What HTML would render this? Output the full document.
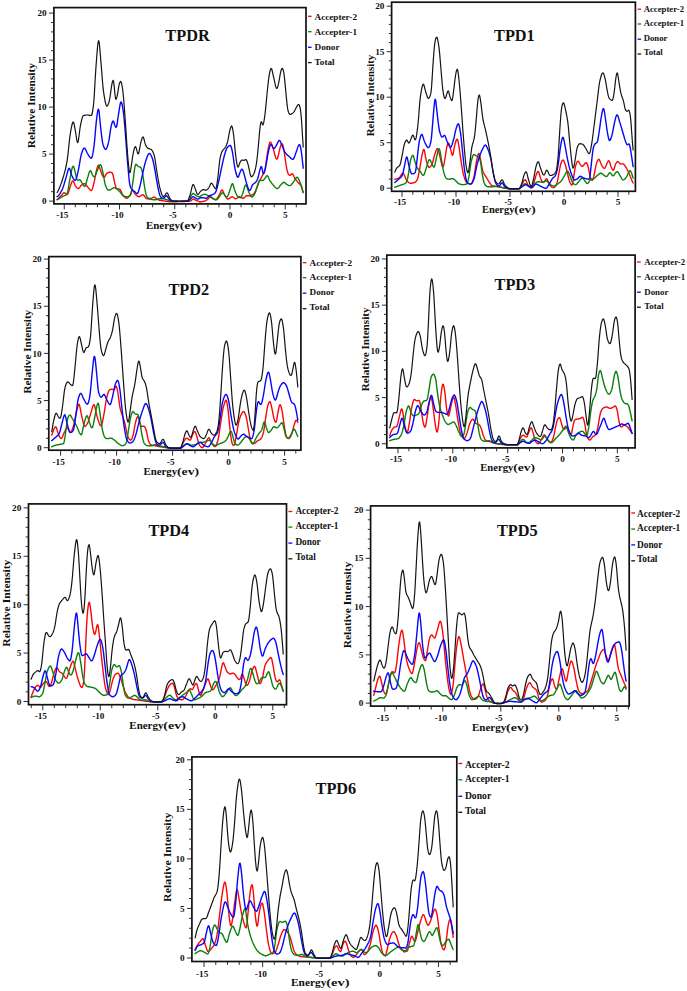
<!DOCTYPE html>
<html><head><meta charset="utf-8"><title>DOS plots</title>
<style>
html,body{margin:0;padding:0;background:#fff;overflow:hidden}
svg{display:block}
text{font-family:"Liberation Serif","DejaVu Serif",serif;font-weight:bold;fill:#111}
.t{}
.a{font-size:10.4px}
.h{font-size:15.5px}
.l{}
</style></head><body>
<svg width="687" height="991" viewBox="0 0 687 991">
<rect width="687" height="991" fill="#fff"/>
<g id="p1"><path d="M57.1 199.6 L57.6 199.3 L58.1 198.8 L58.6 198.3 L59.1 197.8 L59.6 197.3 L60.1 196.8 L60.6 196.3 L61.1 195.7 L61.6 195.2 L62.1 194.5 L62.6 193.9 L63.1 193.3 L63.6 192.9 L64.1 192.8 L64.6 192.9 L65.1 193.2 L65.6 193.6 L66.1 194.1 L66.6 194.5 L67.1 194.6 L67.6 194.2 L68.1 193.3 L68.6 191.9 L69.1 190.2 L69.6 188.5 L70.1 187.0 L70.6 185.6 L71.1 184.1 L71.6 182.7 L72.1 181.5 L72.6 180.9 L73.1 180.9 L73.6 181.6 L74.1 182.8 L74.6 184.2 L75.1 185.3 L75.6 186.1 L76.1 186.8 L76.6 187.4 L77.1 188.0 L77.6 188.4 L78.1 188.6 L78.6 188.5 L79.1 188.1 L79.6 187.5 L80.1 186.8 L80.6 186.0 L81.1 185.5 L81.6 185.0 L82.1 184.6 L82.6 184.3 L83.1 184.0 L83.6 183.8 L84.1 183.7 L84.6 183.7 L85.1 184.0 L85.6 184.5 L86.1 185.1 L86.6 185.7 L87.1 186.3 L87.6 186.9 L88.1 187.5 L88.6 188.1 L89.1 188.8 L89.6 189.4 L90.1 189.9 L90.6 190.3 L91.1 190.6 L91.6 190.4 L92.1 189.6 L92.6 188.2 L93.1 186.4 L93.6 184.4 L94.1 182.3 L94.6 179.9 L95.1 177.3 L95.6 174.5 L96.1 172.1 L96.6 170.0 L97.1 168.1 L97.6 166.5 L98.1 165.4 L98.6 165.2 L99.1 166.0 L99.6 167.5 L100.1 169.2 L100.6 170.7 L101.1 172.0 L101.6 173.3 L102.1 174.6 L102.6 175.7 L103.1 176.6 L103.6 177.2 L104.1 177.4 L104.6 177.0 L105.1 176.2 L105.6 175.1 L106.1 174.2 L106.6 173.6 L107.1 173.2 L107.6 172.9 L108.1 172.7 L108.6 172.5 L109.1 172.3 L109.6 172.2 L110.1 172.1 L110.6 172.1 L111.1 172.3 L111.6 172.5 L112.1 173.0 L112.6 173.7 L113.1 175.2 L113.6 177.5 L114.1 180.1 L114.6 182.4 L115.1 184.5 L115.6 186.3 L116.1 187.7 L116.6 188.5 L117.1 188.7 L117.6 188.8 L118.1 188.9 L118.6 188.9 L119.1 189.0 L119.6 189.1 L120.1 189.5 L120.6 190.3 L121.1 191.4 L121.6 192.5 L122.1 193.6 L122.6 194.5 L123.1 195.2 L123.6 195.8 L124.1 196.5 L124.6 197.0 L125.1 197.5 L125.6 197.9 L126.1 198.2 L126.6 198.3 L127.1 198.2 L127.6 198.0 L128.1 197.6 L128.6 197.1 L129.1 196.5 L129.6 195.9 L130.1 195.0 L130.6 193.9 L131.1 192.5 L131.6 191.3 L132.1 190.6 L132.6 190.5 L133.1 190.9 L133.6 191.7 L134.1 192.6 L134.6 193.4 L135.1 194.0 L135.6 194.5 L136.1 195.0 L136.6 195.5 L137.1 195.9 L137.6 196.3 L138.1 196.5 L138.6 196.7 L139.1 196.7 L139.6 196.5 L140.1 196.2 L140.6 195.9 L141.1 195.5 L141.6 195.2 L142.1 194.9 L142.6 194.8 L143.1 194.8 L143.6 195.1 L144.1 195.6 L144.6 196.3 L145.1 197.0 L145.6 197.7 L146.1 198.3 L146.6 198.6 L147.1 198.7 L147.6 198.7 L148.1 198.7 L148.6 198.7 L149.1 198.6 L149.6 198.5 L150.1 198.5 L150.6 198.4 L151.1 198.3 L151.6 198.1 L152.1 197.9 L152.6 197.6 L153.1 197.4 L153.6 197.2 L154.1 197.2 L154.6 197.3 L155.1 197.6 L155.6 198.0 L156.1 198.4 L156.6 198.8 L157.1 199.2 L157.6 199.5 L158.1 199.8 L158.6 199.9 L159.1 200.1 L159.6 200.2 L160.1 200.3 L160.6 200.4 L161.1 200.5 L161.6 200.5 L162.1 200.6 L162.6 200.7 L163.1 200.8 L163.6 200.9 L164.1 200.9 L164.6 201.0 L165.1 201.1 L165.6 201.2 L166.1 201.3 L166.6 201.3 L167.1 201.4 L167.6 201.5 L168.1 201.6 L168.6 201.6 L169.1 201.7 L169.6 201.7 L170.1 201.7 L170.6 201.8 L171.1 201.8 L171.6 201.8 L172.1 201.8 L172.6 201.8 L173.1 201.8 L173.6 201.7 L174.1 201.7 L174.6 201.7 L175.1 201.7 L175.6 201.7 L176.1 201.7 L176.6 201.7 L177.1 201.7 L177.6 201.6 L178.1 201.6 L178.6 201.6 L179.1 201.6 L179.6 201.6 L180.1 201.6 L180.6 201.6 L181.1 201.5 L181.6 201.5 L182.1 201.5 L182.6 201.5 L183.1 201.5 L183.6 201.5 L184.1 201.5 L184.6 201.5 L185.1 201.4 L185.6 201.4 L186.1 201.4 L186.6 201.4 L187.1 201.4 L187.6 201.3 L188.1 201.3 L188.6 201.3 L189.1 201.2 L189.6 201.2 L190.1 201.1 L190.6 201.0 L191.1 200.6 L191.6 200.2 L192.1 199.7 L192.6 199.4 L193.1 199.2 L193.6 199.2 L194.1 199.4 L194.6 199.6 L195.1 199.8 L195.6 200.1 L196.1 200.3 L196.6 200.5 L197.1 200.8 L197.6 201.0 L198.1 201.2 L198.6 201.4 L199.1 201.6 L199.6 201.7 L200.1 201.8 L200.6 201.8 L201.1 201.7 L201.6 201.7 L202.1 201.6 L202.6 201.5 L203.1 201.4 L203.6 201.3 L204.1 201.2 L204.6 201.1 L205.1 200.9 L205.6 200.7 L206.1 200.4 L206.6 200.2 L207.1 199.8 L207.6 199.4 L208.1 198.9 L208.6 198.3 L209.1 197.6 L209.6 197.1 L210.1 196.8 L210.6 196.8 L211.1 197.0 L211.6 197.2 L212.1 197.6 L212.6 198.0 L213.1 198.5 L213.6 198.9 L214.1 199.3 L214.6 199.5 L215.1 199.7 L215.6 199.7 L216.1 199.4 L216.6 199.0 L217.1 198.4 L217.6 197.6 L218.1 196.8 L218.6 196.0 L219.1 195.2 L219.6 194.3 L220.1 193.2 L220.6 192.0 L221.1 190.8 L221.6 190.1 L222.1 189.9 L222.6 190.4 L223.1 191.4 L223.6 192.7 L224.1 194.0 L224.6 194.9 L225.1 195.8 L225.6 196.6 L226.1 197.4 L226.6 198.1 L227.1 198.6 L227.6 199.0 L228.1 199.1 L228.6 199.0 L229.1 198.7 L229.6 198.4 L230.1 197.9 L230.6 197.5 L231.1 197.1 L231.6 196.9 L232.1 196.8 L232.6 196.9 L233.1 197.2 L233.6 197.5 L234.1 198.0 L234.6 198.3 L235.1 198.6 L235.6 198.7 L236.1 198.6 L236.6 198.4 L237.1 198.1 L237.6 197.7 L238.1 197.3 L238.6 197.0 L239.1 196.8 L239.6 196.8 L240.1 196.9 L240.6 197.1 L241.1 197.4 L241.6 197.7 L242.1 198.0 L242.6 198.2 L243.1 198.3 L243.6 198.1 L244.1 197.7 L244.6 197.3 L245.1 196.7 L245.6 196.3 L246.1 195.9 L246.6 195.8 L247.1 195.7 L247.6 195.7 L248.1 195.7 L248.6 195.7 L249.1 195.7 L249.6 195.7 L250.1 195.7 L250.6 195.6 L251.1 195.4 L251.6 195.2 L252.1 195.0 L252.6 194.7 L253.1 194.4 L253.6 193.9 L254.1 193.3 L254.6 192.5 L255.1 191.7 L255.6 190.9 L256.1 189.8 L256.6 188.6 L257.1 187.2 L257.6 185.7 L258.1 184.3 L258.6 183.0 L259.1 181.8 L259.6 180.8 L260.1 179.8 L260.6 178.8 L261.1 177.9 L261.6 176.9 L262.1 176.0 L262.6 175.1 L263.1 174.2 L263.6 173.3 L264.1 172.3 L264.6 170.9 L265.1 168.9 L265.6 166.0 L266.1 162.3 L266.6 158.5 L267.1 155.2 L267.6 152.3 L268.1 149.5 L268.6 146.9 L269.1 144.6 L269.6 143.0 L270.1 142.1 L270.6 142.2 L271.1 142.9 L271.6 144.0 L272.1 145.3 L272.6 146.7 L273.1 148.2 L273.6 149.9 L274.1 151.8 L274.6 153.8 L275.1 155.6 L275.6 157.2 L276.1 158.4 L276.6 159.1 L277.1 159.0 L277.6 158.1 L278.1 156.3 L278.6 154.1 L279.1 151.7 L279.6 149.6 L280.1 147.8 L280.6 146.2 L281.1 144.7 L281.6 143.7 L282.1 143.6 L282.6 144.5 L283.1 146.3 L283.6 148.5 L284.1 151.2 L284.6 154.4 L285.1 158.1 L285.6 161.8 L286.1 165.0 L286.6 167.8 L287.1 170.3 L287.6 172.3 L288.1 173.6 L288.6 174.4 L289.1 175.0 L289.6 175.3 L290.1 175.4 L290.6 175.1 L291.1 174.4 L291.6 173.9 L292.1 173.7 L292.6 173.9 L293.1 174.6 L293.6 175.6 L294.1 176.7 L294.6 177.7 L295.1 178.6 L295.6 179.3 L296.1 180.0 L296.6 180.7 L297.1 181.4 L297.6 182.0 L298.1 182.6 L298.6 183.1 L299.1 183.5 L299.6 183.9 L300.1 184.4 L300.6 184.9 L301.1 185.7 L301.6 186.8 L302.1 188.4 L302.6 190.3 L303.1 192.0 L303.1 192.6" fill="none" stroke="#fa0606" stroke-width="1.40" stroke-linejoin="round" stroke-linecap="round"/>
<path d="M57.1 199.7 L57.6 199.5 L58.1 199.2 L58.6 198.9 L59.1 198.6 L59.6 198.3 L60.1 198.0 L60.6 197.7 L61.1 197.4 L61.6 197.1 L62.1 196.8 L62.6 196.5 L63.1 196.2 L63.6 196.0 L64.1 195.8 L64.6 195.6 L65.1 195.4 L65.6 195.1 L66.1 194.7 L66.6 194.3 L67.1 193.6 L67.6 192.3 L68.1 189.9 L68.6 186.8 L69.1 183.6 L69.6 180.7 L70.1 178.1 L70.6 175.5 L71.1 172.8 L71.6 170.4 L72.1 168.3 L72.6 166.8 L73.1 166.2 L73.6 166.5 L74.1 167.8 L74.6 169.8 L75.1 171.9 L75.6 174.0 L76.1 176.3 L76.6 178.4 L77.1 179.7 L77.6 180.1 L78.1 180.1 L78.6 180.0 L79.1 179.9 L79.6 179.8 L80.1 179.9 L80.6 180.4 L81.1 181.3 L81.6 182.3 L82.1 183.2 L82.6 184.0 L83.1 184.8 L83.6 185.6 L84.1 186.2 L84.6 186.5 L85.1 186.1 L85.6 185.0 L86.1 183.3 L86.6 181.4 L87.1 179.5 L87.6 177.8 L88.1 176.2 L88.6 174.4 L89.1 172.8 L89.6 171.6 L90.1 170.8 L90.6 170.8 L91.1 171.5 L91.6 172.7 L92.1 174.0 L92.6 175.1 L93.1 175.9 L93.6 176.4 L94.1 176.8 L94.6 176.7 L95.1 176.1 L95.6 174.9 L96.1 173.5 L96.6 172.2 L97.1 170.9 L97.6 169.7 L98.1 168.5 L98.6 167.2 L99.1 166.1 L99.6 165.2 L100.1 164.7 L100.6 164.7 L101.1 165.5 L101.6 167.0 L102.1 169.0 L102.6 171.2 L103.1 173.4 L103.6 176.0 L104.1 178.8 L104.6 181.6 L105.1 184.0 L105.6 185.7 L106.1 186.9 L106.6 188.0 L107.1 188.9 L107.6 189.6 L108.1 190.0 L108.6 190.2 L109.1 190.2 L109.6 190.0 L110.1 189.8 L110.6 189.6 L111.1 189.3 L111.6 189.0 L112.1 188.7 L112.6 188.4 L113.1 188.1 L113.6 187.8 L114.1 187.7 L114.6 187.7 L115.1 187.9 L115.6 188.1 L116.1 188.5 L116.6 188.8 L117.1 189.2 L117.6 189.6 L118.1 190.0 L118.6 190.5 L119.1 191.0 L119.6 191.5 L120.1 192.1 L120.6 192.6 L121.1 193.3 L121.6 194.0 L122.1 194.7 L122.6 195.4 L123.1 195.9 L123.6 196.2 L124.1 196.4 L124.6 196.5 L125.1 196.5 L125.6 196.6 L126.1 196.7 L126.6 196.7 L127.1 196.7 L127.6 196.7 L128.1 196.7 L128.6 196.5 L129.1 196.3 L129.6 195.9 L130.1 195.4 L130.6 194.8 L131.1 193.4 L131.6 190.8 L132.1 187.4 L132.6 183.9 L133.1 180.3 L133.6 176.6 L134.1 172.6 L134.6 169.0 L135.1 166.2 L135.6 164.6 L136.1 164.2 L136.6 164.6 L137.1 165.2 L137.6 165.8 L138.1 166.3 L138.6 166.6 L139.1 166.8 L139.6 166.9 L140.1 167.1 L140.6 167.4 L141.1 168.0 L141.6 169.2 L142.1 171.0 L142.6 173.4 L143.1 176.5 L143.6 180.3 L144.1 184.0 L144.6 187.1 L145.1 189.9 L145.6 192.3 L146.1 194.4 L146.6 196.0 L147.1 196.9 L147.6 197.6 L148.1 198.1 L148.6 198.5 L149.1 198.8 L149.6 199.0 L150.1 199.2 L150.6 199.3 L151.1 199.4 L151.6 199.5 L152.1 199.5 L152.6 199.6 L153.1 199.7 L153.6 199.7 L154.1 199.7 L154.6 199.7 L155.1 199.7 L155.6 199.7 L156.1 199.6 L156.6 199.4 L157.1 199.2 L157.6 199.0 L158.1 198.9 L158.6 198.8 L159.1 198.8 L159.6 198.7 L160.1 198.7 L160.6 198.7 L161.1 198.7 L161.6 198.7 L162.1 198.7 L162.6 198.7 L163.1 198.8 L163.6 198.8 L164.1 198.9 L164.6 199.0 L165.1 199.1 L165.6 199.3 L166.1 199.4 L166.6 199.6 L167.1 199.8 L167.6 199.9 L168.1 200.1 L168.6 200.4 L169.1 200.6 L169.6 200.8 L170.1 201.0 L170.6 201.1 L171.1 201.2 L171.6 201.2 L172.1 201.2 L172.6 201.2 L173.1 201.2 L173.6 201.3 L174.1 201.3 L174.6 201.3 L175.1 201.3 L175.6 201.3 L176.1 201.3 L176.6 201.3 L177.1 201.3 L177.6 201.4 L178.1 201.4 L178.6 201.4 L179.1 201.4 L179.6 201.4 L180.1 201.4 L180.6 201.4 L181.1 201.4 L181.6 201.4 L182.1 201.4 L182.6 201.4 L183.1 201.3 L183.6 201.3 L184.1 201.3 L184.6 201.3 L185.1 201.3 L185.6 201.3 L186.1 201.3 L186.6 201.2 L187.1 201.2 L187.6 201.2 L188.1 201.1 L188.6 200.7 L189.1 200.0 L189.6 199.0 L190.1 197.8 L190.6 196.7 L191.1 195.8 L191.6 195.0 L192.1 194.3 L192.6 193.7 L193.1 193.4 L193.6 193.5 L194.1 193.8 L194.6 194.3 L195.1 194.8 L195.6 195.3 L196.1 195.6 L196.6 195.9 L197.1 196.1 L197.6 196.4 L198.1 196.5 L198.6 196.6 L199.1 196.7 L199.6 196.6 L200.1 196.4 L200.6 196.1 L201.1 195.8 L201.6 195.5 L202.1 195.2 L202.6 195.0 L203.1 194.7 L203.6 194.5 L204.1 194.4 L204.6 194.3 L205.1 194.4 L205.6 194.5 L206.1 194.6 L206.6 194.9 L207.1 195.1 L207.6 195.4 L208.1 195.6 L208.6 195.9 L209.1 196.2 L209.6 196.5 L210.1 196.9 L210.6 197.3 L211.1 197.6 L211.6 197.9 L212.1 198.2 L212.6 198.5 L213.1 198.7 L213.6 198.9 L214.1 199.2 L214.6 199.4 L215.1 199.5 L215.6 199.7 L216.1 199.7 L216.6 199.7 L217.1 199.4 L217.6 199.0 L218.1 198.4 L218.6 197.7 L219.1 197.1 L219.6 196.4 L220.1 195.7 L220.6 194.8 L221.1 194.0 L221.6 193.3 L222.1 192.9 L222.6 192.8 L223.1 193.0 L223.6 193.5 L224.1 194.1 L224.6 194.9 L225.1 195.6 L225.6 196.2 L226.1 196.7 L226.6 197.0 L227.1 196.9 L227.6 196.3 L228.1 195.3 L228.6 194.0 L229.1 192.5 L229.6 191.0 L230.1 189.6 L230.6 188.1 L231.1 186.5 L231.6 185.0 L232.1 183.9 L232.6 183.7 L233.1 184.6 L233.6 186.3 L234.1 188.2 L234.6 189.8 L235.1 191.1 L235.6 192.4 L236.1 193.6 L236.6 194.7 L237.1 195.7 L237.6 196.3 L238.1 196.8 L238.6 197.1 L239.1 197.3 L239.6 197.5 L240.1 197.7 L240.6 197.6 L241.1 197.2 L241.6 196.3 L242.1 195.1 L242.6 193.8 L243.1 192.3 L243.6 190.7 L244.1 188.7 L244.6 186.9 L245.1 185.5 L245.6 184.9 L246.1 185.1 L246.6 186.0 L247.1 187.3 L247.6 188.8 L248.1 190.2 L248.6 191.5 L249.1 192.7 L249.6 193.8 L250.1 195.0 L250.6 196.0 L251.1 196.7 L251.6 197.0 L252.1 197.0 L252.6 196.7 L253.1 196.2 L253.6 195.6 L254.1 195.0 L254.6 194.1 L255.1 192.9 L255.6 191.5 L256.1 189.8 L256.6 188.2 L257.1 186.7 L257.6 185.2 L258.1 183.6 L258.6 182.2 L259.1 181.0 L259.6 180.4 L260.1 180.2 L260.6 180.3 L261.1 180.3 L261.6 180.4 L262.1 180.5 L262.6 180.5 L263.1 180.4 L263.6 180.0 L264.1 179.4 L264.6 178.8 L265.1 178.1 L265.6 177.4 L266.1 176.6 L266.6 176.0 L267.1 175.7 L267.6 175.9 L268.1 176.6 L268.6 177.7 L269.1 179.0 L269.6 180.1 L270.1 181.0 L270.6 181.7 L271.1 182.4 L271.6 183.1 L272.1 183.7 L272.6 184.3 L273.1 184.9 L273.6 185.5 L274.1 186.1 L274.6 186.7 L275.1 187.2 L275.6 187.7 L276.1 188.1 L276.6 188.4 L277.1 188.6 L277.6 188.5 L278.1 188.2 L278.6 187.7 L279.1 187.1 L279.6 186.4 L280.1 185.7 L280.6 185.0 L281.1 184.5 L281.6 183.9 L282.1 183.4 L282.6 182.9 L283.1 182.6 L283.6 182.3 L284.1 182.3 L284.6 182.5 L285.1 182.9 L285.6 183.4 L286.1 183.9 L286.6 184.3 L287.1 184.6 L287.6 184.9 L288.1 185.1 L288.6 185.3 L289.1 185.5 L289.6 185.6 L290.1 185.6 L290.6 185.4 L291.1 185.0 L291.6 184.4 L292.1 183.8 L292.6 183.2 L293.1 182.5 L293.6 181.8 L294.1 181.0 L294.6 180.1 L295.1 179.3 L295.6 178.5 L296.1 177.8 L296.6 177.4 L297.1 177.3 L297.6 177.5 L298.1 178.1 L298.6 179.0 L299.1 180.1 L299.6 181.3 L300.1 182.6 L300.6 183.9 L301.1 185.3 L301.6 186.9 L302.1 188.7 L302.6 190.5 L303.1 192.1 L303.1 192.6" fill="none" stroke="#0a800a" stroke-width="1.40" stroke-linejoin="round" stroke-linecap="round"/>
<path d="M57.1 196.7 L57.6 196.4 L58.1 196.0 L58.6 195.5 L59.1 194.9 L59.6 194.2 L60.1 193.4 L60.6 192.5 L61.1 191.6 L61.6 190.7 L62.1 189.7 L62.6 188.6 L63.1 187.3 L63.6 185.8 L64.1 184.1 L64.6 182.4 L65.1 180.8 L65.6 179.1 L66.1 177.4 L66.6 175.6 L67.1 173.6 L67.6 171.7 L68.1 170.0 L68.6 168.8 L69.1 168.3 L69.6 168.6 L70.1 169.8 L70.6 171.5 L71.1 173.3 L71.6 174.9 L72.1 176.1 L72.6 177.1 L73.1 178.1 L73.6 179.0 L74.1 179.7 L74.6 180.2 L75.1 180.4 L75.6 180.2 L76.1 179.2 L76.6 177.7 L77.1 175.7 L77.6 173.5 L78.1 171.3 L78.6 169.0 L79.1 166.3 L79.6 163.3 L80.1 160.3 L80.6 157.5 L81.1 155.3 L81.6 153.5 L82.1 152.0 L82.6 150.6 L83.1 149.4 L83.6 148.5 L84.1 148.1 L84.6 148.1 L85.1 148.6 L85.6 149.5 L86.1 150.6 L86.6 151.8 L87.1 152.8 L87.6 153.7 L88.1 154.5 L88.6 155.3 L89.1 156.1 L89.6 156.9 L90.1 157.5 L90.6 158.0 L91.1 158.2 L91.6 158.0 L92.1 156.9 L92.6 154.9 L93.1 152.2 L93.6 149.1 L94.1 145.5 L94.6 140.9 L95.1 135.2 L95.6 129.1 L96.1 123.6 L96.6 119.0 L97.1 115.1 L97.6 111.7 L98.1 109.4 L98.6 109.3 L99.1 111.9 L99.6 116.7 L100.1 122.0 L100.6 126.9 L101.1 131.4 L101.6 135.7 L102.1 139.6 L102.6 142.7 L103.1 144.7 L103.6 146.2 L104.1 147.4 L104.6 148.4 L105.1 149.1 L105.6 149.4 L106.1 149.2 L106.6 148.4 L107.1 147.2 L107.6 145.7 L108.1 143.9 L108.6 141.9 L109.1 139.4 L109.6 136.1 L110.1 132.6 L110.6 129.3 L111.1 126.6 L111.6 124.6 L112.1 122.8 L112.6 121.5 L113.1 121.0 L113.6 121.5 L114.1 123.0 L114.6 124.7 L115.1 126.1 L115.6 127.0 L116.1 127.4 L116.6 126.5 L117.1 124.0 L117.6 120.5 L118.1 117.0 L118.6 113.8 L119.1 110.6 L119.6 107.3 L120.1 104.5 L120.6 102.5 L121.1 101.9 L121.6 102.6 L122.1 104.5 L122.6 107.1 L123.1 110.2 L123.6 114.0 L124.1 118.8 L124.6 124.3 L125.1 130.1 L125.6 136.3 L126.1 142.9 L126.6 149.9 L127.1 156.6 L127.6 162.8 L128.1 168.5 L128.6 174.1 L129.1 179.3 L129.6 183.5 L130.1 186.1 L130.6 187.5 L131.1 188.4 L131.6 189.0 L132.1 189.6 L132.6 190.0 L133.1 190.5 L133.6 190.8 L134.1 191.2 L134.6 191.5 L135.1 192.0 L135.6 192.5 L136.1 193.0 L136.6 193.4 L137.1 193.6 L137.6 193.3 L138.1 192.4 L138.6 191.0 L139.1 189.3 L139.6 187.5 L140.1 185.6 L140.6 183.5 L141.1 181.2 L141.6 178.7 L142.1 176.2 L142.6 173.8 L143.1 171.5 L143.6 169.3 L144.1 167.1 L144.6 165.0 L145.1 163.1 L145.6 161.4 L146.1 159.8 L146.6 158.4 L147.1 157.0 L147.6 155.8 L148.1 154.7 L148.6 153.9 L149.1 153.5 L149.6 153.5 L150.1 153.9 L150.6 154.5 L151.1 155.5 L151.6 156.6 L152.1 157.8 L152.6 159.2 L153.1 161.0 L153.6 163.3 L154.1 165.8 L154.6 168.5 L155.1 171.2 L155.6 174.0 L156.1 177.0 L156.6 180.1 L157.1 182.9 L157.6 185.6 L158.1 188.0 L158.6 190.5 L159.1 192.7 L159.6 194.6 L160.1 196.0 L160.6 196.8 L161.1 197.4 L161.6 197.8 L162.1 198.1 L162.6 198.2 L163.1 198.3 L163.6 198.1 L164.1 197.7 L164.6 197.2 L165.1 196.7 L165.6 196.2 L166.1 195.9 L166.6 195.8 L167.1 196.2 L167.6 196.8 L168.1 197.7 L168.6 198.5 L169.1 199.1 L169.6 199.6 L170.1 200.0 L170.6 200.4 L171.1 200.8 L171.6 201.0 L172.1 201.1 L172.6 201.2 L173.1 201.2 L173.6 201.2 L174.1 201.3 L174.6 201.3 L175.1 201.3 L175.6 201.3 L176.1 201.3 L176.6 201.3 L177.1 201.3 L177.6 201.4 L178.1 201.4 L178.6 201.4 L179.1 201.4 L179.6 201.4 L180.1 201.4 L180.6 201.4 L181.1 201.4 L181.6 201.4 L182.1 201.4 L182.6 201.3 L183.1 201.3 L183.6 201.3 L184.1 201.3 L184.6 201.3 L185.1 201.3 L185.6 201.2 L186.1 201.2 L186.6 201.2 L187.1 201.1 L187.6 201.0 L188.1 200.8 L188.6 200.4 L189.1 200.0 L189.6 199.6 L190.1 199.2 L190.6 198.7 L191.1 198.2 L191.6 197.7 L192.1 197.3 L192.6 196.9 L193.1 196.8 L193.6 196.9 L194.1 197.1 L194.6 197.5 L195.1 197.9 L195.6 198.2 L196.1 198.5 L196.6 198.7 L197.1 198.9 L197.6 199.1 L198.1 199.1 L198.6 198.9 L199.1 198.5 L199.6 198.1 L200.1 197.8 L200.6 197.7 L201.1 197.7 L201.6 197.7 L202.1 197.7 L202.6 197.7 L203.1 197.7 L203.6 197.8 L204.1 197.9 L204.6 198.0 L205.1 198.1 L205.6 198.2 L206.1 198.3 L206.6 198.2 L207.1 197.9 L207.6 197.4 L208.1 196.8 L208.6 196.3 L209.1 195.9 L209.6 195.6 L210.1 195.4 L210.6 195.3 L211.1 195.1 L211.6 195.0 L212.1 194.8 L212.6 194.6 L213.1 194.3 L213.6 194.1 L214.1 193.8 L214.6 193.4 L215.1 192.9 L215.6 192.2 L216.1 191.1 L216.6 189.6 L217.1 187.8 L217.6 185.8 L218.1 183.7 L218.6 181.7 L219.1 179.5 L219.6 177.2 L220.1 174.8 L220.6 172.3 L221.1 169.9 L221.6 167.6 L222.1 165.3 L222.6 163.0 L223.1 160.7 L223.6 158.5 L224.1 156.6 L224.6 154.8 L225.1 153.1 L225.6 151.5 L226.1 150.1 L226.6 148.8 L227.1 147.8 L227.6 147.2 L228.1 146.7 L228.6 146.3 L229.1 145.9 L229.6 145.7 L230.1 145.5 L230.6 145.7 L231.1 146.6 L231.6 148.3 L232.1 150.5 L232.6 152.9 L233.1 156.0 L233.6 159.6 L234.1 163.3 L234.6 166.5 L235.1 169.1 L235.6 171.3 L236.1 173.3 L236.6 175.0 L237.1 176.4 L237.6 177.2 L238.1 177.2 L238.6 176.5 L239.1 175.1 L239.6 173.6 L240.1 172.3 L240.6 171.1 L241.1 170.0 L241.6 169.3 L242.1 169.1 L242.6 169.7 L243.1 170.9 L243.6 172.5 L244.1 174.2 L244.6 175.9 L245.1 177.8 L245.6 179.8 L246.1 181.7 L246.6 183.5 L247.1 185.0 L247.6 186.6 L248.1 188.0 L248.6 189.3 L249.1 190.1 L249.6 190.5 L250.1 190.2 L250.6 189.4 L251.1 188.3 L251.6 186.9 L252.1 185.7 L252.6 184.8 L253.1 184.2 L253.6 183.8 L254.1 183.5 L254.6 183.1 L255.1 182.8 L255.6 182.3 L256.1 181.7 L256.6 180.9 L257.1 180.0 L257.6 178.8 L258.1 177.3 L258.6 175.3 L259.1 173.1 L259.6 171.1 L260.1 169.3 L260.6 167.6 L261.1 166.6 L261.6 166.9 L262.1 168.7 L262.6 171.2 L263.1 173.2 L263.6 173.7 L264.1 172.9 L264.6 171.4 L265.1 169.5 L265.6 167.3 L266.1 164.9 L266.6 162.1 L267.1 158.8 L267.6 155.7 L268.1 153.0 L268.6 150.8 L269.1 148.7 L269.6 146.9 L270.1 145.4 L270.6 144.6 L271.1 144.5 L271.6 145.0 L272.1 145.9 L272.6 147.0 L273.1 147.9 L273.6 148.4 L274.1 148.5 L274.6 148.2 L275.1 147.5 L275.6 146.7 L276.1 145.7 L276.6 144.8 L277.1 143.9 L277.6 142.9 L278.1 141.8 L278.6 141.0 L279.1 140.4 L279.6 140.5 L280.1 141.0 L280.6 142.0 L281.1 143.2 L281.6 144.4 L282.1 145.6 L282.6 146.8 L283.1 148.1 L283.6 149.4 L284.1 150.6 L284.6 151.6 L285.1 152.5 L285.6 153.1 L286.1 153.7 L286.6 154.2 L287.1 154.7 L287.6 155.2 L288.1 155.6 L288.6 156.0 L289.1 156.4 L289.6 156.9 L290.1 157.4 L290.6 157.9 L291.1 158.4 L291.6 158.8 L292.1 159.1 L292.6 159.3 L293.1 159.3 L293.6 158.8 L294.1 157.9 L294.6 156.6 L295.1 155.1 L295.6 153.7 L296.1 152.3 L296.6 150.9 L297.1 149.4 L297.6 147.9 L298.1 146.5 L298.6 145.3 L299.1 144.6 L299.6 144.6 L300.1 145.6 L300.6 147.7 L301.1 150.3 L301.6 153.5 L302.1 157.6 L302.6 162.5 L303.1 166.7 L303.1 168.3" fill="none" stroke="#0606fa" stroke-width="1.40" stroke-linejoin="round" stroke-linecap="round"/>
<path d="M57.1 192.5 L57.6 191.8 L58.1 190.9 L58.6 189.8 L59.1 188.7 L59.6 187.6 L60.1 186.3 L60.6 185.0 L61.1 183.6 L61.6 182.2 L62.1 180.7 L62.6 179.2 L63.1 177.6 L63.6 176.0 L64.1 174.2 L64.6 172.4 L65.1 170.4 L65.6 168.3 L66.1 166.0 L66.6 163.5 L67.1 160.8 L67.6 157.4 L68.1 153.1 L68.6 148.3 L69.1 143.4 L69.6 138.8 L70.1 135.1 L70.6 132.0 L71.1 129.2 L71.6 126.5 L72.1 124.3 L72.6 122.7 L73.1 122.0 L73.6 122.5 L74.1 124.1 L74.6 126.6 L75.1 129.3 L75.6 132.2 L76.1 135.5 L76.6 138.8 L77.1 141.5 L77.6 142.6 L78.1 141.8 L78.6 139.1 L79.1 135.2 L79.6 131.1 L80.1 127.5 L80.6 124.8 L81.1 122.4 L81.6 120.2 L82.1 118.3 L82.6 116.8 L83.1 115.9 L83.6 115.5 L84.1 115.4 L84.6 115.3 L85.1 115.2 L85.6 115.1 L86.1 115.1 L86.6 115.0 L87.1 115.0 L87.6 115.0 L88.1 115.1 L88.6 115.1 L89.1 115.2 L89.6 115.3 L90.1 115.4 L90.6 115.5 L91.1 115.5 L91.6 115.2 L92.1 113.8 L92.6 111.3 L93.1 108.1 L93.6 103.8 L94.1 97.7 L94.6 89.6 L95.1 80.8 L95.6 72.4 L96.1 65.1 L96.6 58.5 L97.1 52.1 L97.6 46.4 L98.1 42.3 L98.6 40.6 L99.1 41.9 L99.6 46.0 L100.1 51.7 L100.6 57.9 L101.1 63.9 L101.6 70.1 L102.1 76.6 L102.6 82.8 L103.1 88.1 L103.6 92.1 L104.1 95.4 L104.6 98.3 L105.1 101.0 L105.6 103.2 L106.1 104.9 L106.6 105.9 L107.1 106.1 L107.6 105.6 L108.1 104.6 L108.6 103.2 L109.1 101.6 L109.6 99.5 L110.1 96.6 L110.6 92.9 L111.1 89.1 L111.6 85.8 L112.1 83.2 L112.6 81.2 L113.1 80.3 L113.6 81.7 L114.1 85.5 L114.6 90.7 L115.1 95.6 L115.6 98.6 L116.1 99.3 L116.6 98.1 L117.1 96.2 L117.6 93.8 L118.1 90.8 L118.6 87.4 L119.1 84.7 L119.6 83.0 L120.1 82.1 L120.6 81.5 L121.1 81.9 L121.6 83.4 L122.1 86.0 L122.6 89.3 L123.1 93.4 L123.6 98.5 L124.1 104.6 L124.6 111.2 L125.1 118.0 L125.6 125.1 L126.1 132.8 L126.6 140.6 L127.1 148.1 L127.6 154.6 L128.1 160.5 L128.6 165.9 L129.1 170.3 L129.6 172.6 L130.1 172.4 L130.6 170.2 L131.1 167.0 L131.6 163.6 L132.1 160.3 L132.6 157.0 L133.1 153.9 L133.6 151.3 L134.1 149.3 L134.6 147.7 L135.1 146.7 L135.6 146.7 L136.1 147.7 L136.6 149.4 L137.1 151.4 L137.6 153.1 L138.1 153.9 L138.6 153.5 L139.1 151.6 L139.6 148.9 L140.1 146.0 L140.6 143.4 L141.1 141.4 L141.6 139.7 L142.1 138.2 L142.6 137.2 L143.1 136.9 L143.6 137.7 L144.1 139.5 L144.6 141.7 L145.1 143.5 L145.6 144.9 L146.1 145.9 L146.6 146.7 L147.1 147.5 L147.6 148.0 L148.1 148.4 L148.6 148.6 L149.1 148.7 L149.6 148.8 L150.1 149.0 L150.6 149.2 L151.1 149.4 L151.6 149.9 L152.1 150.5 L152.6 151.3 L153.1 152.3 L153.6 153.5 L154.1 154.9 L154.6 157.0 L155.1 159.8 L155.6 163.1 L156.1 166.6 L156.6 170.0 L157.1 173.1 L157.6 176.0 L158.1 179.0 L158.6 181.9 L159.1 184.6 L159.6 186.9 L160.1 188.8 L160.6 190.6 L161.1 192.2 L161.6 193.7 L162.1 194.9 L162.6 195.9 L163.1 196.5 L163.6 196.6 L164.1 196.3 L164.6 195.7 L165.1 195.0 L165.6 194.2 L166.1 193.5 L166.6 193.0 L167.1 192.9 L167.6 193.3 L168.1 194.3 L168.6 195.6 L169.1 196.9 L169.6 197.8 L170.1 198.5 L170.6 199.2 L171.1 199.8 L171.6 200.3 L172.1 200.7 L172.6 201.0 L173.1 201.1 L173.6 201.2 L174.1 201.2 L174.6 201.2 L175.1 201.2 L175.6 201.2 L176.1 201.2 L176.6 201.2 L177.1 201.2 L177.6 201.2 L178.1 201.2 L178.6 201.2 L179.1 201.2 L179.6 201.2 L180.1 201.2 L180.6 201.2 L181.1 201.2 L181.6 201.2 L182.1 201.2 L182.6 201.2 L183.1 201.2 L183.6 201.2 L184.1 201.2 L184.6 201.2 L185.1 201.2 L185.6 201.2 L186.1 201.2 L186.6 201.2 L187.1 201.1 L187.6 200.8 L188.1 200.0 L188.6 198.9 L189.1 197.6 L189.6 196.2 L190.1 194.7 L190.6 193.0 L191.1 190.9 L191.6 188.7 L192.1 186.6 L192.6 185.1 L193.1 184.5 L193.6 184.8 L194.1 185.8 L194.6 187.1 L195.1 188.5 L195.6 189.8 L196.1 191.3 L196.6 192.7 L197.1 193.8 L197.6 194.5 L198.1 194.5 L198.6 194.0 L199.1 193.3 L199.6 192.5 L200.1 191.8 L200.6 191.3 L201.1 190.9 L201.6 190.5 L202.1 190.1 L202.6 189.8 L203.1 189.7 L203.6 189.7 L204.1 189.8 L204.6 189.9 L205.1 190.1 L205.6 190.2 L206.1 190.2 L206.6 190.1 L207.1 189.8 L207.6 189.3 L208.1 188.7 L208.6 188.0 L209.1 187.2 L209.6 186.2 L210.1 185.0 L210.6 183.9 L211.1 183.3 L211.6 183.2 L212.1 183.7 L212.6 184.4 L213.1 185.3 L213.6 186.1 L214.1 186.9 L214.6 187.8 L215.1 188.5 L215.6 188.8 L216.1 188.1 L216.6 186.1 L217.1 183.0 L217.6 179.3 L218.1 175.4 L218.6 170.8 L219.1 165.9 L219.6 161.4 L220.1 158.1 L220.6 155.8 L221.1 154.0 L221.6 152.6 L222.1 151.4 L222.6 150.5 L223.1 149.8 L223.6 149.3 L224.1 148.8 L224.6 148.3 L225.1 147.7 L225.6 147.0 L226.1 146.0 L226.6 144.8 L227.1 143.3 L227.6 141.6 L228.1 139.3 L228.6 136.6 L229.1 133.8 L229.6 131.4 L230.1 129.4 L230.6 127.8 L231.1 126.6 L231.6 126.0 L232.1 126.7 L232.6 128.7 L233.1 131.5 L233.6 135.0 L234.1 139.5 L234.6 144.9 L235.1 150.2 L235.6 154.6 L236.1 158.5 L236.6 161.9 L237.1 164.8 L237.6 166.6 L238.1 167.1 L238.6 166.3 L239.1 164.9 L239.6 163.4 L240.1 162.3 L240.6 161.4 L241.1 160.7 L241.6 160.2 L242.1 160.0 L242.6 160.1 L243.1 160.2 L243.6 160.3 L244.1 160.3 L244.6 160.2 L245.1 159.9 L245.6 159.6 L246.1 159.6 L246.6 160.2 L247.1 161.4 L247.6 163.0 L248.1 164.7 L248.6 166.7 L249.1 169.0 L249.6 171.5 L250.1 173.9 L250.6 175.6 L251.1 176.6 L251.6 176.8 L252.1 176.5 L252.6 175.9 L253.1 175.1 L253.6 174.3 L254.1 173.2 L254.6 171.8 L255.1 170.0 L255.6 167.9 L256.1 165.5 L256.6 162.4 L257.1 158.5 L257.6 153.8 L258.1 148.7 L258.6 143.2 L259.1 137.2 L259.6 131.4 L260.1 126.9 L260.6 123.7 L261.1 121.9 L261.6 121.9 L262.1 123.5 L262.6 124.9 L263.1 124.9 L263.6 123.2 L264.1 120.5 L264.6 117.2 L265.1 113.5 L265.6 108.9 L266.1 103.6 L266.6 98.2 L267.1 93.0 L267.6 88.2 L268.1 83.6 L268.6 79.3 L269.1 75.7 L269.6 73.0 L270.1 70.8 L270.6 69.2 L271.1 68.4 L271.6 68.7 L272.1 70.3 L272.6 72.5 L273.1 74.8 L273.6 77.0 L274.1 79.2 L274.6 81.6 L275.1 83.9 L275.6 85.9 L276.1 87.4 L276.6 88.4 L277.1 88.3 L277.6 87.3 L278.1 85.4 L278.6 83.2 L279.1 80.7 L279.6 77.9 L280.1 74.8 L280.6 72.2 L281.1 70.3 L281.6 69.0 L282.1 68.3 L282.6 68.5 L283.1 69.7 L283.6 71.8 L284.1 74.7 L284.6 78.9 L285.1 84.1 L285.6 89.6 L286.1 94.8 L286.6 99.9 L287.1 104.7 L287.6 108.5 L288.1 111.0 L288.6 112.4 L289.1 113.4 L289.6 114.1 L290.1 114.3 L290.6 114.3 L291.1 114.1 L291.6 113.9 L292.1 113.6 L292.6 113.3 L293.1 112.9 L293.6 112.3 L294.1 111.6 L294.6 110.7 L295.1 109.7 L295.6 108.8 L296.1 107.9 L296.6 107.0 L297.1 106.1 L297.6 105.3 L298.1 104.7 L298.6 104.5 L299.1 104.8 L299.6 106.0 L300.1 107.9 L300.6 110.7 L301.1 115.1 L301.6 121.7 L302.1 129.6 L302.6 137.8 L303.1 144.5 L303.1 147.1" fill="none" stroke="#141414" stroke-width="1.20" stroke-linejoin="round" stroke-linecap="round"/>
<rect x="53.90" y="7.60" width="252.10" height="196.30" fill="none" stroke="#111" stroke-width="1.7"/>
<path d="M49.00 201.10h4.90M51.10 191.70h2.80M51.10 182.30h2.80M51.10 172.90h2.80M51.10 163.50h2.80M49.00 154.10h4.90M51.10 144.70h2.80M51.10 135.30h2.80M51.10 125.90h2.80M51.10 116.50h2.80M49.00 107.10h4.90M51.10 97.70h2.80M51.10 88.30h2.80M51.10 78.90h2.80M51.10 69.50h2.80M49.00 60.10h4.90M51.10 50.70h2.80M51.10 41.30h2.80M51.10 31.90h2.80M51.10 22.50h2.80M49.00 13.10h4.90M64.25 203.90v5.50M75.30 203.90v3.40M86.35 203.90v3.40M97.40 203.90v3.40M108.45 203.90v3.40M119.50 203.90v5.50M130.55 203.90v3.40M141.60 203.90v3.40M152.65 203.90v3.40M163.70 203.90v3.40M174.75 203.90v5.50M185.80 203.90v3.40M196.85 203.90v3.40M207.90 203.90v3.40M218.95 203.90v3.40M230.00 203.90v5.50M241.05 203.90v3.40M252.10 203.90v3.40M263.15 203.90v3.40M274.20 203.90v3.40M285.25 203.90v5.50M296.30 203.90v3.40" stroke="#222" stroke-width="0.95" fill="none"/>
<text x="46.70" y="204.20" text-anchor="end" class="t" font-size="9.20">0</text>
<text x="46.70" y="157.20" text-anchor="end" class="t" font-size="9.20">5</text>
<text x="46.70" y="110.20" text-anchor="end" class="t" font-size="9.20">10</text>
<text x="46.70" y="63.20" text-anchor="end" class="t" font-size="9.20">15</text>
<text x="46.70" y="16.20" text-anchor="end" class="t" font-size="9.20">20</text>
<text x="62.35" y="218.30" text-anchor="middle" class="t" font-size="9.20">-15</text>
<text x="117.60" y="218.30" text-anchor="middle" class="t" font-size="9.20">-10</text>
<text x="172.85" y="218.30" text-anchor="middle" class="t" font-size="9.20">-5</text>
<text x="230.00" y="218.30" text-anchor="middle" class="t" font-size="9.20">0</text>
<text x="285.25" y="218.30" text-anchor="middle" class="t" font-size="9.20">5</text>
<text x="146.00" y="228.50" class="a"><tspan textLength="33.84" lengthAdjust="spacingAndGlyphs">Energy</tspan><tspan dx="-0.11" textLength="22.28" lengthAdjust="spacingAndGlyphs">(ev)</tspan></text>
<text transform="translate(35.20 105.70) rotate(-90)" text-anchor="middle" class="a" textLength="85.2" lengthAdjust="spacingAndGlyphs">Relative Intensity</text>
<text transform="translate(187.50 41.20) scale(1.05 1.10)" text-anchor="middle" class="h">TPDR</text>
<path d="M308.00 16.30H311.60" stroke="#fa0606" stroke-width="1.3"/>
<text x="314.50" y="19.90" class="l" font-size="9.20">Accepter-2</text>
<path d="M308.00 31.70H311.60" stroke="#0a800a" stroke-width="1.3"/>
<text x="314.50" y="34.50" class="l" font-size="9.20">Accepter-1</text>
<path d="M308.00 47.30H311.60" stroke="#0606fa" stroke-width="1.3"/>
<text x="314.50" y="50.20" class="l" font-size="9.20">Donor</text>
<path d="M308.00 62.60H311.60" stroke="#141414" stroke-width="1.3"/>
<text x="314.50" y="64.50" class="l" font-size="9.20">Total</text></g>
<g id="p2"><path d="M394.7 179.2 L395.2 179.2 L395.7 179.1 L396.2 179.1 L396.7 179.0 L397.2 178.9 L397.7 178.7 L398.2 178.5 L398.7 178.2 L399.2 177.7 L399.7 177.1 L400.2 176.4 L400.7 175.6 L401.2 174.9 L401.7 174.2 L402.2 173.7 L402.7 173.3 L403.2 173.3 L403.7 173.7 L404.2 174.7 L404.7 176.0 L405.2 177.3 L405.7 178.6 L406.2 179.5 L406.7 180.3 L407.2 180.9 L407.7 181.5 L408.2 182.0 L408.7 182.5 L409.2 182.9 L409.7 183.1 L410.2 183.2 L410.7 183.2 L411.2 183.2 L411.7 183.2 L412.2 183.1 L412.7 183.0 L413.2 182.9 L413.7 182.8 L414.2 182.7 L414.7 182.5 L415.2 182.1 L415.7 181.7 L416.2 181.2 L416.7 180.5 L417.2 179.7 L417.7 178.5 L418.2 176.6 L418.7 174.2 L419.2 171.5 L419.7 168.7 L420.2 165.9 L420.7 162.7 L421.2 159.6 L421.7 156.7 L422.2 154.3 L422.7 152.2 L423.2 150.4 L423.7 149.4 L424.2 149.8 L424.7 151.8 L425.2 154.8 L425.7 157.8 L426.2 160.2 L426.7 162.1 L427.2 163.8 L427.7 165.4 L428.2 166.5 L428.7 167.2 L429.2 167.4 L429.7 167.3 L430.2 166.9 L430.7 166.4 L431.2 165.7 L431.7 165.0 L432.2 164.0 L432.7 162.5 L433.2 160.5 L433.7 158.3 L434.2 156.4 L434.7 154.7 L435.2 153.1 L435.7 151.6 L436.2 150.2 L436.7 149.2 L437.2 148.6 L437.7 148.7 L438.2 149.7 L438.7 151.4 L439.2 153.5 L439.7 155.7 L440.2 157.8 L440.7 159.9 L441.2 162.2 L441.7 164.4 L442.2 166.1 L442.7 167.1 L443.2 166.9 L443.7 165.4 L444.2 162.9 L444.7 160.0 L445.2 157.1 L445.7 153.9 L446.2 150.5 L446.7 147.6 L447.2 145.4 L447.7 144.1 L448.2 143.3 L448.7 143.2 L449.2 144.1 L449.7 145.8 L450.2 147.8 L450.7 149.7 L451.2 151.7 L451.7 153.6 L452.2 155.0 L452.7 155.2 L453.2 153.7 L453.7 150.9 L454.2 147.8 L454.7 145.3 L455.2 143.4 L455.7 141.8 L456.2 140.4 L456.7 139.4 L457.2 139.2 L457.7 140.0 L458.2 142.2 L458.7 145.0 L459.2 148.1 L459.7 151.5 L460.2 155.1 L460.7 158.7 L461.2 162.0 L461.7 165.2 L462.2 168.2 L462.7 171.0 L463.2 173.4 L463.7 175.4 L464.2 177.1 L464.7 178.6 L465.2 180.0 L465.7 181.1 L466.2 182.0 L466.7 182.6 L467.2 182.9 L467.7 183.2 L468.2 183.4 L468.7 183.6 L469.2 183.8 L469.7 183.9 L470.2 184.0 L470.7 184.0 L471.2 183.8 L471.7 183.2 L472.2 182.2 L472.7 181.0 L473.2 179.5 L473.7 177.9 L474.2 175.7 L474.7 172.8 L475.2 169.4 L475.7 165.9 L476.2 162.8 L476.7 160.2 L477.2 157.9 L477.7 155.8 L478.2 154.1 L478.7 153.4 L479.2 153.8 L479.7 155.4 L480.2 157.9 L480.7 160.5 L481.2 163.2 L481.7 165.9 L482.2 168.6 L482.7 170.7 L483.2 172.2 L483.7 173.2 L484.2 174.1 L484.7 174.8 L485.2 175.5 L485.7 176.3 L486.2 177.1 L486.7 177.9 L487.2 178.8 L487.7 179.6 L488.2 180.5 L488.7 181.3 L489.2 182.0 L489.7 182.8 L490.2 183.6 L490.7 184.4 L491.2 185.0 L491.7 185.5 L492.2 185.7 L492.7 185.9 L493.2 186.0 L493.7 186.1 L494.2 186.2 L494.7 186.3 L495.2 186.4 L495.7 186.5 L496.2 186.5 L496.7 186.6 L497.2 186.7 L497.7 186.8 L498.2 186.9 L498.7 187.0 L499.2 187.1 L499.7 187.1 L500.2 187.2 L500.7 187.3 L501.2 187.4 L501.7 187.5 L502.2 187.5 L502.7 187.6 L503.2 187.7 L503.7 187.8 L504.2 187.9 L504.7 188.0 L505.2 188.1 L505.7 188.2 L506.2 188.3 L506.7 188.3 L507.2 188.4 L507.7 188.5 L508.2 188.6 L508.7 188.7 L509.2 188.8 L509.7 188.9 L510.2 188.9 L510.7 188.9 L511.2 188.9 L511.7 188.9 L512.2 188.9 L512.7 188.9 L513.2 188.9 L513.7 188.9 L514.2 188.9 L514.7 188.9 L515.2 188.8 L515.7 188.8 L516.2 188.8 L516.7 188.8 L517.2 188.8 L517.7 188.8 L518.2 188.7 L518.7 188.7 L519.2 188.6 L519.7 188.2 L520.2 187.5 L520.7 186.6 L521.2 185.5 L521.7 184.5 L522.2 183.6 L522.7 182.7 L523.2 181.9 L523.7 181.0 L524.2 180.3 L524.7 179.9 L525.2 179.8 L525.7 180.2 L526.2 181.1 L526.7 182.3 L527.2 183.4 L527.7 184.4 L528.2 185.2 L528.7 185.9 L529.2 186.5 L529.7 187.1 L530.2 187.6 L530.7 187.9 L531.2 188.0 L531.7 187.7 L532.2 187.0 L532.7 185.9 L533.2 184.6 L533.7 183.2 L534.2 181.8 L534.7 180.1 L535.2 178.3 L535.7 176.4 L536.2 174.9 L536.7 173.6 L537.2 172.5 L537.7 171.7 L538.2 171.4 L538.7 172.0 L539.2 173.5 L539.7 175.4 L540.2 177.2 L540.7 178.5 L541.2 179.6 L541.7 180.7 L542.2 181.6 L542.7 182.2 L543.2 182.5 L543.7 182.4 L544.2 181.9 L544.7 181.2 L545.2 180.4 L545.7 179.6 L546.2 179.0 L546.7 178.8 L547.2 179.2 L547.7 180.2 L548.2 181.6 L548.7 183.1 L549.2 184.2 L549.7 185.0 L550.2 185.6 L550.7 186.1 L551.2 186.6 L551.7 187.0 L552.2 187.3 L552.7 187.5 L553.2 187.6 L553.7 187.6 L554.2 187.4 L554.7 187.0 L555.2 186.5 L555.7 185.8 L556.2 185.0 L556.7 183.9 L557.2 182.2 L557.7 179.8 L558.2 177.2 L558.7 174.5 L559.2 171.8 L559.7 169.0 L560.2 166.4 L560.7 164.3 L561.2 162.8 L561.7 161.6 L562.2 160.7 L562.7 160.1 L563.2 160.0 L563.7 160.5 L564.2 161.5 L564.7 162.9 L565.2 164.4 L565.7 166.1 L566.2 168.0 L566.7 170.1 L567.2 172.3 L567.7 174.5 L568.2 176.5 L568.7 178.5 L569.2 180.4 L569.7 181.9 L570.2 183.0 L570.7 183.8 L571.2 184.5 L571.7 185.0 L572.2 184.8 L572.7 183.3 L573.2 180.4 L573.7 177.1 L574.2 173.7 L574.7 170.4 L575.2 167.5 L575.7 165.4 L576.2 164.0 L576.7 162.8 L577.2 161.8 L577.7 161.3 L578.2 161.2 L578.7 161.7 L579.2 162.5 L579.7 163.5 L580.2 164.3 L580.7 165.0 L581.2 165.7 L581.7 166.2 L582.2 166.4 L582.7 166.3 L583.2 165.9 L583.7 165.2 L584.2 164.5 L584.7 163.7 L585.2 163.1 L585.7 162.7 L586.2 162.6 L586.7 163.1 L587.2 164.1 L587.7 165.5 L588.2 167.1 L588.7 169.2 L589.2 171.9 L589.7 174.6 L590.2 176.9 L590.7 178.3 L591.2 179.3 L591.7 180.1 L592.2 180.4 L592.7 180.0 L593.2 178.7 L593.7 176.7 L594.2 174.4 L594.7 172.0 L595.2 169.4 L595.7 166.7 L596.2 164.4 L596.7 162.7 L597.2 161.4 L597.7 160.4 L598.2 159.6 L598.7 159.2 L599.2 159.5 L599.7 160.4 L600.2 161.7 L600.7 163.1 L601.2 164.3 L601.7 165.2 L602.2 166.1 L602.7 166.9 L603.2 167.6 L603.7 168.1 L604.2 168.4 L604.7 168.3 L605.2 167.6 L605.7 166.5 L606.2 165.2 L606.7 164.0 L607.2 162.9 L607.7 162.0 L608.2 161.1 L608.7 160.7 L609.2 161.0 L609.7 162.2 L610.2 164.0 L610.7 165.7 L611.2 167.0 L611.7 168.2 L612.2 169.2 L612.7 170.0 L613.2 170.3 L613.7 169.9 L614.2 168.6 L614.7 166.7 L615.2 165.1 L615.7 163.9 L616.2 163.0 L616.7 162.2 L617.2 161.7 L617.7 161.6 L618.2 161.8 L618.7 162.2 L619.2 162.8 L619.7 163.3 L620.2 163.7 L620.7 163.8 L621.2 163.9 L621.7 163.9 L622.2 163.9 L622.7 163.9 L623.2 163.9 L623.7 164.2 L624.2 164.7 L624.7 165.3 L625.2 166.1 L625.7 166.9 L626.2 167.7 L626.7 168.5 L627.2 169.5 L627.7 170.5 L628.2 171.5 L628.7 172.6 L629.2 173.8 L629.7 175.0 L630.2 176.3 L630.7 177.5 L631.2 178.8 L631.7 180.0 L632.2 181.1 L632.7 182.2 L633.1 183.0" fill="none" stroke="#fa0606" stroke-width="1.40" stroke-linejoin="round" stroke-linecap="round"/>
<path d="M394.7 187.2 L395.2 187.1 L395.7 186.9 L396.2 186.8 L396.7 186.6 L397.2 186.4 L397.7 186.2 L398.2 186.0 L398.7 185.8 L399.2 185.6 L399.7 185.4 L400.2 185.3 L400.7 185.1 L401.2 184.9 L401.7 184.8 L402.2 184.6 L402.7 184.5 L403.2 184.3 L403.7 184.1 L404.2 183.9 L404.7 183.7 L405.2 183.4 L405.7 183.0 L406.2 182.5 L406.7 181.6 L407.2 180.0 L407.7 178.0 L408.2 175.5 L408.7 172.4 L409.2 168.6 L409.7 164.8 L410.2 161.9 L410.7 159.8 L411.2 158.1 L411.7 156.7 L412.2 155.7 L412.7 155.2 L413.2 155.6 L413.7 157.0 L414.2 158.9 L414.7 160.8 L415.2 162.4 L415.7 163.9 L416.2 165.3 L416.7 166.6 L417.2 167.7 L417.7 168.5 L418.2 169.2 L418.7 169.7 L419.2 170.3 L419.7 170.8 L420.2 171.4 L420.7 172.1 L421.2 172.9 L421.7 173.8 L422.2 174.6 L422.7 175.2 L423.2 175.4 L423.7 175.2 L424.2 174.4 L424.7 173.0 L425.2 171.4 L425.7 169.7 L426.2 168.1 L426.7 166.5 L427.2 164.9 L427.7 163.2 L428.2 161.6 L428.7 160.4 L429.2 159.7 L429.7 159.7 L430.2 160.2 L430.7 161.1 L431.2 162.2 L431.7 163.2 L432.2 164.3 L432.7 165.4 L433.2 166.4 L433.7 167.1 L434.2 167.1 L434.7 165.8 L435.2 163.7 L435.7 161.2 L436.2 158.9 L436.7 156.6 L437.2 154.3 L437.7 152.0 L438.2 150.1 L438.7 148.9 L439.2 148.8 L439.7 149.9 L440.2 152.2 L440.7 155.0 L441.2 157.9 L441.7 160.9 L442.2 164.1 L442.7 167.3 L443.2 169.9 L443.7 172.0 L444.2 173.7 L444.7 175.2 L445.2 176.5 L445.7 177.6 L446.2 178.2 L446.7 178.6 L447.2 178.8 L447.7 179.0 L448.2 179.1 L448.7 179.1 L449.2 179.2 L449.7 179.2 L450.2 179.1 L450.7 179.0 L451.2 178.9 L451.7 178.8 L452.2 178.7 L452.7 178.6 L453.2 178.8 L453.7 179.0 L454.2 179.4 L454.7 179.8 L455.2 180.2 L455.7 180.7 L456.2 181.2 L456.7 181.7 L457.2 182.3 L457.7 182.9 L458.2 183.3 L458.7 183.6 L459.2 183.9 L459.7 184.0 L460.2 184.2 L460.7 184.4 L461.2 184.5 L461.7 184.6 L462.2 184.6 L462.7 184.7 L463.2 184.6 L463.7 184.6 L464.2 184.6 L464.7 184.5 L465.2 184.4 L465.7 184.3 L466.2 184.2 L466.7 184.0 L467.2 183.3 L467.7 181.9 L468.2 180.0 L468.7 177.8 L469.2 175.0 L469.7 171.5 L470.2 167.7 L470.7 164.3 L471.2 161.6 L471.7 159.5 L472.2 157.7 L472.7 156.2 L473.2 155.1 L473.7 154.6 L474.2 154.5 L474.7 154.8 L475.2 155.1 L475.7 155.5 L476.2 155.8 L476.7 155.9 L477.2 156.0 L477.7 156.2 L478.2 156.3 L478.7 156.7 L479.2 157.6 L479.7 158.9 L480.2 160.6 L480.7 162.8 L481.2 166.1 L481.7 170.0 L482.2 173.6 L482.7 176.5 L483.2 179.0 L483.7 181.2 L484.2 182.9 L484.7 184.2 L485.2 185.0 L485.7 185.5 L486.2 185.9 L486.7 186.3 L487.2 186.5 L487.7 186.6 L488.2 186.7 L488.7 186.7 L489.2 186.7 L489.7 186.7 L490.2 186.7 L490.7 186.7 L491.2 186.7 L491.7 186.7 L492.2 186.7 L492.7 186.7 L493.2 186.7 L493.7 186.6 L494.2 186.6 L494.7 186.5 L495.2 186.4 L495.7 186.3 L496.2 186.3 L496.7 186.2 L497.2 186.1 L497.7 186.1 L498.2 186.1 L498.7 186.2 L499.2 186.4 L499.7 186.7 L500.2 186.9 L500.7 187.1 L501.2 187.3 L501.7 187.4 L502.2 187.6 L502.7 187.7 L503.2 187.8 L503.7 187.9 L504.2 188.0 L504.7 188.1 L505.2 188.1 L505.7 188.2 L506.2 188.3 L506.7 188.4 L507.2 188.5 L507.7 188.5 L508.2 188.6 L508.7 188.7 L509.2 188.8 L509.7 188.9 L510.2 188.9 L510.7 188.9 L511.2 188.9 L511.7 188.9 L512.2 188.9 L512.7 188.9 L513.2 188.9 L513.7 188.9 L514.2 188.9 L514.7 188.9 L515.2 188.8 L515.7 188.8 L516.2 188.8 L516.7 188.8 L517.2 188.8 L517.7 188.8 L518.2 188.7 L518.7 188.7 L519.2 188.6 L519.7 188.4 L520.2 188.0 L520.7 187.4 L521.2 186.7 L521.7 186.1 L522.2 185.6 L522.7 185.2 L523.2 184.8 L523.7 184.3 L524.2 184.0 L524.7 183.8 L525.2 183.7 L525.7 183.9 L526.2 184.3 L526.7 184.8 L527.2 185.3 L527.7 185.7 L528.2 186.0 L528.7 186.2 L529.2 186.3 L529.7 186.4 L530.2 186.5 L530.7 186.6 L531.2 186.7 L531.7 186.7 L532.2 186.5 L532.7 186.2 L533.2 185.7 L533.7 185.1 L534.2 184.4 L534.7 183.8 L535.2 183.3 L535.7 182.9 L536.2 182.6 L536.7 182.2 L537.2 182.0 L537.7 181.8 L538.2 181.7 L538.7 181.7 L539.2 181.7 L539.7 181.8 L540.2 181.9 L540.7 182.0 L541.2 182.1 L541.7 182.2 L542.2 182.2 L542.7 182.2 L543.2 182.1 L543.7 181.9 L544.2 181.6 L544.7 181.4 L545.2 181.1 L545.7 181.0 L546.2 180.9 L546.7 181.0 L547.2 181.3 L547.7 181.8 L548.2 182.4 L548.7 182.9 L549.2 183.5 L549.7 183.9 L550.2 184.3 L550.7 184.7 L551.2 185.1 L551.7 185.4 L552.2 185.7 L552.7 185.9 L553.2 186.0 L553.7 186.0 L554.2 185.9 L554.7 185.8 L555.2 185.5 L555.7 185.2 L556.2 184.9 L556.7 184.6 L557.2 184.2 L557.7 183.9 L558.2 183.6 L558.7 183.2 L559.2 182.8 L559.7 182.4 L560.2 182.0 L560.7 181.5 L561.2 181.0 L561.7 180.4 L562.2 179.6 L562.7 178.8 L563.2 177.9 L563.7 177.0 L564.2 176.1 L564.7 175.3 L565.2 174.4 L565.7 173.4 L566.2 172.5 L566.7 171.8 L567.2 171.4 L567.7 171.3 L568.2 171.7 L568.7 172.6 L569.2 173.7 L569.7 174.9 L570.2 176.2 L570.7 177.6 L571.2 179.2 L571.7 180.7 L572.2 181.9 L572.7 182.7 L573.2 183.3 L573.7 183.7 L574.2 184.1 L574.7 184.4 L575.2 184.6 L575.7 184.6 L576.2 184.4 L576.7 184.0 L577.2 183.4 L577.7 182.8 L578.2 182.2 L578.7 181.6 L579.2 181.0 L579.7 180.4 L580.2 179.7 L580.7 179.1 L581.2 178.6 L581.7 178.2 L582.2 178.1 L582.7 178.2 L583.2 178.6 L583.7 179.3 L584.2 179.9 L584.7 180.6 L585.2 181.3 L585.7 182.0 L586.2 182.7 L586.7 183.3 L587.2 183.5 L587.7 183.4 L588.2 182.9 L588.7 182.1 L589.2 181.2 L589.7 180.4 L590.2 179.8 L590.7 179.5 L591.2 179.3 L591.7 179.2 L592.2 179.1 L592.7 179.0 L593.2 178.8 L593.7 178.6 L594.2 178.4 L594.7 178.0 L595.2 177.5 L595.7 177.0 L596.2 176.5 L596.7 176.0 L597.2 175.6 L597.7 175.2 L598.2 174.8 L598.7 174.3 L599.2 173.9 L599.7 173.6 L600.2 173.3 L600.7 173.2 L601.2 173.3 L601.7 173.5 L602.2 173.8 L602.7 174.2 L603.2 174.7 L603.7 175.0 L604.2 175.4 L604.7 175.7 L605.2 176.1 L605.7 176.3 L606.2 176.5 L606.7 176.5 L607.2 176.1 L607.7 175.4 L608.2 174.6 L608.7 173.8 L609.2 173.1 L609.7 172.7 L610.2 172.7 L610.7 173.2 L611.2 173.9 L611.7 174.7 L612.2 175.4 L612.7 175.8 L613.2 175.8 L613.7 175.5 L614.2 175.0 L614.7 174.2 L615.2 173.4 L615.7 172.7 L616.2 172.1 L616.7 171.7 L617.2 171.7 L617.7 172.0 L618.2 172.6 L618.7 173.4 L619.2 174.2 L619.7 175.1 L620.2 175.9 L620.7 176.7 L621.2 177.7 L621.7 178.6 L622.2 179.3 L622.7 179.8 L623.2 179.9 L623.7 179.8 L624.2 179.5 L624.7 179.1 L625.2 178.6 L625.7 178.0 L626.2 177.4 L626.7 176.6 L627.2 175.6 L627.7 174.5 L628.2 173.3 L628.7 172.2 L629.2 171.4 L629.7 170.8 L630.2 170.7 L630.7 171.2 L631.2 172.2 L631.7 173.5 L632.2 175.0 L632.7 176.7 L633.1 178.1" fill="none" stroke="#0a800a" stroke-width="1.40" stroke-linejoin="round" stroke-linecap="round"/>
<path d="M394.7 182.5 L395.2 182.2 L395.7 181.8 L396.2 181.4 L396.7 180.9 L397.2 180.5 L397.7 180.0 L398.2 179.6 L398.7 179.1 L399.2 178.7 L399.7 178.3 L400.2 177.9 L400.7 177.5 L401.2 176.9 L401.7 176.3 L402.2 175.4 L402.7 174.0 L403.2 172.0 L403.7 169.7 L404.2 167.3 L404.7 164.9 L405.2 162.4 L405.7 159.9 L406.2 157.9 L406.7 156.9 L407.2 157.5 L407.7 159.6 L408.2 162.3 L408.7 164.8 L409.2 166.9 L409.7 168.7 L410.2 170.5 L410.7 172.1 L411.2 173.2 L411.7 173.8 L412.2 173.9 L412.7 173.9 L413.2 173.7 L413.7 173.6 L414.2 173.3 L414.7 173.0 L415.2 172.4 L415.7 170.6 L416.2 167.3 L416.7 162.9 L417.2 158.4 L417.7 154.0 L418.2 149.6 L418.7 145.4 L419.2 142.1 L419.7 139.7 L420.2 137.7 L420.7 136.0 L421.2 134.9 L421.7 134.4 L422.2 134.8 L422.7 136.0 L423.2 137.6 L423.7 139.3 L424.2 140.8 L424.7 142.0 L425.2 143.1 L425.7 144.1 L426.2 145.1 L426.7 146.1 L427.2 146.8 L427.7 147.3 L428.2 147.6 L428.7 147.5 L429.2 146.9 L429.7 145.8 L430.2 144.3 L430.7 142.5 L431.2 139.7 L431.7 135.1 L432.2 129.0 L432.7 122.9 L433.2 116.9 L433.7 111.0 L434.2 105.3 L434.7 101.0 L435.2 99.2 L435.7 100.5 L436.2 104.4 L436.7 109.3 L437.2 113.9 L437.7 118.3 L438.2 122.5 L438.7 126.4 L439.2 129.5 L439.7 131.8 L440.2 133.5 L440.7 135.0 L441.2 136.1 L441.7 136.9 L442.2 137.1 L442.7 136.9 L443.2 136.4 L443.7 135.8 L444.2 135.4 L444.7 135.5 L445.2 136.2 L445.7 137.5 L446.2 139.1 L446.7 140.5 L447.2 141.7 L447.7 142.9 L448.2 144.0 L448.7 145.0 L449.2 145.9 L449.7 146.7 L450.2 147.1 L450.7 147.2 L451.2 146.7 L451.7 145.6 L452.2 144.2 L452.7 142.5 L453.2 140.8 L453.7 139.0 L454.2 137.0 L454.7 134.7 L455.2 132.4 L455.7 130.2 L456.2 128.4 L456.7 126.8 L457.2 125.3 L457.7 124.2 L458.2 123.8 L458.7 124.3 L459.2 125.8 L459.7 128.1 L460.2 130.8 L460.7 134.2 L461.2 138.5 L461.7 143.4 L462.2 148.3 L462.7 153.2 L463.2 158.1 L463.7 163.0 L464.2 167.5 L464.7 171.2 L465.2 174.4 L465.7 177.3 L466.2 179.8 L466.7 181.6 L467.2 182.6 L467.7 183.0 L468.2 183.3 L468.7 183.6 L469.2 183.8 L469.7 183.9 L470.2 184.0 L470.7 184.0 L471.2 183.9 L471.7 183.5 L472.2 182.8 L472.7 181.9 L473.2 180.9 L473.7 179.8 L474.2 178.3 L474.7 176.3 L475.2 173.8 L475.7 171.1 L476.2 168.5 L476.7 166.2 L477.2 164.1 L477.7 162.3 L478.2 160.5 L478.7 158.9 L479.2 157.3 L479.7 155.9 L480.2 154.5 L480.7 153.2 L481.2 151.9 L481.7 150.8 L482.2 149.7 L482.7 148.7 L483.2 147.8 L483.7 146.8 L484.2 146.0 L484.7 145.3 L485.2 145.0 L485.7 145.2 L486.2 145.7 L486.7 146.6 L487.2 147.7 L487.7 148.8 L488.2 150.0 L488.7 151.3 L489.2 152.8 L489.7 154.5 L490.2 156.4 L490.7 158.4 L491.2 160.7 L491.7 163.4 L492.2 166.5 L492.7 169.7 L493.2 172.5 L493.7 175.0 L494.2 177.4 L494.7 179.6 L495.2 181.5 L495.7 182.9 L496.2 183.9 L496.7 184.5 L497.2 185.0 L497.7 185.5 L498.2 185.8 L498.7 186.0 L499.2 185.9 L499.7 185.6 L500.2 184.9 L500.7 184.1 L501.2 183.4 L501.7 182.9 L502.2 182.8 L502.7 183.3 L503.2 184.1 L503.7 185.1 L504.2 186.0 L504.7 186.6 L505.2 187.0 L505.7 187.3 L506.2 187.5 L506.7 187.8 L507.2 188.0 L507.7 188.1 L508.2 188.3 L508.7 188.5 L509.2 188.7 L509.7 188.8 L510.2 188.9 L510.7 188.9 L511.2 188.9 L511.7 188.9 L512.2 188.9 L512.7 188.9 L513.2 188.9 L513.7 188.9 L514.2 188.9 L514.7 188.9 L515.2 188.8 L515.7 188.8 L516.2 188.8 L516.7 188.8 L517.2 188.8 L517.7 188.8 L518.2 188.7 L518.7 188.7 L519.2 188.7 L519.7 188.5 L520.2 188.2 L520.7 187.8 L521.2 187.4 L521.7 187.0 L522.2 186.7 L522.7 186.3 L523.2 186.0 L523.7 185.7 L524.2 185.4 L524.7 185.1 L525.2 184.9 L525.7 184.7 L526.2 184.7 L526.7 184.8 L527.2 185.1 L527.7 185.5 L528.2 185.9 L528.7 186.3 L529.2 186.7 L529.7 186.9 L530.2 187.2 L530.7 187.4 L531.2 187.6 L531.7 187.6 L532.2 187.5 L532.7 187.2 L533.2 186.7 L533.7 186.1 L534.2 185.4 L534.7 184.8 L535.2 184.4 L535.7 184.1 L536.2 184.1 L536.7 184.2 L537.2 184.4 L537.7 184.6 L538.2 184.9 L538.7 185.2 L539.2 185.5 L539.7 185.8 L540.2 186.0 L540.7 186.3 L541.2 186.5 L541.7 186.7 L542.2 187.0 L542.7 187.3 L543.2 187.5 L543.7 187.7 L544.2 187.9 L544.7 188.1 L545.2 188.2 L545.7 188.3 L546.2 188.2 L546.7 187.9 L547.2 187.3 L547.7 186.6 L548.2 185.7 L548.7 184.8 L549.2 184.0 L549.7 183.2 L550.2 182.3 L550.7 181.4 L551.2 180.5 L551.7 179.7 L552.2 178.9 L552.7 178.3 L553.2 177.8 L553.7 177.4 L554.2 177.0 L554.7 176.5 L555.2 175.9 L555.7 175.0 L556.2 173.7 L556.7 171.9 L557.2 169.8 L557.7 167.4 L558.2 164.5 L558.7 160.8 L559.2 156.5 L559.7 152.3 L560.2 148.8 L560.7 145.7 L561.2 142.8 L561.7 140.2 L562.2 138.3 L562.7 137.3 L563.2 137.5 L563.7 139.0 L564.2 141.4 L564.7 144.1 L565.2 146.7 L565.7 149.3 L566.2 152.1 L566.7 155.0 L567.2 157.6 L567.7 160.1 L568.2 162.4 L568.7 164.6 L569.2 166.7 L569.7 168.6 L570.2 170.3 L570.7 171.9 L571.2 173.3 L571.7 174.7 L572.2 176.1 L572.7 177.4 L573.2 178.5 L573.7 179.3 L574.2 179.8 L574.7 180.0 L575.2 179.9 L575.7 179.7 L576.2 179.5 L576.7 179.2 L577.2 178.9 L577.7 178.5 L578.2 178.1 L578.7 177.5 L579.2 176.9 L579.7 176.5 L580.2 176.3 L580.7 176.3 L581.2 176.5 L581.7 176.8 L582.2 177.1 L582.7 177.5 L583.2 177.8 L583.7 178.0 L584.2 178.2 L584.7 178.3 L585.2 178.5 L585.7 178.6 L586.2 178.7 L586.7 178.9 L587.2 179.0 L587.7 179.1 L588.2 179.1 L588.7 179.2 L589.2 179.0 L589.7 177.7 L590.2 174.5 L590.7 169.9 L591.2 165.1 L591.7 160.5 L592.2 156.0 L592.7 151.7 L593.2 148.5 L593.7 146.5 L594.2 145.3 L594.7 144.4 L595.2 143.8 L595.7 143.3 L596.2 143.0 L596.7 142.7 L597.2 142.1 L597.7 140.6 L598.2 138.0 L598.7 134.8 L599.2 131.4 L599.7 128.0 L600.2 124.3 L600.7 120.7 L601.2 117.5 L601.7 114.7 L602.2 112.0 L602.7 109.9 L603.2 108.6 L603.7 108.7 L604.2 110.5 L604.7 113.5 L605.2 117.0 L605.7 120.5 L606.2 124.1 L606.7 127.8 L607.2 131.2 L607.7 134.1 L608.2 136.6 L608.7 138.8 L609.2 140.2 L609.7 140.6 L610.2 140.1 L610.7 139.1 L611.2 137.6 L611.7 136.0 L612.2 134.1 L612.7 131.8 L613.2 129.1 L613.7 126.5 L614.2 124.1 L614.7 121.9 L615.2 119.6 L615.7 117.6 L616.2 116.0 L616.7 115.0 L617.2 114.9 L617.7 115.5 L618.2 116.8 L618.7 118.4 L619.2 120.2 L619.7 122.0 L620.2 123.6 L620.7 125.2 L621.2 126.9 L621.7 128.6 L622.2 130.3 L622.7 132.0 L623.2 133.7 L623.7 135.4 L624.2 137.2 L624.7 138.9 L625.2 140.4 L625.7 141.9 L626.2 143.3 L626.7 144.3 L627.2 144.7 L627.7 144.6 L628.2 144.2 L628.7 143.9 L629.2 144.1 L629.7 145.3 L630.2 147.7 L630.7 150.7 L631.2 153.8 L631.7 156.9 L632.2 160.3 L632.7 163.9 L633.1 166.6" fill="none" stroke="#0606fa" stroke-width="1.40" stroke-linejoin="round" stroke-linecap="round"/>
<path d="M394.7 172.2 L395.2 171.3 L395.7 170.1 L396.2 169.0 L396.7 168.1 L397.2 167.5 L397.7 167.0 L398.2 166.7 L398.7 166.4 L399.2 166.0 L399.7 165.4 L400.2 164.3 L400.7 162.5 L401.2 160.2 L401.7 157.7 L402.2 155.2 L402.7 152.6 L403.2 149.7 L403.7 147.0 L404.2 144.7 L404.7 143.1 L405.2 141.9 L405.7 141.0 L406.2 140.3 L406.7 140.0 L407.2 140.4 L407.7 141.3 L408.2 142.4 L408.7 143.0 L409.2 142.9 L409.7 142.0 L410.2 140.9 L410.7 139.6 L411.2 138.3 L411.7 137.0 L412.2 135.8 L412.7 135.1 L413.2 135.3 L413.7 136.4 L414.2 137.9 L414.7 139.3 L415.2 139.9 L415.7 139.3 L416.2 137.4 L416.7 134.4 L417.2 130.7 L417.7 126.7 L418.2 122.0 L418.7 116.2 L419.2 109.6 L419.7 103.3 L420.2 98.3 L420.7 94.6 L421.2 91.5 L421.7 88.7 L422.2 86.5 L422.7 84.8 L423.2 84.1 L423.7 84.5 L424.2 86.0 L424.7 88.1 L425.2 90.1 L425.7 91.8 L426.2 93.5 L426.7 95.1 L427.2 96.6 L427.7 97.7 L428.2 98.3 L428.7 98.3 L429.2 97.8 L429.7 96.9 L430.2 95.6 L430.7 93.9 L431.2 90.8 L431.7 85.1 L432.2 77.1 L432.7 69.0 L433.2 61.6 L433.7 54.7 L434.2 48.5 L434.7 43.9 L435.2 40.9 L435.7 38.8 L436.2 37.5 L436.7 37.1 L437.2 37.8 L437.7 39.6 L438.2 42.2 L438.7 45.3 L439.2 49.1 L439.7 54.1 L440.2 60.0 L440.7 66.0 L441.2 72.0 L441.7 78.1 L442.2 84.0 L442.7 88.8 L443.2 92.3 L443.7 95.0 L444.2 97.2 L444.7 98.4 L445.2 98.4 L445.7 97.5 L446.2 96.0 L446.7 94.4 L447.2 92.8 L447.7 91.3 L448.2 90.8 L448.7 91.7 L449.2 93.6 L449.7 95.7 L450.2 97.4 L450.7 98.7 L451.2 99.9 L451.7 100.5 L452.2 100.1 L452.7 97.8 L453.2 94.2 L453.7 90.3 L454.2 86.1 L454.7 81.8 L455.2 77.8 L455.7 74.5 L456.2 71.9 L456.7 70.0 L457.2 69.2 L457.7 70.3 L458.2 73.2 L458.7 77.4 L459.2 82.0 L459.7 87.3 L460.2 93.3 L460.7 99.7 L461.2 106.4 L461.7 113.3 L462.2 120.4 L462.7 127.7 L463.2 134.5 L463.7 140.9 L464.2 146.9 L464.7 152.7 L465.2 158.1 L465.7 162.8 L466.2 166.5 L466.7 169.2 L467.2 171.3 L467.7 172.6 L468.2 172.4 L468.7 170.5 L469.2 167.4 L469.7 163.9 L470.2 160.1 L470.7 155.9 L471.2 151.7 L471.7 148.2 L472.2 145.6 L472.7 143.7 L473.2 142.1 L473.7 140.4 L474.2 138.1 L474.7 135.0 L475.2 130.6 L475.7 125.3 L476.2 119.6 L476.7 113.8 L477.2 107.6 L477.7 102.2 L478.2 98.4 L478.7 96.0 L479.2 95.0 L479.7 95.9 L480.2 98.4 L480.7 101.8 L481.2 105.4 L481.7 109.6 L482.2 113.8 L482.7 117.6 L483.2 120.5 L483.7 122.8 L484.2 124.8 L484.7 126.7 L485.2 128.7 L485.7 130.9 L486.2 133.1 L486.7 135.4 L487.2 137.7 L487.7 140.1 L488.2 142.6 L488.7 145.1 L489.2 147.8 L489.7 150.5 L490.2 153.3 L490.7 156.3 L491.2 159.7 L491.7 163.2 L492.2 166.7 L492.7 169.9 L493.2 172.6 L493.7 175.0 L494.2 177.3 L494.7 179.2 L495.2 180.7 L495.7 181.7 L496.2 182.4 L496.7 182.9 L497.2 183.4 L497.7 183.7 L498.2 184.0 L498.7 184.0 L499.2 183.6 L499.7 183.0 L500.2 182.1 L500.7 181.2 L501.2 180.4 L501.7 179.9 L502.2 179.8 L502.7 180.3 L503.2 181.3 L503.7 182.5 L504.2 183.7 L504.7 184.6 L505.2 185.3 L505.7 185.9 L506.2 186.5 L506.7 187.0 L507.2 187.5 L507.7 187.8 L508.2 188.1 L508.7 188.3 L509.2 188.5 L509.7 188.6 L510.2 188.7 L510.7 188.7 L511.2 188.7 L511.7 188.7 L512.2 188.7 L512.7 188.7 L513.2 188.7 L513.7 188.7 L514.2 188.7 L514.7 188.7 L515.2 188.7 L515.7 188.7 L516.2 188.7 L516.7 188.7 L517.2 188.7 L517.7 188.7 L518.2 188.7 L518.7 188.7 L519.2 188.6 L519.7 188.2 L520.2 187.4 L520.7 186.3 L521.2 185.1 L521.7 183.7 L522.2 182.1 L522.7 180.1 L523.2 178.0 L523.7 176.1 L524.2 174.6 L524.7 173.5 L525.2 172.6 L525.7 171.9 L526.2 171.8 L526.7 172.7 L527.2 174.4 L527.7 176.6 L528.2 178.5 L528.7 180.3 L529.2 182.0 L529.7 183.7 L530.2 185.1 L530.7 186.1 L531.2 186.5 L531.7 186.0 L532.2 184.7 L532.7 182.7 L533.2 180.5 L533.7 178.3 L534.2 175.9 L534.7 173.2 L535.2 170.4 L535.7 167.9 L536.2 165.9 L536.7 164.3 L537.2 163.0 L537.7 162.1 L538.2 161.7 L538.7 162.2 L539.2 163.6 L539.7 165.4 L540.2 167.1 L540.7 168.5 L541.2 169.9 L541.7 171.3 L542.2 172.6 L542.7 173.7 L543.2 174.6 L543.7 175.0 L544.2 174.9 L544.7 174.1 L545.2 173.0 L545.7 171.7 L546.2 170.6 L546.7 170.1 L547.2 170.4 L547.7 171.2 L548.2 172.3 L548.7 173.5 L549.2 174.6 L549.7 175.3 L550.2 175.5 L550.7 175.5 L551.2 175.4 L551.7 175.3 L552.2 175.1 L552.7 174.9 L553.2 174.7 L553.7 174.4 L554.2 174.1 L554.7 173.6 L555.2 173.0 L555.7 172.2 L556.2 170.9 L556.7 168.6 L557.2 165.1 L557.7 160.8 L558.2 155.5 L558.7 148.4 L559.2 139.9 L559.7 131.4 L560.2 123.8 L560.7 117.0 L561.2 111.3 L561.7 107.4 L562.2 105.2 L562.7 103.7 L563.2 102.9 L563.7 102.9 L564.2 104.1 L564.7 106.0 L565.2 108.4 L565.7 110.7 L566.2 113.0 L566.7 115.5 L567.2 118.2 L567.7 121.4 L568.2 125.5 L568.7 130.7 L569.2 136.6 L569.7 142.3 L570.2 147.3 L570.7 152.1 L571.2 156.8 L571.7 161.2 L572.2 164.8 L572.7 167.2 L573.2 168.1 L573.7 167.3 L574.2 165.2 L574.7 162.5 L575.2 159.5 L575.7 156.4 L576.2 153.0 L576.7 149.9 L577.2 147.7 L577.7 146.3 L578.2 145.3 L578.7 144.5 L579.2 144.0 L579.7 143.7 L580.2 143.7 L580.7 143.8 L581.2 143.9 L581.7 144.0 L582.2 144.1 L582.7 144.3 L583.2 144.7 L583.7 145.2 L584.2 145.9 L584.7 146.7 L585.2 147.5 L585.7 148.3 L586.2 149.1 L586.7 150.1 L587.2 151.0 L587.7 152.0 L588.2 152.8 L588.7 153.4 L589.2 153.6 L589.7 153.1 L590.2 151.7 L590.7 149.4 L591.2 146.6 L591.7 143.7 L592.2 140.5 L592.7 136.9 L593.2 133.0 L593.7 128.8 L594.2 124.7 L594.7 120.8 L595.2 116.8 L595.7 112.9 L596.2 108.9 L596.7 105.0 L597.2 101.0 L597.7 96.9 L598.2 92.6 L598.7 88.3 L599.2 84.6 L599.7 81.6 L600.2 79.4 L600.7 77.5 L601.2 75.8 L601.7 74.3 L602.2 73.3 L602.7 72.9 L603.2 73.1 L603.7 73.9 L604.2 75.4 L604.7 77.1 L605.2 79.1 L605.7 81.7 L606.2 84.7 L606.7 87.6 L607.2 90.3 L607.7 93.0 L608.2 95.4 L608.7 97.2 L609.2 98.2 L609.7 98.8 L610.2 99.4 L610.7 99.8 L611.2 100.1 L611.7 100.4 L612.2 100.4 L612.7 99.7 L613.2 97.9 L613.7 95.2 L614.2 91.9 L614.7 88.0 L615.2 83.4 L615.7 79.1 L616.2 75.8 L616.7 73.6 L617.2 72.9 L617.7 74.1 L618.2 77.0 L618.7 80.5 L619.2 83.7 L619.7 86.8 L620.2 89.7 L620.7 92.2 L621.2 94.3 L621.7 96.0 L622.2 97.3 L622.7 98.6 L623.2 100.1 L623.7 102.1 L624.2 104.5 L624.7 107.1 L625.2 109.0 L625.7 110.2 L626.2 110.8 L626.7 111.2 L627.2 111.3 L627.7 110.9 L628.2 110.4 L628.7 110.2 L629.2 110.9 L629.7 112.7 L630.2 115.3 L630.7 119.3 L631.2 125.4 L631.7 132.5 L632.2 139.2 L632.7 145.5 L633.1 149.9" fill="none" stroke="#141414" stroke-width="1.20" stroke-linejoin="round" stroke-linecap="round"/>
<rect x="391.60" y="2.20" width="243.80" height="189.10" fill="none" stroke="#111" stroke-width="1.7"/>
<path d="M386.70 188.20h4.90M388.80 179.10h2.80M388.80 170.00h2.80M388.80 160.90h2.80M388.80 151.80h2.80M386.70 142.70h4.90M388.80 133.60h2.80M388.80 124.50h2.80M388.80 115.40h2.80M388.80 106.30h2.80M386.70 97.20h4.90M388.80 88.10h2.80M388.80 79.00h2.80M388.80 69.90h2.80M388.80 60.80h2.80M386.70 51.70h4.90M388.80 42.60h2.80M388.80 33.50h2.80M388.80 24.40h2.80M388.80 15.30h2.80M386.70 6.20h4.90M402.00 191.30v5.50M412.80 191.30v3.40M423.60 191.30v3.40M434.40 191.30v3.40M445.20 191.30v3.40M456.00 191.30v5.50M466.80 191.30v3.40M477.60 191.30v3.40M488.40 191.30v3.40M499.20 191.30v3.40M510.00 191.30v5.50M520.80 191.30v3.40M531.60 191.30v3.40M542.40 191.30v3.40M553.20 191.30v3.40M564.00 191.30v5.50M574.80 191.30v3.40M585.60 191.30v3.40M596.40 191.30v3.40M607.20 191.30v3.40M618.00 191.30v5.50M628.80 191.30v3.40" stroke="#222" stroke-width="0.95" fill="none"/>
<text x="384.40" y="191.30" text-anchor="end" class="t" font-size="9.20">0</text>
<text x="384.40" y="145.80" text-anchor="end" class="t" font-size="9.20">5</text>
<text x="384.40" y="100.30" text-anchor="end" class="t" font-size="9.20">10</text>
<text x="384.40" y="54.80" text-anchor="end" class="t" font-size="9.20">15</text>
<text x="384.40" y="9.30" text-anchor="end" class="t" font-size="9.20">20</text>
<text x="400.10" y="204.70" text-anchor="middle" class="t" font-size="9.20">-15</text>
<text x="454.10" y="204.70" text-anchor="middle" class="t" font-size="9.20">-10</text>
<text x="508.10" y="204.70" text-anchor="middle" class="t" font-size="9.20">-5</text>
<text x="564.00" y="204.70" text-anchor="middle" class="t" font-size="9.20">0</text>
<text x="618.00" y="204.70" text-anchor="middle" class="t" font-size="9.20">5</text>
<text x="482.00" y="213.00" class="a"><tspan textLength="32.40" lengthAdjust="spacingAndGlyphs">Energy</tspan><tspan dx="-0.11" textLength="21.33" lengthAdjust="spacingAndGlyphs">(ev)</tspan></text>
<text transform="translate(373.60 95.50) rotate(-90)" text-anchor="middle" class="a" textLength="81.5" lengthAdjust="spacingAndGlyphs">Relative Intensity</text>
<text transform="translate(514.40 41.30) scale(1.05 1.10)" text-anchor="middle" class="h">TPD1</text>
<path d="M637.60 9.20H641.10" stroke="#fa0606" stroke-width="1.3"/>
<text x="643.70" y="12.30" class="l" font-size="8.72">Accepter-2</text>
<path d="M637.60 24.00H641.10" stroke="#0a800a" stroke-width="1.3"/>
<text x="643.70" y="25.90" class="l" font-size="8.72">Accepter-1</text>
<path d="M637.60 39.20H641.10" stroke="#0606fa" stroke-width="1.3"/>
<text x="643.70" y="41.40" class="l" font-size="8.72">Donor</text>
<path d="M637.60 54.00H641.10" stroke="#141414" stroke-width="1.3"/>
<text x="643.70" y="55.10" class="l" font-size="8.72">Total</text></g>
<g id="p3"><path d="M51.7 435.2 L52.2 433.9 L52.7 432.2 L53.2 430.8 L53.7 429.6 L54.2 428.6 L54.7 427.7 L55.2 427.0 L55.7 426.8 L56.2 427.3 L56.7 428.6 L57.2 430.4 L57.7 432.2 L58.2 433.6 L58.7 434.8 L59.2 435.9 L59.7 437.0 L60.2 437.8 L60.7 438.4 L61.2 438.5 L61.7 438.2 L62.2 437.4 L62.7 436.3 L63.2 435.0 L63.7 433.8 L64.2 432.6 L64.7 431.6 L65.2 430.5 L65.7 429.5 L66.2 428.6 L66.7 427.9 L67.2 427.7 L67.7 428.0 L68.2 428.8 L68.7 429.9 L69.2 431.1 L69.7 432.0 L70.2 432.4 L70.7 432.3 L71.2 431.7 L71.7 430.8 L72.2 429.6 L72.7 428.2 L73.2 426.8 L73.7 425.0 L74.2 422.9 L74.7 420.4 L75.2 417.8 L75.7 415.2 L76.2 413.0 L76.7 410.8 L77.2 408.8 L77.7 406.8 L78.2 405.2 L78.7 404.3 L79.2 404.5 L79.7 406.0 L80.2 408.3 L80.7 411.1 L81.2 413.6 L81.7 415.9 L82.2 418.1 L82.7 420.4 L83.2 422.6 L83.7 424.4 L84.2 425.7 L84.7 426.3 L85.2 426.4 L85.7 426.0 L86.2 425.4 L86.7 424.7 L87.2 423.9 L87.7 422.9 L88.2 421.7 L88.7 420.2 L89.2 418.5 L89.7 416.8 L90.2 415.2 L90.7 413.6 L91.2 411.9 L91.7 410.1 L92.2 408.3 L92.7 406.8 L93.2 405.5 L93.7 404.7 L94.2 404.7 L94.7 405.9 L95.2 408.0 L95.7 410.6 L96.2 413.1 L96.7 415.0 L97.2 416.8 L97.7 418.5 L98.2 420.2 L98.7 421.7 L99.2 423.2 L99.7 424.4 L100.2 425.3 L100.7 425.9 L101.2 425.9 L101.7 425.1 L102.2 423.3 L102.7 420.9 L103.2 418.4 L103.7 415.7 L104.2 412.8 L104.7 409.6 L105.2 406.3 L105.7 403.1 L106.2 400.3 L106.7 397.9 L107.2 395.9 L107.7 394.0 L108.2 392.3 L108.7 391.1 L109.2 390.3 L109.7 389.9 L110.2 389.6 L110.7 389.4 L111.2 389.3 L111.7 389.2 L112.2 389.3 L112.7 389.5 L113.2 389.6 L113.7 389.7 L114.2 389.5 L114.7 388.7 L115.2 387.5 L115.7 386.4 L116.2 386.2 L116.7 387.3 L117.2 389.4 L117.7 392.0 L118.2 395.0 L118.7 398.4 L119.2 402.2 L119.7 405.8 L120.2 408.5 L120.7 410.5 L121.2 412.1 L121.7 413.5 L122.2 414.9 L122.7 416.4 L123.2 417.9 L123.7 419.5 L124.2 421.1 L124.7 422.9 L125.2 424.8 L125.7 427.1 L126.2 429.7 L126.7 432.3 L127.2 434.6 L127.7 436.3 L128.2 437.4 L128.7 438.3 L129.2 439.0 L129.7 439.6 L130.2 440.0 L130.7 440.2 L131.2 439.9 L131.7 439.1 L132.2 437.9 L132.7 436.4 L133.2 434.6 L133.7 432.3 L134.2 429.5 L134.7 426.4 L135.2 423.8 L135.7 421.7 L136.2 419.9 L136.7 418.4 L137.2 417.3 L137.7 416.7 L138.2 417.0 L138.7 418.3 L139.2 420.0 L139.7 421.8 L140.2 423.5 L140.7 425.0 L141.2 426.0 L141.7 426.5 L142.2 426.5 L142.7 426.3 L143.2 426.2 L143.7 426.2 L144.2 426.3 L144.7 426.8 L145.2 427.7 L145.7 428.9 L146.2 430.3 L146.7 432.2 L147.2 434.8 L147.7 437.6 L148.2 439.9 L148.7 441.4 L149.2 442.4 L149.7 443.3 L150.2 444.0 L150.7 444.5 L151.2 444.8 L151.7 445.0 L152.2 445.1 L152.7 445.3 L153.2 445.4 L153.7 445.5 L154.2 445.6 L154.7 445.6 L155.2 445.8 L155.7 445.9 L156.2 446.0 L156.7 446.1 L157.2 446.2 L157.7 446.3 L158.2 446.4 L158.7 446.5 L159.2 446.6 L159.7 446.7 L160.2 446.7 L160.7 446.8 L161.2 446.9 L161.7 447.0 L162.2 447.1 L162.7 447.1 L163.2 447.2 L163.7 447.3 L164.2 447.4 L164.7 447.4 L165.2 447.5 L165.7 447.6 L166.2 447.7 L166.7 447.7 L167.2 447.8 L167.7 447.9 L168.2 447.9 L168.7 448.0 L169.2 448.0 L169.7 448.1 L170.2 448.1 L170.7 448.2 L171.2 448.2 L171.7 448.3 L172.2 448.3 L172.7 448.3 L173.2 448.3 L173.7 448.3 L174.2 448.3 L174.7 448.3 L175.2 448.3 L175.7 448.3 L176.2 448.3 L176.7 448.3 L177.2 448.3 L177.7 448.3 L178.2 448.3 L178.7 448.3 L179.2 448.3 L179.7 448.3 L180.2 448.2 L180.7 447.8 L181.2 446.9 L181.7 445.8 L182.2 444.6 L182.7 443.5 L183.2 442.6 L183.7 441.7 L184.2 440.9 L184.7 440.1 L185.2 439.3 L185.7 438.7 L186.2 438.3 L186.7 438.1 L187.2 438.2 L187.7 438.5 L188.2 438.9 L188.7 439.4 L189.2 439.8 L189.7 440.1 L190.2 440.1 L190.7 439.6 L191.2 438.5 L191.7 437.0 L192.2 435.6 L192.7 434.4 L193.2 433.4 L193.7 432.5 L194.2 431.7 L194.7 431.4 L195.2 431.8 L195.7 432.9 L196.2 434.5 L196.7 436.2 L197.2 437.9 L197.7 439.7 L198.2 441.6 L198.7 443.3 L199.2 444.5 L199.7 445.4 L200.2 446.1 L200.7 446.7 L201.2 447.2 L201.7 447.5 L202.2 447.7 L202.7 447.5 L203.2 447.1 L203.7 446.4 L204.2 445.6 L204.7 444.7 L205.2 443.9 L205.7 443.0 L206.2 442.0 L206.7 440.9 L207.2 439.9 L207.7 438.9 L208.2 438.2 L208.7 437.8 L209.2 437.9 L209.7 438.7 L210.2 439.9 L210.7 441.2 L211.2 442.3 L211.7 443.2 L212.2 444.0 L212.7 444.7 L213.2 445.4 L213.7 446.0 L214.2 446.4 L214.7 446.6 L215.2 446.6 L215.7 446.1 L216.2 445.2 L216.7 444.0 L217.2 442.6 L217.7 441.0 L218.2 439.0 L218.7 436.3 L219.2 433.1 L219.7 429.6 L220.2 426.2 L220.7 422.9 L221.2 419.5 L221.7 416.2 L222.2 413.0 L222.7 410.2 L223.2 407.9 L223.7 405.9 L224.2 404.1 L224.7 402.4 L225.2 401.1 L225.7 400.3 L226.2 400.3 L226.7 401.6 L227.2 404.2 L227.7 407.5 L228.2 411.2 L228.7 415.8 L229.2 421.1 L229.7 426.3 L230.2 431.0 L230.7 435.1 L231.2 438.8 L231.7 441.8 L232.2 443.6 L232.7 444.6 L233.2 445.2 L233.7 445.5 L234.2 445.2 L234.7 444.0 L235.2 441.8 L235.7 439.2 L236.2 436.6 L236.7 433.7 L237.2 430.6 L237.7 427.5 L238.2 424.6 L238.7 422.2 L239.2 420.3 L239.7 418.5 L240.2 416.9 L240.7 415.6 L241.2 414.5 L241.7 413.6 L242.2 412.8 L242.7 412.1 L243.2 411.6 L243.7 411.5 L244.2 411.9 L244.7 412.7 L245.2 413.9 L245.7 415.3 L246.2 417.0 L246.7 419.2 L247.2 422.0 L247.7 425.0 L248.2 428.0 L248.7 430.9 L249.2 433.8 L249.7 436.6 L250.2 438.9 L250.7 440.5 L251.2 441.4 L251.7 442.2 L252.2 442.8 L252.7 443.2 L253.2 443.5 L253.7 443.6 L254.2 443.6 L254.7 443.3 L255.2 443.0 L255.7 442.6 L256.2 442.1 L256.7 441.6 L257.2 441.1 L257.7 440.7 L258.2 440.5 L258.7 440.2 L259.2 440.0 L259.7 439.8 L260.2 439.5 L260.7 439.1 L261.2 438.5 L261.7 437.6 L262.2 436.5 L262.7 435.0 L263.2 433.4 L263.7 431.2 L264.2 428.3 L264.7 424.8 L265.2 421.1 L265.7 417.6 L266.2 414.3 L266.7 411.2 L267.2 408.4 L267.7 406.1 L268.2 404.4 L268.7 403.1 L269.2 402.1 L269.7 401.6 L270.2 401.9 L270.7 403.2 L271.2 405.2 L271.7 407.4 L272.2 409.8 L272.7 412.5 L273.2 415.2 L273.7 417.5 L274.2 419.2 L274.7 420.6 L275.2 421.6 L275.7 422.2 L276.2 421.7 L276.7 419.9 L277.2 417.0 L277.7 414.0 L278.2 411.3 L278.7 408.7 L279.2 406.4 L279.7 405.0 L280.2 404.7 L280.7 405.6 L281.2 407.2 L281.7 409.2 L282.2 411.6 L282.7 414.7 L283.2 418.5 L283.7 422.2 L284.2 425.7 L284.7 428.9 L285.2 432.0 L285.7 434.3 L286.2 435.9 L286.7 436.9 L287.2 437.6 L287.7 438.2 L288.2 438.5 L288.7 438.5 L289.2 438.3 L289.7 437.8 L290.2 437.1 L290.7 436.3 L291.2 435.3 L291.7 434.0 L292.2 432.2 L292.7 430.3 L293.2 428.4 L293.7 426.6 L294.2 424.9 L294.7 423.2 L295.2 421.7 L295.7 420.6 L296.2 420.2 L296.7 420.5 L297.2 421.2 L297.7 422.1 L297.7 422.5" fill="none" stroke="#fa0606" stroke-width="1.40" stroke-linejoin="round" stroke-linecap="round"/>
<path d="M51.7 446.7 L52.2 446.5 L52.7 446.3 L53.2 446.1 L53.7 445.9 L54.2 445.7 L54.7 445.5 L55.2 445.4 L55.7 445.2 L56.2 445.1 L56.7 445.0 L57.2 444.9 L57.7 444.8 L58.2 444.7 L58.7 444.6 L59.2 444.5 L59.7 444.4 L60.2 444.3 L60.7 444.2 L61.2 444.2 L61.7 444.1 L62.2 444.0 L62.7 443.9 L63.2 443.8 L63.7 443.3 L64.2 441.7 L64.7 438.9 L65.2 435.5 L65.7 432.0 L66.2 428.2 L66.7 424.3 L67.2 420.8 L67.7 418.5 L68.2 417.1 L68.7 416.1 L69.2 415.3 L69.7 415.0 L70.2 415.1 L70.7 415.6 L71.2 416.4 L71.7 417.4 L72.2 418.3 L72.7 419.1 L73.2 420.0 L73.7 420.8 L74.2 421.7 L74.7 422.5 L75.2 423.4 L75.7 424.3 L76.2 425.3 L76.7 426.3 L77.2 427.3 L77.7 428.5 L78.2 429.8 L78.7 431.1 L79.2 432.3 L79.7 433.2 L80.2 433.9 L80.7 434.6 L81.2 434.8 L81.7 434.2 L82.2 432.4 L82.7 429.9 L83.2 427.5 L83.7 425.3 L84.2 423.3 L84.7 421.3 L85.2 419.4 L85.7 417.8 L86.2 416.5 L86.7 415.8 L87.2 415.8 L87.7 416.6 L88.2 418.2 L88.7 420.0 L89.2 421.7 L89.7 423.2 L90.2 424.6 L90.7 426.0 L91.2 427.1 L91.7 427.8 L92.2 427.8 L92.7 426.8 L93.2 424.8 L93.7 422.4 L94.2 419.9 L94.7 417.4 L95.2 414.9 L95.7 412.1 L96.2 409.3 L96.7 406.8 L97.2 404.7 L97.7 403.4 L98.2 403.3 L98.7 404.8 L99.2 407.7 L99.7 411.3 L100.2 414.8 L100.7 418.4 L101.2 422.0 L101.7 425.6 L102.2 428.6 L102.7 431.1 L103.2 433.1 L103.7 434.8 L104.2 436.2 L104.7 437.2 L105.2 437.8 L105.7 438.1 L106.2 438.3 L106.7 438.5 L107.2 438.6 L107.7 438.6 L108.2 438.6 L108.7 438.5 L109.2 438.3 L109.7 438.2 L110.2 438.1 L110.7 438.1 L111.2 438.1 L111.7 438.3 L112.2 438.5 L112.7 438.8 L113.2 439.2 L113.7 439.6 L114.2 439.9 L114.7 440.3 L115.2 440.7 L115.7 441.2 L116.2 441.7 L116.7 442.2 L117.2 442.7 L117.7 443.1 L118.2 443.4 L118.7 443.8 L119.2 444.2 L119.7 444.5 L120.2 444.8 L120.7 445.1 L121.2 445.3 L121.7 445.5 L122.2 445.6 L122.7 445.7 L123.2 445.6 L123.7 445.5 L124.2 445.2 L124.7 444.8 L125.2 444.3 L125.7 443.6 L126.2 442.8 L126.7 441.4 L127.2 438.8 L127.7 435.4 L128.2 431.9 L128.7 428.6 L129.2 425.4 L129.7 422.2 L130.2 419.4 L130.7 417.0 L131.2 415.1 L131.7 413.5 L132.2 412.3 L132.7 411.6 L133.2 411.7 L133.7 412.2 L134.2 412.9 L134.7 413.5 L135.2 413.9 L135.7 414.1 L136.2 414.2 L136.7 414.2 L137.2 414.3 L137.7 414.5 L138.2 415.2 L138.7 416.7 L139.2 419.0 L139.7 421.5 L140.2 424.3 L140.7 427.3 L141.2 430.5 L141.7 433.4 L142.2 436.0 L142.7 438.3 L143.2 440.5 L143.7 442.2 L144.2 443.4 L144.7 444.0 L145.2 444.5 L145.7 444.9 L146.2 445.2 L146.7 445.4 L147.2 445.6 L147.7 445.7 L148.2 445.7 L148.7 445.7 L149.2 445.7 L149.7 445.7 L150.2 445.7 L150.7 445.7 L151.2 445.7 L151.7 445.7 L152.2 445.7 L152.7 445.6 L153.2 445.4 L153.7 445.1 L154.2 444.9 L154.7 444.8 L155.2 444.7 L155.7 444.8 L156.2 445.0 L156.7 445.2 L157.2 445.4 L157.7 445.6 L158.2 445.7 L158.7 445.9 L159.2 445.9 L159.7 446.0 L160.2 446.1 L160.7 446.2 L161.2 446.3 L161.7 446.3 L162.2 446.4 L162.7 446.5 L163.2 446.6 L163.7 446.7 L164.2 446.7 L164.7 446.9 L165.2 447.0 L165.7 447.1 L166.2 447.3 L166.7 447.4 L167.2 447.5 L167.7 447.7 L168.2 447.8 L168.7 447.9 L169.2 448.0 L169.7 448.1 L170.2 448.1 L170.7 448.2 L171.2 448.2 L171.7 448.2 L172.2 448.3 L172.7 448.3 L173.2 448.3 L173.7 448.3 L174.2 448.3 L174.7 448.3 L175.2 448.3 L175.7 448.3 L176.2 448.3 L176.7 448.3 L177.2 448.3 L177.7 448.3 L178.2 448.3 L178.7 448.3 L179.2 448.3 L179.7 448.3 L180.2 448.3 L180.7 448.1 L181.2 447.8 L181.7 447.4 L182.2 446.9 L182.7 446.4 L183.2 445.9 L183.7 445.4 L184.2 445.1 L184.7 444.8 L185.2 444.4 L185.7 444.2 L186.2 443.9 L186.7 443.8 L187.2 443.7 L187.7 443.8 L188.2 444.0 L188.7 444.2 L189.2 444.4 L189.7 444.7 L190.2 444.9 L190.7 445.0 L191.2 445.1 L191.7 445.1 L192.2 445.1 L192.7 445.0 L193.2 445.0 L193.7 444.9 L194.2 444.9 L194.7 444.8 L195.2 444.7 L195.7 444.6 L196.2 444.3 L196.7 444.0 L197.2 443.7 L197.7 443.4 L198.2 443.1 L198.7 442.9 L199.2 442.7 L199.7 442.6 L200.2 442.6 L200.7 442.5 L201.2 442.5 L201.7 442.5 L202.2 442.4 L202.7 442.4 L203.2 442.3 L203.7 442.2 L204.2 442.0 L204.7 441.8 L205.2 441.6 L205.7 441.3 L206.2 441.1 L206.7 440.9 L207.2 440.7 L207.7 440.6 L208.2 440.5 L208.7 440.4 L209.2 440.3 L209.7 440.3 L210.2 440.6 L210.7 441.1 L211.2 441.9 L211.7 442.8 L212.2 443.5 L212.7 444.0 L213.2 444.4 L213.7 444.9 L214.2 445.2 L214.7 445.5 L215.2 445.7 L215.7 445.7 L216.2 445.5 L216.7 445.3 L217.2 445.0 L217.7 444.7 L218.2 444.4 L218.7 444.1 L219.2 443.8 L219.7 443.6 L220.2 443.4 L220.7 443.3 L221.2 443.1 L221.7 443.0 L222.2 442.8 L222.7 442.6 L223.2 442.4 L223.7 442.2 L224.2 441.8 L224.7 441.5 L225.2 441.0 L225.7 440.6 L226.2 440.0 L226.7 439.3 L227.2 438.4 L227.7 437.4 L228.2 436.2 L228.7 435.1 L229.2 434.0 L229.7 432.9 L230.2 431.9 L230.7 431.3 L231.2 431.4 L231.7 432.4 L232.2 433.9 L232.7 435.7 L233.2 437.6 L233.7 439.5 L234.2 441.5 L234.7 443.0 L235.2 443.8 L235.7 444.3 L236.2 444.6 L236.7 444.9 L237.2 445.0 L237.7 445.1 L238.2 444.9 L238.7 444.6 L239.2 444.2 L239.7 443.7 L240.2 443.1 L240.7 442.6 L241.2 442.0 L241.7 441.3 L242.2 440.6 L242.7 439.9 L243.2 439.2 L243.7 438.6 L244.2 438.1 L244.7 437.6 L245.2 437.1 L245.7 436.7 L246.2 436.4 L246.7 436.3 L247.2 436.4 L247.7 436.8 L248.2 437.3 L248.7 437.9 L249.2 438.5 L249.7 439.3 L250.2 440.2 L250.7 441.2 L251.2 442.2 L251.7 443.1 L252.2 443.7 L252.7 444.0 L253.2 443.7 L253.7 443.1 L254.2 442.1 L254.7 441.0 L255.2 439.8 L255.7 438.8 L256.2 437.9 L256.7 437.0 L257.2 436.1 L257.7 435.3 L258.2 434.5 L258.7 433.8 L259.2 433.1 L259.7 432.6 L260.2 432.1 L260.7 431.5 L261.2 430.8 L261.7 429.8 L262.2 428.3 L262.7 426.4 L263.2 424.4 L263.7 422.8 L264.2 421.9 L264.7 422.1 L265.2 423.4 L265.7 425.4 L266.2 427.3 L266.7 428.8 L267.2 430.3 L267.7 431.5 L268.2 432.3 L268.7 432.5 L269.2 432.3 L269.7 431.9 L270.2 431.3 L270.7 430.8 L271.2 430.2 L271.7 429.4 L272.2 428.6 L272.7 427.7 L273.2 427.1 L273.7 426.7 L274.2 426.6 L274.7 426.8 L275.2 427.1 L275.7 427.4 L276.2 427.7 L276.7 427.9 L277.2 427.8 L277.7 427.5 L278.2 427.0 L278.7 426.4 L279.2 425.7 L279.7 425.1 L280.2 424.4 L280.7 423.7 L281.2 423.1 L281.7 422.7 L282.2 422.9 L282.7 423.8 L283.2 425.4 L283.7 427.3 L284.2 429.3 L284.7 431.5 L285.2 433.8 L285.7 435.6 L286.2 436.8 L286.7 437.4 L287.2 437.9 L287.7 438.1 L288.2 438.2 L288.7 437.9 L289.2 437.4 L289.7 436.8 L290.2 436.0 L290.7 435.2 L291.2 434.4 L291.7 433.4 L292.2 432.2 L292.7 431.0 L293.2 430.0 L293.7 429.3 L294.2 429.1 L294.7 429.6 L295.2 430.5 L295.7 431.6 L296.2 432.7 L296.7 433.9 L297.2 435.2 L297.7 436.2 L297.7 436.6" fill="none" stroke="#0a800a" stroke-width="1.40" stroke-linejoin="round" stroke-linecap="round"/>
<path d="M51.7 440.6 L52.2 440.3 L52.7 439.8 L53.2 439.4 L53.7 438.9 L54.2 438.5 L54.7 438.0 L55.2 437.6 L55.7 437.2 L56.2 436.7 L56.7 436.3 L57.2 435.9 L57.7 435.4 L58.2 434.9 L58.7 434.3 L59.2 433.4 L59.7 432.2 L60.2 430.6 L60.7 428.6 L61.2 426.5 L61.7 424.4 L62.2 422.5 L62.7 420.6 L63.2 418.6 L63.7 416.8 L64.2 415.4 L64.7 414.8 L65.2 415.4 L65.7 417.1 L66.2 419.5 L66.7 421.8 L67.2 423.9 L67.7 425.8 L68.2 427.7 L68.7 429.5 L69.2 430.9 L69.7 432.0 L70.2 432.5 L70.7 432.5 L71.2 432.4 L71.7 432.1 L72.2 431.7 L72.7 431.2 L73.2 430.5 L73.7 429.2 L74.2 426.8 L74.7 423.6 L75.2 420.1 L75.7 416.5 L76.2 412.9 L76.7 409.0 L77.2 405.1 L77.7 401.7 L78.2 399.0 L78.7 397.2 L79.2 395.8 L79.7 394.6 L80.2 393.7 L80.7 393.4 L81.2 393.7 L81.7 394.4 L82.2 395.6 L82.7 396.8 L83.2 397.9 L83.7 398.9 L84.2 399.8 L84.7 400.8 L85.2 401.8 L85.7 402.7 L86.2 403.4 L86.7 403.9 L87.2 404.2 L87.7 404.0 L88.2 403.1 L88.7 401.5 L89.2 399.4 L89.7 396.8 L90.2 393.4 L90.7 388.7 L91.2 383.2 L91.7 377.8 L92.2 372.8 L92.7 367.7 L93.2 362.9 L93.7 358.9 L94.2 356.5 L94.7 356.6 L95.2 359.3 L95.7 363.8 L96.2 368.9 L96.7 374.2 L97.2 379.8 L97.7 385.4 L98.2 389.9 L98.7 392.6 L99.2 394.3 L99.7 395.5 L100.2 396.4 L100.7 397.0 L101.2 397.2 L101.7 396.9 L102.2 396.3 L102.7 395.6 L103.2 394.9 L103.7 394.4 L104.2 394.5 L104.7 395.1 L105.2 396.1 L105.7 397.3 L106.2 398.4 L106.7 399.5 L107.2 400.5 L107.7 401.5 L108.2 402.5 L108.7 403.4 L109.2 404.1 L109.7 404.6 L110.2 404.5 L110.7 403.7 L111.2 402.2 L111.7 400.2 L112.2 398.1 L112.7 396.0 L113.2 393.7 L113.7 391.2 L114.2 388.6 L114.7 386.3 L115.2 384.5 L115.7 383.1 L116.2 382.0 L116.7 381.1 L117.2 380.5 L117.7 380.4 L118.2 381.2 L118.7 382.9 L119.2 385.4 L119.7 388.3 L120.2 391.9 L120.7 396.4 L121.2 401.3 L121.7 406.0 L122.2 410.5 L122.7 415.0 L123.2 419.3 L123.7 423.3 L124.2 426.8 L124.7 430.0 L125.2 433.0 L125.7 435.7 L126.2 437.8 L126.7 439.4 L127.2 440.4 L127.7 441.2 L128.2 441.9 L128.7 442.5 L129.2 442.9 L129.7 443.0 L130.2 443.0 L130.7 442.9 L131.2 442.7 L131.7 442.5 L132.2 442.1 L132.7 441.7 L133.2 441.2 L133.7 440.4 L134.2 439.3 L134.7 438.0 L135.2 436.6 L135.7 435.1 L136.2 433.4 L136.7 431.6 L137.2 429.5 L137.7 427.4 L138.2 425.3 L138.7 423.2 L139.2 421.4 L139.7 419.6 L140.2 417.8 L140.7 416.1 L141.2 414.5 L141.7 413.0 L142.2 411.6 L142.7 410.1 L143.2 408.6 L143.7 407.2 L144.2 405.9 L144.7 404.8 L145.2 403.9 L145.7 403.5 L146.2 403.6 L146.7 404.2 L147.2 405.2 L147.7 406.5 L148.2 407.9 L148.7 409.4 L149.2 411.1 L149.7 413.0 L150.2 415.0 L150.7 417.2 L151.2 419.5 L151.7 422.1 L152.2 424.9 L152.7 427.8 L153.2 430.5 L153.7 433.0 L154.2 435.4 L154.7 437.9 L155.2 440.1 L155.7 442.0 L156.2 443.2 L156.7 443.9 L157.2 444.3 L157.7 444.6 L158.2 444.8 L158.7 445.0 L159.2 445.1 L159.7 445.0 L160.2 444.8 L160.7 444.3 L161.2 443.8 L161.7 443.2 L162.2 442.8 L162.7 442.4 L163.2 442.4 L163.7 442.8 L164.2 443.7 L164.7 444.7 L165.2 445.6 L165.7 446.2 L166.2 446.6 L166.7 447.0 L167.2 447.3 L167.7 447.5 L168.2 447.7 L168.7 447.8 L169.2 447.9 L169.7 448.0 L170.2 448.1 L170.7 448.1 L171.2 448.2 L171.7 448.2 L172.2 448.3 L172.7 448.3 L173.2 448.3 L173.7 448.3 L174.2 448.3 L174.7 448.3 L175.2 448.3 L175.7 448.3 L176.2 448.3 L176.7 448.3 L177.2 448.3 L177.7 448.3 L178.2 448.3 L178.7 448.3 L179.2 448.3 L179.7 448.3 L180.2 448.3 L180.7 448.2 L181.2 448.0 L181.7 447.7 L182.2 447.3 L182.7 446.9 L183.2 446.4 L183.7 446.0 L184.2 445.7 L184.7 445.3 L185.2 444.8 L185.7 444.4 L186.2 444.1 L186.7 443.8 L187.2 443.8 L187.7 443.9 L188.2 444.2 L188.7 444.6 L189.2 445.0 L189.7 445.4 L190.2 445.7 L190.7 446.0 L191.2 446.2 L191.7 446.4 L192.2 446.6 L192.7 446.7 L193.2 446.7 L193.7 446.6 L194.2 446.3 L194.7 446.0 L195.2 445.5 L195.7 445.0 L196.2 444.5 L196.7 444.1 L197.2 443.7 L197.7 443.4 L198.2 443.1 L198.7 442.8 L199.2 442.6 L199.7 442.4 L200.2 442.3 L200.7 442.4 L201.2 442.7 L201.7 443.2 L202.2 443.7 L202.7 444.3 L203.2 444.8 L203.7 445.3 L204.2 445.6 L204.7 445.9 L205.2 446.1 L205.7 446.2 L206.2 446.4 L206.7 446.5 L207.2 446.6 L207.7 446.7 L208.2 446.7 L208.7 446.5 L209.2 446.2 L209.7 445.5 L210.2 444.7 L210.7 443.8 L211.2 443.0 L211.7 442.1 L212.2 441.1 L212.7 440.1 L213.2 439.0 L213.7 437.9 L214.2 437.0 L214.7 436.2 L215.2 435.6 L215.7 435.0 L216.2 434.5 L216.7 433.8 L217.2 433.0 L217.7 431.7 L218.2 429.7 L218.7 427.2 L219.2 424.3 L219.7 421.3 L220.2 418.0 L220.7 414.3 L221.2 410.3 L221.7 406.7 L222.2 403.7 L222.7 401.6 L223.2 399.9 L223.7 398.3 L224.2 397.0 L224.7 395.8 L225.2 395.0 L225.7 394.5 L226.2 394.4 L226.7 394.9 L227.2 396.0 L227.7 397.5 L228.2 399.2 L228.7 401.2 L229.2 403.8 L229.7 406.9 L230.2 410.3 L230.7 413.7 L231.2 416.7 L231.7 419.5 L232.2 422.2 L232.7 424.8 L233.2 427.3 L233.7 429.5 L234.2 431.4 L234.7 432.9 L235.2 434.2 L235.7 435.4 L236.2 436.6 L236.7 437.5 L237.2 438.3 L237.7 438.8 L238.2 439.0 L238.7 438.8 L239.2 438.3 L239.7 437.6 L240.2 436.9 L240.7 436.2 L241.2 435.7 L241.7 435.3 L242.2 434.9 L242.7 434.6 L243.2 434.3 L243.7 434.3 L244.2 434.4 L244.7 434.8 L245.2 435.3 L245.7 435.8 L246.2 436.2 L246.7 436.6 L247.2 436.9 L247.7 437.2 L248.2 437.5 L248.7 437.7 L249.2 438.0 L249.7 438.2 L250.2 438.4 L250.7 438.5 L251.2 438.6 L251.7 438.5 L252.2 438.0 L252.7 436.8 L253.2 435.0 L253.7 432.7 L254.2 430.0 L254.7 426.3 L255.2 421.5 L255.7 416.6 L256.2 412.3 L256.7 408.6 L257.2 405.2 L257.7 402.8 L258.2 401.7 L258.7 401.8 L259.2 402.5 L259.7 403.4 L260.2 404.2 L260.7 404.5 L261.2 404.2 L261.7 402.9 L262.2 401.0 L262.7 398.8 L263.2 396.4 L263.7 393.6 L264.2 390.5 L264.7 387.1 L265.2 383.8 L265.7 381.0 L266.2 378.6 L266.7 376.5 L267.2 374.5 L267.7 372.9 L268.2 372.1 L268.7 372.2 L269.2 373.6 L269.7 375.9 L270.2 378.5 L270.7 381.3 L271.2 384.3 L271.7 387.5 L272.2 390.6 L272.7 393.2 L273.2 395.2 L273.7 396.9 L274.2 398.4 L274.7 399.5 L275.2 400.1 L275.7 399.8 L276.2 398.7 L276.7 397.0 L277.2 395.0 L277.7 393.2 L278.2 391.6 L278.7 390.0 L279.2 388.6 L279.7 387.2 L280.2 386.2 L280.7 385.3 L281.2 384.6 L281.7 383.9 L282.2 383.4 L282.7 382.9 L283.2 382.7 L283.7 382.6 L284.2 382.8 L284.7 383.2 L285.2 383.8 L285.7 384.6 L286.2 385.4 L286.7 386.4 L287.2 387.7 L287.7 389.4 L288.2 391.2 L288.7 393.0 L289.2 394.7 L289.7 396.5 L290.2 398.3 L290.7 400.0 L291.2 401.3 L291.7 402.2 L292.2 402.8 L292.7 403.1 L293.2 403.3 L293.7 403.6 L294.2 404.1 L294.7 404.9 L295.2 406.4 L295.7 408.4 L296.2 410.8 L296.7 413.5 L297.2 416.7 L297.7 419.4 L297.7 420.4" fill="none" stroke="#0606fa" stroke-width="1.40" stroke-linejoin="round" stroke-linecap="round"/>
<path d="M51.7 431.7 L52.2 429.1 L52.7 425.9 L53.2 423.1 L53.7 420.6 L54.2 418.5 L54.7 416.5 L55.2 414.7 L55.7 413.6 L56.2 413.2 L56.7 413.7 L57.2 414.6 L57.7 415.6 L58.2 416.5 L58.7 417.2 L59.2 417.8 L59.7 418.2 L60.2 418.2 L60.7 417.2 L61.2 415.1 L61.7 412.0 L62.2 408.6 L62.7 405.0 L63.2 401.0 L63.7 396.6 L64.2 392.4 L64.7 389.1 L65.2 386.9 L65.7 385.2 L66.2 383.8 L66.7 382.8 L67.2 382.1 L67.7 381.8 L68.2 382.0 L68.7 382.4 L69.2 383.0 L69.7 383.6 L70.2 384.1 L70.7 384.5 L71.2 385.0 L71.7 385.3 L72.2 385.6 L72.7 385.4 L73.2 383.6 L73.7 380.0 L74.2 375.2 L74.7 370.1 L75.2 365.0 L75.7 359.7 L76.2 354.1 L76.7 349.0 L77.2 344.9 L77.7 341.8 L78.2 339.4 L78.7 337.5 L79.2 336.5 L79.7 336.9 L80.2 338.5 L80.7 340.7 L81.2 343.0 L81.7 345.3 L82.2 347.6 L82.7 349.9 L83.2 351.7 L83.7 352.5 L84.2 352.2 L84.7 351.1 L85.2 349.7 L85.7 348.5 L86.2 347.8 L86.7 347.5 L87.2 347.4 L87.7 347.2 L88.2 346.9 L88.7 346.2 L89.2 344.7 L89.7 342.3 L90.2 339.2 L90.7 334.7 L91.2 327.9 L91.7 319.6 L92.2 311.6 L92.7 304.6 L93.2 298.1 L93.7 292.1 L94.2 287.4 L94.7 284.9 L95.2 285.3 L95.7 288.5 L96.2 293.5 L96.7 299.1 L97.2 304.9 L97.7 311.1 L98.2 317.8 L98.7 324.3 L99.2 330.5 L99.7 336.4 L100.2 342.0 L100.7 346.6 L101.2 349.8 L101.7 351.9 L102.2 353.6 L102.7 354.8 L103.2 355.6 L103.7 355.6 L104.2 354.7 L104.7 353.1 L105.2 351.3 L105.7 349.5 L106.2 347.7 L106.7 346.0 L107.2 344.2 L107.7 342.7 L108.2 341.4 L108.7 340.4 L109.2 339.5 L109.7 338.6 L110.2 337.7 L110.7 336.5 L111.2 335.1 L111.7 333.4 L112.2 331.5 L112.7 329.2 L113.2 326.4 L113.7 323.1 L114.2 320.0 L114.7 317.6 L115.2 315.9 L115.7 314.6 L116.2 313.6 L116.7 313.4 L117.2 314.2 L117.7 316.0 L118.2 318.6 L118.7 321.8 L119.2 325.9 L119.7 331.2 L120.2 337.3 L120.7 343.6 L121.2 350.1 L121.7 356.9 L122.2 364.1 L122.7 371.2 L123.2 378.2 L123.7 385.1 L124.2 392.0 L124.7 398.8 L125.2 404.8 L125.7 409.6 L126.2 413.5 L126.7 416.8 L127.2 419.6 L127.7 421.5 L128.2 422.0 L128.7 420.7 L129.2 417.9 L129.7 414.2 L130.2 410.5 L130.7 406.9 L131.2 403.3 L131.7 399.7 L132.2 396.6 L132.7 393.9 L133.2 391.6 L133.7 389.5 L134.2 387.3 L134.7 384.8 L135.2 381.8 L135.7 378.3 L136.2 374.6 L136.7 371.1 L137.2 368.0 L137.7 364.9 L138.2 362.4 L138.7 361.0 L139.2 361.4 L139.7 363.4 L140.2 366.2 L140.7 369.2 L141.2 372.3 L141.7 375.3 L142.2 377.5 L142.7 378.8 L143.2 379.5 L143.7 380.2 L144.2 381.0 L144.7 382.0 L145.2 383.3 L145.7 384.8 L146.2 386.7 L146.7 389.1 L147.2 392.2 L147.7 395.7 L148.2 399.1 L148.7 402.2 L149.2 405.0 L149.7 407.6 L150.2 410.3 L150.7 412.9 L151.2 415.6 L151.7 418.3 L152.2 421.0 L152.7 423.7 L153.2 426.4 L153.7 429.1 L154.2 431.9 L154.7 434.9 L155.2 437.6 L155.7 439.6 L156.2 440.8 L156.7 441.6 L157.2 442.2 L157.7 442.7 L158.2 443.1 L158.7 443.4 L159.2 443.6 L159.7 443.6 L160.2 443.3 L160.7 442.6 L161.2 441.7 L161.7 440.8 L162.2 439.9 L162.7 439.3 L163.2 439.3 L163.7 439.8 L164.2 440.9 L164.7 442.3 L165.2 443.6 L165.7 444.6 L166.2 445.3 L166.7 445.9 L167.2 446.4 L167.7 446.9 L168.2 447.3 L168.7 447.6 L169.2 447.7 L169.7 447.8 L170.2 447.9 L170.7 447.9 L171.2 448.0 L171.7 448.0 L172.2 448.1 L172.7 448.1 L173.2 448.1 L173.7 448.1 L174.2 448.1 L174.7 448.1 L175.2 448.1 L175.7 448.1 L176.2 448.1 L176.7 448.1 L177.2 448.1 L177.7 448.1 L178.2 448.1 L178.7 448.1 L179.2 448.1 L179.7 448.1 L180.2 448.0 L180.7 447.6 L181.2 446.7 L181.7 445.5 L182.2 444.1 L182.7 442.7 L183.2 441.0 L183.7 439.0 L184.2 436.9 L184.7 435.0 L185.2 433.5 L185.7 432.2 L186.2 431.2 L186.7 430.8 L187.2 431.1 L187.7 432.1 L188.2 433.3 L188.7 434.4 L189.2 435.5 L189.7 436.4 L190.2 437.1 L190.7 437.4 L191.2 437.0 L191.7 435.8 L192.2 434.1 L192.7 432.3 L193.2 430.6 L193.7 429.1 L194.2 427.7 L194.7 426.6 L195.2 426.2 L195.7 426.6 L196.2 427.7 L196.7 429.1 L197.2 430.4 L197.7 431.6 L198.2 432.8 L198.7 433.9 L199.2 435.0 L199.7 435.9 L200.2 436.5 L200.7 437.0 L201.2 437.4 L201.7 437.8 L202.2 438.1 L202.7 438.4 L203.2 438.5 L203.7 438.6 L204.2 438.4 L204.7 437.9 L205.2 437.0 L205.7 435.9 L206.2 434.9 L206.7 433.7 L207.2 432.4 L207.7 431.0 L208.2 429.9 L208.7 429.3 L209.2 429.3 L209.7 430.0 L210.2 431.0 L210.7 432.1 L211.2 432.9 L211.7 433.5 L212.2 434.1 L212.7 434.6 L213.2 435.0 L213.7 435.2 L214.2 435.1 L214.7 434.8 L215.2 434.3 L215.7 433.7 L216.2 432.9 L216.7 431.9 L217.2 430.4 L217.7 428.3 L218.2 425.7 L218.7 422.1 L219.2 417.0 L219.7 410.7 L220.2 403.8 L220.7 396.4 L221.2 388.3 L221.7 380.0 L222.2 372.1 L222.7 364.9 L223.2 358.3 L223.7 352.4 L224.2 348.0 L224.7 345.1 L225.2 343.3 L225.7 341.9 L226.2 341.1 L226.7 341.2 L227.2 342.5 L227.7 344.8 L228.2 347.8 L228.7 351.7 L229.2 357.2 L229.7 363.9 L230.2 371.2 L230.7 378.4 L231.2 385.6 L231.7 393.0 L232.2 399.9 L232.7 405.6 L233.2 410.1 L233.7 414.0 L234.2 417.6 L234.7 420.7 L235.2 423.1 L235.7 424.7 L236.2 425.2 L236.7 424.6 L237.2 423.0 L237.7 420.9 L238.2 418.4 L238.7 415.4 L239.2 411.8 L239.7 408.1 L240.2 404.6 L240.7 401.6 L241.2 398.9 L241.7 396.5 L242.2 394.5 L242.7 392.9 L243.2 391.5 L243.7 390.5 L244.2 390.1 L244.7 390.5 L245.2 391.8 L245.7 393.8 L246.2 396.0 L246.7 398.6 L247.2 401.8 L247.7 405.4 L248.2 409.0 L248.7 412.3 L249.2 415.5 L249.7 418.6 L250.2 421.5 L250.7 424.0 L251.2 426.0 L251.7 427.6 L252.2 428.9 L252.7 429.9 L253.2 430.2 L253.7 428.8 L254.2 425.0 L254.7 419.4 L255.2 412.2 L255.7 403.5 L256.2 395.3 L256.7 389.2 L257.2 385.2 L257.7 382.8 L258.2 381.8 L258.7 381.5 L259.2 381.3 L259.7 381.2 L260.2 381.0 L260.7 380.5 L261.2 379.4 L261.7 377.3 L262.2 374.4 L262.7 370.8 L263.2 366.0 L263.7 359.8 L264.2 352.8 L264.7 345.9 L265.2 339.4 L265.7 333.1 L266.2 327.5 L266.7 323.1 L267.2 319.9 L267.7 317.4 L268.2 315.3 L268.7 313.8 L269.2 312.9 L269.7 313.0 L270.2 314.3 L270.7 316.7 L271.2 319.7 L271.7 323.6 L272.2 328.8 L272.7 334.8 L273.2 340.3 L273.7 345.0 L274.2 349.2 L274.7 352.5 L275.2 354.1 L275.7 353.4 L276.2 350.4 L276.7 345.9 L277.2 341.2 L277.7 336.6 L278.2 331.8 L278.7 327.2 L279.2 323.8 L279.7 321.7 L280.2 320.3 L280.7 319.3 L281.2 318.8 L281.7 319.2 L282.2 320.8 L282.7 323.3 L283.2 326.4 L283.7 330.3 L284.2 335.5 L284.7 341.4 L285.2 347.2 L285.7 352.4 L286.2 357.2 L286.7 361.7 L287.2 365.4 L287.7 368.0 L288.2 369.9 L288.7 371.5 L289.2 372.9 L289.7 374.1 L290.2 375.0 L290.7 375.4 L291.2 375.3 L291.7 374.3 L292.2 372.3 L292.7 369.9 L293.2 367.4 L293.7 364.8 L294.2 362.7 L294.7 362.3 L295.2 364.0 L295.7 367.0 L296.2 370.7 L296.7 375.2 L297.2 380.5 L297.7 385.2 L297.7 387.0" fill="none" stroke="#141414" stroke-width="1.20" stroke-linejoin="round" stroke-linecap="round"/>
<rect x="48.80" y="256.60" width="252.10" height="193.60" fill="none" stroke="#111" stroke-width="1.7"/>
<path d="M43.90 447.70h4.90M46.00 438.27h2.80M46.00 428.84h2.80M46.00 419.41h2.80M46.00 409.98h2.80M43.90 400.55h4.90M46.00 391.12h2.80M46.00 381.69h2.80M46.00 372.26h2.80M46.00 362.83h2.80M43.90 353.40h4.90M46.00 343.97h2.80M46.00 334.54h2.80M46.00 325.11h2.80M46.00 315.68h2.80M43.90 306.25h4.90M46.00 296.82h2.80M46.00 287.39h2.80M46.00 277.96h2.80M46.00 268.53h2.80M43.90 259.10h4.90M60.60 450.20v5.50M71.80 450.20v3.40M83.00 450.20v3.40M94.20 450.20v3.40M105.40 450.20v3.40M116.60 450.20v5.50M127.80 450.20v3.40M139.00 450.20v3.40M150.20 450.20v3.40M161.40 450.20v3.40M172.60 450.20v5.50M183.80 450.20v3.40M195.00 450.20v3.40M206.20 450.20v3.40M217.40 450.20v3.40M228.60 450.20v5.50M239.80 450.20v3.40M251.00 450.20v3.40M262.20 450.20v3.40M273.40 450.20v3.40M284.60 450.20v5.50M295.80 450.20v3.40" stroke="#222" stroke-width="0.95" fill="none"/>
<text x="41.60" y="450.80" text-anchor="end" class="t" font-size="9.20">0</text>
<text x="41.60" y="403.65" text-anchor="end" class="t" font-size="9.20">5</text>
<text x="41.60" y="356.50" text-anchor="end" class="t" font-size="9.20">10</text>
<text x="41.60" y="309.35" text-anchor="end" class="t" font-size="9.20">15</text>
<text x="41.60" y="262.20" text-anchor="end" class="t" font-size="9.20">20</text>
<text x="58.70" y="464.90" text-anchor="middle" class="t" font-size="9.20">-15</text>
<text x="114.70" y="464.90" text-anchor="middle" class="t" font-size="9.20">-10</text>
<text x="170.70" y="464.90" text-anchor="middle" class="t" font-size="9.20">-5</text>
<text x="228.60" y="464.90" text-anchor="middle" class="t" font-size="9.20">0</text>
<text x="284.60" y="464.90" text-anchor="middle" class="t" font-size="9.20">5</text>
<text x="143.50" y="475.20" class="a"><tspan textLength="33.60" lengthAdjust="spacingAndGlyphs">Energy</tspan><tspan dx="-0.11" textLength="22.12" lengthAdjust="spacingAndGlyphs">(ev)</tspan></text>
<text transform="translate(31.00 351.70) rotate(-90)" text-anchor="middle" class="a" textLength="83.7" lengthAdjust="spacingAndGlyphs">Relative Intensity</text>
<text transform="translate(188.70 295.30) scale(1.05 1.10)" text-anchor="middle" class="h">TPD2</text>
<path d="M302.80 262.70H306.40" stroke="#fa0606" stroke-width="1.3"/>
<text x="309.60" y="265.60" class="l" font-size="9.17">Accepter-2</text>
<path d="M302.80 277.70H306.40" stroke="#0a800a" stroke-width="1.3"/>
<text x="309.60" y="279.80" class="l" font-size="9.17">Accepter-1</text>
<path d="M302.80 293.20H306.40" stroke="#0606fa" stroke-width="1.3"/>
<text x="309.60" y="295.40" class="l" font-size="9.17">Donor</text>
<path d="M302.80 308.70H306.40" stroke="#141414" stroke-width="1.3"/>
<text x="309.60" y="309.70" class="l" font-size="9.17">Total</text></g>
<g id="p4"><path d="M389.7 435.6 L390.2 434.4 L390.7 432.9 L391.2 431.5 L391.7 430.4 L392.2 429.5 L392.7 428.8 L393.2 428.2 L393.7 427.8 L394.2 427.4 L394.7 427.1 L395.2 427.0 L395.7 426.9 L396.2 426.8 L396.7 426.5 L397.2 425.6 L397.7 424.0 L398.2 421.9 L398.7 419.6 L399.2 417.4 L399.7 415.3 L400.2 413.1 L400.7 411.1 L401.2 409.5 L401.7 408.8 L402.2 409.6 L402.7 411.8 L403.2 414.8 L403.7 418.0 L404.2 421.2 L404.7 424.6 L405.2 427.5 L405.7 429.6 L406.2 431.0 L406.7 432.0 L407.2 432.3 L407.7 431.6 L408.2 429.6 L408.7 426.9 L409.2 423.9 L409.7 420.8 L410.2 417.3 L410.7 413.6 L411.2 410.3 L411.7 407.5 L412.2 405.3 L412.7 403.2 L413.2 401.4 L413.7 400.2 L414.2 399.5 L414.7 399.5 L415.2 399.8 L415.7 400.3 L416.2 400.7 L416.7 400.9 L417.2 400.9 L417.7 400.7 L418.2 400.6 L418.7 400.4 L419.2 400.5 L419.7 401.3 L420.2 403.6 L420.7 406.8 L421.2 410.2 L421.7 413.4 L422.2 416.7 L422.7 419.9 L423.2 422.5 L423.7 424.5 L424.2 426.1 L424.7 427.1 L425.2 427.0 L425.7 425.5 L426.2 422.8 L426.7 419.6 L427.2 416.3 L427.7 412.7 L428.2 408.9 L428.7 405.5 L429.2 402.8 L429.7 400.6 L430.2 398.7 L430.7 397.5 L431.2 397.4 L431.7 398.8 L432.2 401.5 L432.7 404.7 L433.2 408.3 L433.7 412.2 L434.2 416.5 L434.7 420.5 L435.2 424.0 L435.7 427.1 L436.2 429.8 L436.7 431.6 L437.2 432.1 L437.7 430.6 L438.2 427.6 L438.7 423.5 L439.2 418.1 L439.7 411.3 L440.2 404.1 L440.7 398.3 L441.2 393.5 L441.7 389.5 L442.2 386.2 L442.7 384.4 L443.2 384.2 L443.7 385.6 L444.2 388.2 L444.7 391.4 L445.2 395.3 L445.7 400.4 L446.2 405.6 L446.7 409.6 L447.2 412.3 L447.7 414.4 L448.2 415.8 L448.7 416.0 L449.2 414.8 L449.7 412.5 L450.2 409.8 L450.7 407.3 L451.2 405.0 L451.7 402.7 L452.2 400.6 L452.7 398.8 L453.2 397.6 L453.7 397.2 L454.2 398.1 L454.7 400.1 L455.2 402.7 L455.7 405.5 L456.2 408.5 L456.7 411.9 L457.2 415.5 L457.7 418.9 L458.2 421.9 L458.7 424.7 L459.2 427.4 L459.7 429.8 L460.2 431.9 L460.7 433.4 L461.2 434.7 L461.7 435.7 L462.2 436.7 L462.7 437.5 L463.2 438.1 L463.7 438.5 L464.2 438.6 L464.7 438.2 L465.2 437.5 L465.7 436.4 L466.2 435.2 L466.7 433.8 L467.2 432.4 L467.7 430.7 L468.2 428.9 L468.7 427.0 L469.2 425.3 L469.7 423.9 L470.2 422.8 L470.7 421.8 L471.2 420.8 L471.7 420.0 L472.2 419.5 L472.7 419.2 L473.2 419.4 L473.7 419.9 L474.2 420.8 L474.7 421.8 L475.2 422.7 L475.7 423.3 L476.2 423.7 L476.7 423.9 L477.2 424.0 L477.7 424.1 L478.2 424.3 L478.7 424.5 L479.2 424.8 L479.7 425.4 L480.2 426.2 L480.7 427.2 L481.2 428.4 L481.7 429.9 L482.2 431.8 L482.7 433.6 L483.2 435.2 L483.7 436.5 L484.2 437.8 L484.7 438.9 L485.2 439.8 L485.7 440.4 L486.2 440.8 L486.7 441.0 L487.2 441.1 L487.7 441.2 L488.2 441.3 L488.7 441.4 L489.2 441.5 L489.7 441.6 L490.2 441.8 L490.7 441.9 L491.2 442.1 L491.7 442.3 L492.2 442.5 L492.7 442.7 L493.2 442.9 L493.7 443.1 L494.2 443.2 L494.7 443.4 L495.2 443.5 L495.7 443.7 L496.2 443.7 L496.7 443.8 L497.2 443.9 L497.7 444.0 L498.2 444.0 L498.7 444.1 L499.2 444.2 L499.7 444.2 L500.2 444.3 L500.7 444.3 L501.2 444.4 L501.7 444.5 L502.2 444.5 L502.7 444.6 L503.2 444.6 L503.7 444.6 L504.2 444.7 L504.7 444.7 L505.2 444.8 L505.7 444.8 L506.2 444.8 L506.7 444.9 L507.2 444.9 L507.7 444.9 L508.2 444.9 L508.7 444.9 L509.2 444.9 L509.7 444.9 L510.2 444.9 L510.7 444.9 L511.2 444.9 L511.7 444.9 L512.2 444.9 L512.7 444.9 L513.2 444.9 L513.7 444.9 L514.2 444.9 L514.7 444.9 L515.2 444.9 L515.7 444.9 L516.2 444.9 L516.7 444.9 L517.2 444.8 L517.7 444.3 L518.2 443.4 L518.7 442.1 L519.2 440.8 L519.7 439.6 L520.2 438.6 L520.7 437.8 L521.2 437.0 L521.7 436.2 L522.2 435.6 L522.7 435.3 L523.2 435.1 L523.7 435.2 L524.2 435.6 L524.7 436.0 L525.2 436.5 L525.7 436.9 L526.2 437.1 L526.7 437.0 L527.2 436.4 L527.7 435.1 L528.2 433.7 L528.7 432.4 L529.2 431.2 L529.7 430.0 L530.2 428.9 L530.7 428.1 L531.2 427.8 L531.7 428.4 L532.2 429.8 L532.7 431.6 L533.2 433.4 L533.7 435.3 L534.2 437.2 L534.7 439.1 L535.2 440.6 L535.7 441.6 L536.2 442.3 L536.7 442.8 L537.2 443.3 L537.7 443.6 L538.2 443.7 L538.7 443.5 L539.2 443.1 L539.7 442.4 L540.2 441.6 L540.7 440.7 L541.2 439.9 L541.7 439.0 L542.2 438.0 L542.7 436.9 L543.2 435.9 L543.7 435.2 L544.2 434.8 L544.7 435.0 L545.2 435.6 L545.7 436.6 L546.2 437.6 L546.7 438.5 L547.2 439.3 L547.7 440.0 L548.2 440.8 L548.7 441.4 L549.2 442.0 L549.7 442.4 L550.2 442.6 L550.7 442.5 L551.2 442.1 L551.7 441.4 L552.2 440.5 L552.7 439.4 L553.2 438.1 L553.7 436.2 L554.2 433.9 L554.7 431.3 L555.2 428.8 L555.7 426.4 L556.2 424.1 L556.7 422.0 L557.2 420.3 L557.7 419.2 L558.2 418.5 L558.7 417.9 L559.2 417.6 L559.7 417.9 L560.2 418.9 L560.7 420.6 L561.2 422.4 L561.7 424.2 L562.2 426.1 L562.7 427.9 L563.2 429.1 L563.7 429.5 L564.2 429.3 L564.7 428.9 L565.2 428.4 L565.7 428.0 L566.2 427.7 L566.7 427.8 L567.2 428.3 L567.7 429.4 L568.2 430.7 L568.7 431.9 L569.2 433.0 L569.7 433.7 L570.2 434.2 L570.7 434.5 L571.2 434.3 L571.7 432.9 L572.2 430.2 L572.7 427.3 L573.2 424.9 L573.7 422.9 L574.2 421.2 L574.7 420.0 L575.2 419.5 L575.7 419.4 L576.2 419.3 L576.7 419.2 L577.2 419.2 L577.7 419.1 L578.2 419.0 L578.7 418.9 L579.2 418.8 L579.7 418.7 L580.2 418.5 L580.7 418.3 L581.2 417.9 L581.7 417.5 L582.2 417.3 L582.7 417.3 L583.2 417.9 L583.7 419.4 L584.2 421.3 L584.7 423.6 L585.2 426.5 L585.7 429.8 L586.2 433.0 L586.7 435.3 L587.2 436.7 L587.7 437.8 L588.2 438.7 L588.7 439.4 L589.2 439.8 L589.7 440.0 L590.2 439.9 L590.7 439.4 L591.2 438.8 L591.7 438.1 L592.2 437.4 L592.7 436.8 L593.2 436.4 L593.7 436.1 L594.2 435.8 L594.7 435.5 L595.2 435.2 L595.7 434.7 L596.2 433.8 L596.7 432.3 L597.2 430.3 L597.7 428.1 L598.2 425.5 L598.7 422.3 L599.2 419.1 L599.7 416.3 L600.2 414.1 L600.7 412.3 L601.2 410.9 L601.7 409.8 L602.2 409.0 L602.7 408.5 L603.2 408.1 L603.7 407.8 L604.2 407.5 L604.7 407.3 L605.2 407.2 L605.7 407.1 L606.2 407.0 L606.7 407.0 L607.2 407.1 L607.7 407.3 L608.2 407.6 L608.7 407.9 L609.2 408.2 L609.7 408.3 L610.2 408.4 L610.7 408.3 L611.2 408.2 L611.7 408.0 L612.2 407.7 L612.7 407.5 L613.2 407.2 L613.7 406.9 L614.2 406.4 L614.7 406.1 L615.2 405.9 L615.7 406.2 L616.2 407.2 L616.7 408.7 L617.2 410.7 L617.7 413.2 L618.2 416.4 L618.7 419.6 L619.2 422.1 L619.7 424.1 L620.2 425.7 L620.7 426.7 L621.2 427.0 L621.7 426.9 L622.2 426.5 L622.7 426.0 L623.2 425.6 L623.7 425.3 L624.2 425.2 L624.7 425.3 L625.2 425.4 L625.7 425.7 L626.2 426.0 L626.7 426.3 L627.2 426.7 L627.7 427.2 L628.2 427.8 L628.7 428.4 L629.2 429.1 L629.7 429.9 L630.2 430.6 L630.7 431.3 L631.2 432.1 L631.7 432.9 L632.1 433.5" fill="none" stroke="#fa0606" stroke-width="1.40" stroke-linejoin="round" stroke-linecap="round"/>
<path d="M389.7 440.6 L390.2 440.5 L390.7 440.3 L391.2 440.1 L391.7 440.0 L392.2 439.8 L392.7 439.6 L393.2 439.5 L393.7 439.4 L394.2 439.3 L394.7 439.2 L395.2 439.1 L395.7 439.1 L396.2 439.0 L396.7 439.0 L397.2 438.9 L397.7 438.8 L398.2 438.6 L398.7 438.4 L399.2 437.9 L399.7 437.2 L400.2 436.5 L400.7 435.6 L401.2 434.6 L401.7 433.4 L402.2 431.9 L402.7 430.2 L403.2 428.2 L403.7 426.0 L404.2 423.5 L404.7 420.4 L405.2 417.2 L405.7 414.2 L406.2 411.8 L406.7 409.9 L407.2 408.4 L407.7 407.1 L408.2 406.2 L408.7 406.0 L409.2 406.7 L409.7 408.2 L410.2 409.9 L410.7 411.4 L411.2 412.6 L411.7 413.7 L412.2 414.7 L412.7 415.4 L413.2 415.8 L413.7 415.8 L414.2 415.8 L414.7 415.6 L415.2 415.5 L415.7 415.3 L416.2 415.1 L416.7 414.9 L417.2 414.7 L417.7 414.4 L418.2 414.1 L418.7 413.7 L419.2 412.9 L419.7 411.5 L420.2 409.6 L420.7 407.7 L421.2 406.0 L421.7 404.7 L422.2 403.6 L422.7 402.6 L423.2 401.8 L423.7 401.2 L424.2 400.9 L424.7 400.8 L425.2 400.7 L425.7 400.6 L426.2 400.5 L426.7 400.3 L427.2 399.3 L427.7 397.4 L428.2 394.5 L428.7 391.4 L429.2 388.3 L429.7 384.9 L430.2 381.5 L430.7 378.8 L431.2 377.0 L431.7 375.9 L432.2 375.1 L432.7 374.6 L433.2 374.2 L433.7 374.3 L434.2 374.8 L434.7 375.9 L435.2 377.3 L435.7 379.3 L436.2 382.4 L436.7 386.5 L437.2 390.6 L437.7 394.3 L438.2 397.7 L438.7 400.8 L439.2 403.7 L439.7 406.2 L440.2 408.3 L440.7 410.1 L441.2 411.7 L441.7 413.1 L442.2 414.5 L442.7 415.8 L443.2 417.1 L443.7 418.4 L444.2 419.6 L444.7 420.6 L445.2 421.5 L445.7 422.3 L446.2 423.0 L446.7 423.6 L447.2 424.1 L447.7 424.4 L448.2 424.5 L448.7 424.4 L449.2 424.2 L449.7 423.9 L450.2 423.6 L450.7 423.3 L451.2 423.1 L451.7 422.8 L452.2 422.5 L452.7 422.2 L453.2 422.0 L453.7 422.0 L454.2 422.3 L454.7 422.9 L455.2 423.8 L455.7 424.8 L456.2 425.8 L456.7 426.9 L457.2 428.0 L457.7 429.3 L458.2 430.5 L458.7 431.6 L459.2 432.6 L459.7 433.7 L460.2 434.8 L460.7 435.7 L461.2 436.3 L461.7 436.6 L462.2 436.5 L462.7 436.1 L463.2 435.5 L463.7 434.6 L464.2 433.0 L464.7 430.4 L465.2 427.3 L465.7 424.1 L466.2 420.8 L466.7 417.4 L467.2 414.3 L467.7 412.0 L468.2 410.5 L468.7 409.3 L469.2 408.4 L469.7 407.7 L470.2 407.5 L470.7 407.7 L471.2 408.1 L471.7 408.7 L472.2 409.2 L472.7 409.5 L473.2 409.7 L473.7 409.9 L474.2 410.1 L474.7 410.4 L475.2 411.1 L475.7 412.5 L476.2 414.4 L476.7 416.7 L477.2 419.5 L477.7 423.1 L478.2 426.9 L478.7 430.3 L479.2 432.9 L479.7 435.1 L480.2 437.0 L480.7 438.5 L481.2 439.4 L481.7 440.0 L482.2 440.3 L482.7 440.6 L483.2 440.9 L483.7 441.1 L484.2 441.2 L484.7 441.3 L485.2 441.3 L485.7 441.2 L486.2 441.2 L486.7 441.1 L487.2 441.0 L487.7 440.8 L488.2 440.8 L488.7 440.7 L489.2 440.7 L489.7 440.9 L490.2 441.1 L490.7 441.4 L491.2 441.7 L491.7 442.0 L492.2 442.3 L492.7 442.6 L493.2 442.8 L493.7 442.9 L494.2 443.0 L494.7 443.1 L495.2 443.2 L495.7 443.3 L496.2 443.4 L496.7 443.4 L497.2 443.5 L497.7 443.6 L498.2 443.7 L498.7 443.7 L499.2 443.8 L499.7 443.8 L500.2 443.9 L500.7 444.0 L501.2 444.0 L501.7 444.1 L502.2 444.1 L502.7 444.2 L503.2 444.2 L503.7 444.3 L504.2 444.3 L504.7 444.4 L505.2 444.5 L505.7 444.5 L506.2 444.6 L506.7 444.7 L507.2 444.7 L507.7 444.8 L508.2 444.8 L508.7 444.9 L509.2 444.9 L509.7 444.9 L510.2 444.9 L510.7 444.9 L511.2 444.9 L511.7 444.9 L512.2 444.9 L512.7 444.9 L513.2 444.9 L513.7 444.9 L514.2 444.9 L514.7 444.9 L515.2 444.9 L515.7 444.9 L516.2 444.9 L516.7 444.9 L517.2 444.9 L517.7 444.6 L518.2 444.2 L518.7 443.5 L519.2 442.9 L519.7 442.2 L520.2 441.7 L520.7 441.1 L521.2 440.6 L521.7 440.1 L522.2 439.7 L522.7 439.4 L523.2 439.4 L523.7 439.6 L524.2 440.0 L524.7 440.6 L525.2 441.2 L525.7 441.7 L526.2 442.1 L526.7 442.3 L527.2 442.5 L527.7 442.6 L528.2 442.7 L528.7 442.7 L529.2 442.5 L529.7 442.2 L530.2 441.8 L530.7 441.2 L531.2 440.7 L531.7 440.2 L532.2 439.7 L532.7 439.3 L533.2 438.9 L533.7 438.5 L534.2 438.1 L534.7 437.8 L535.2 437.7 L535.7 437.7 L536.2 437.8 L536.7 438.0 L537.2 438.2 L537.7 438.4 L538.2 438.6 L538.7 438.8 L539.2 439.0 L539.7 439.3 L540.2 439.5 L540.7 439.6 L541.2 439.6 L541.7 439.5 L542.2 439.0 L542.7 438.4 L543.2 437.6 L543.7 436.9 L544.2 436.4 L544.7 436.2 L545.2 436.3 L545.7 436.8 L546.2 437.6 L546.7 438.3 L547.2 439.0 L547.7 439.6 L548.2 440.2 L548.7 440.8 L549.2 441.3 L549.7 441.8 L550.2 442.2 L550.7 442.5 L551.2 442.7 L551.7 442.6 L552.2 442.4 L552.7 442.0 L553.2 441.5 L553.7 440.8 L554.2 440.2 L554.7 439.6 L555.2 439.0 L555.7 438.4 L556.2 437.9 L556.7 437.5 L557.2 437.0 L557.7 436.5 L558.2 436.0 L558.7 435.5 L559.2 435.0 L559.7 434.4 L560.2 433.8 L560.7 433.1 L561.2 432.4 L561.7 431.7 L562.2 431.0 L562.7 430.3 L563.2 429.6 L563.7 428.7 L564.2 427.9 L564.7 427.2 L565.2 426.6 L565.7 426.2 L566.2 426.2 L566.7 426.9 L567.2 428.4 L567.7 430.1 L568.2 431.7 L568.7 433.1 L569.2 434.5 L569.7 435.8 L570.2 436.9 L570.7 437.8 L571.2 438.5 L571.7 439.1 L572.2 439.6 L572.7 439.9 L573.2 440.0 L573.7 439.7 L574.2 438.9 L574.7 437.8 L575.2 436.6 L575.7 435.6 L576.2 434.8 L576.7 434.2 L577.2 433.7 L577.7 433.3 L578.2 432.9 L578.7 432.5 L579.2 432.3 L579.7 432.0 L580.2 431.8 L580.7 431.6 L581.2 431.4 L581.7 431.3 L582.2 431.3 L582.7 431.4 L583.2 431.8 L583.7 432.4 L584.2 433.0 L584.7 433.6 L585.2 434.2 L585.7 434.8 L586.2 435.3 L586.7 435.4 L587.2 434.7 L587.7 433.0 L588.2 430.5 L588.7 427.7 L589.2 424.3 L589.7 420.3 L590.2 416.0 L590.7 412.0 L591.2 408.6 L591.7 405.5 L592.2 402.8 L592.7 400.8 L593.2 399.4 L593.7 398.4 L594.2 397.5 L594.7 396.5 L595.2 395.2 L595.7 393.7 L596.2 391.9 L596.7 389.5 L597.2 386.0 L597.7 381.4 L598.2 377.1 L598.7 374.1 L599.2 372.2 L599.7 370.9 L600.2 370.4 L600.7 371.0 L601.2 372.5 L601.7 374.7 L602.2 376.8 L602.7 378.8 L603.2 380.9 L603.7 383.0 L604.2 385.0 L604.7 386.6 L605.2 388.0 L605.7 389.2 L606.2 390.4 L606.7 391.5 L607.2 392.5 L607.7 393.3 L608.2 393.9 L608.7 394.2 L609.2 394.1 L609.7 393.8 L610.2 393.1 L610.7 392.2 L611.2 391.1 L611.7 389.8 L612.2 388.0 L612.7 385.2 L613.2 381.9 L613.7 378.7 L614.2 376.3 L614.7 374.2 L615.2 372.6 L615.7 371.5 L616.2 371.4 L616.7 372.3 L617.2 373.9 L617.7 375.9 L618.2 378.3 L618.7 381.6 L619.2 385.4 L619.7 389.0 L620.2 392.0 L620.7 394.4 L621.2 396.5 L621.7 398.3 L622.2 399.7 L622.7 400.7 L623.2 401.5 L623.7 402.2 L624.2 402.7 L624.7 403.1 L625.2 403.4 L625.7 403.6 L626.2 403.7 L626.7 403.8 L627.2 404.0 L627.7 404.2 L628.2 404.7 L628.7 405.7 L629.2 407.5 L629.7 409.6 L630.2 411.8 L630.7 414.0 L631.2 416.5 L631.7 419.0 L632.1 420.9" fill="none" stroke="#0a800a" stroke-width="1.40" stroke-linejoin="round" stroke-linecap="round"/>
<path d="M389.7 437.5 L390.2 437.1 L390.7 436.6 L391.2 436.0 L391.7 435.6 L392.2 435.2 L392.7 434.9 L393.2 434.6 L393.7 434.5 L394.2 434.4 L394.7 434.3 L395.2 434.2 L395.7 434.1 L396.2 434.0 L396.7 433.8 L397.2 433.5 L397.7 432.6 L398.2 431.0 L398.7 429.0 L399.2 427.0 L399.7 425.2 L400.2 423.4 L400.7 421.5 L401.2 419.8 L401.7 418.6 L402.2 418.2 L402.7 419.1 L403.2 420.9 L403.7 423.3 L404.2 425.3 L404.7 427.1 L405.2 428.8 L405.7 430.4 L406.2 431.7 L406.7 432.7 L407.2 433.1 L407.7 433.2 L408.2 433.0 L408.7 432.8 L409.2 432.5 L409.7 432.1 L410.2 431.6 L410.7 430.9 L411.2 429.7 L411.7 428.1 L412.2 426.3 L412.7 424.3 L413.2 422.2 L413.7 419.7 L414.2 416.9 L414.7 414.3 L415.2 412.0 L415.7 410.2 L416.2 408.5 L416.7 407.1 L417.2 406.0 L417.7 405.6 L418.2 405.8 L418.7 406.6 L419.2 407.8 L419.7 409.0 L420.2 410.1 L420.7 410.9 L421.2 411.7 L421.7 412.5 L422.2 413.2 L422.7 413.9 L423.2 414.4 L423.7 414.8 L424.2 415.0 L424.7 414.9 L425.2 414.6 L425.7 413.9 L426.2 413.1 L426.7 412.1 L427.2 410.8 L427.7 408.9 L428.2 406.4 L428.7 404.0 L429.2 401.8 L429.7 399.8 L430.2 397.8 L430.7 396.2 L431.2 395.3 L431.7 395.5 L432.2 397.0 L432.7 399.4 L433.2 401.9 L433.7 404.2 L434.2 406.2 L434.7 408.2 L435.2 409.9 L435.7 411.0 L436.2 411.6 L436.7 411.9 L437.2 412.1 L437.7 412.3 L438.2 412.4 L438.7 412.4 L439.2 412.4 L439.7 412.4 L440.2 412.4 L440.7 412.4 L441.2 412.4 L441.7 412.5 L442.2 412.5 L442.7 412.7 L443.2 412.9 L443.7 413.1 L444.2 413.3 L444.7 413.5 L445.2 413.7 L445.7 414.0 L446.2 414.2 L446.7 414.4 L447.2 414.3 L447.7 413.8 L448.2 412.6 L448.7 410.9 L449.2 409.0 L449.7 407.2 L450.2 405.2 L450.7 403.2 L451.2 401.2 L451.7 399.4 L452.2 398.1 L452.7 397.0 L453.2 396.0 L453.7 395.3 L454.2 395.0 L454.7 395.4 L455.2 396.3 L455.7 397.7 L456.2 399.5 L456.7 401.4 L457.2 403.9 L457.7 406.8 L458.2 410.1 L458.7 413.3 L459.2 416.5 L459.7 419.8 L460.2 423.0 L460.7 426.1 L461.2 428.8 L461.7 431.3 L462.2 433.6 L462.7 435.7 L463.2 437.4 L463.7 438.5 L464.2 439.1 L464.7 439.5 L465.2 439.9 L465.7 440.2 L466.2 440.4 L466.7 440.6 L467.2 440.7 L467.7 440.6 L468.2 440.5 L468.7 440.2 L469.2 439.8 L469.7 439.3 L470.2 438.6 L470.7 437.6 L471.2 436.1 L471.7 434.3 L472.2 432.2 L472.7 430.2 L473.2 428.2 L473.7 426.2 L474.2 424.2 L474.7 422.1 L475.2 420.1 L475.7 418.2 L476.2 416.3 L476.7 414.5 L477.2 412.7 L477.7 411.0 L478.2 409.4 L478.7 408.0 L479.2 406.6 L479.7 405.3 L480.2 404.0 L480.7 402.9 L481.2 402.0 L481.7 401.5 L482.2 401.6 L482.7 402.2 L483.2 403.4 L483.7 404.8 L484.2 406.3 L484.7 407.9 L485.2 409.7 L485.7 411.7 L486.2 413.9 L486.7 416.2 L487.2 418.7 L487.7 421.3 L488.2 424.1 L488.7 427.0 L489.2 429.6 L489.7 432.1 L490.2 434.4 L490.7 436.6 L491.2 438.5 L491.7 440.0 L492.2 440.8 L492.7 441.4 L493.2 441.9 L493.7 442.2 L494.2 442.5 L494.7 442.6 L495.2 442.6 L495.7 442.4 L496.2 441.9 L496.7 441.2 L497.2 440.5 L497.7 439.9 L498.2 439.5 L498.7 439.4 L499.2 439.7 L499.7 440.4 L500.2 441.3 L500.7 442.2 L501.2 442.7 L501.7 443.2 L502.2 443.5 L502.7 443.8 L503.2 444.0 L503.7 444.2 L504.2 444.3 L504.7 444.4 L505.2 444.5 L505.7 444.6 L506.2 444.7 L506.7 444.7 L507.2 444.8 L507.7 444.8 L508.2 444.9 L508.7 444.9 L509.2 444.9 L509.7 444.9 L510.2 444.9 L510.7 444.9 L511.2 444.9 L511.7 444.9 L512.2 444.9 L512.7 444.9 L513.2 444.9 L513.7 444.9 L514.2 444.9 L514.7 444.9 L515.2 444.9 L515.7 444.9 L516.2 444.9 L516.7 444.9 L517.2 444.9 L517.7 444.7 L518.2 444.4 L518.7 444.0 L519.2 443.5 L519.7 443.0 L520.2 442.7 L520.7 442.4 L521.2 442.1 L521.7 441.8 L522.2 441.5 L522.7 441.4 L523.2 441.3 L523.7 441.4 L524.2 441.6 L524.7 441.9 L525.2 442.2 L525.7 442.5 L526.2 442.7 L526.7 442.9 L527.2 443.0 L527.7 443.1 L528.2 443.2 L528.7 443.3 L529.2 443.3 L529.7 443.2 L530.2 442.9 L530.7 442.5 L531.2 442.1 L531.7 441.7 L532.2 441.3 L532.7 441.1 L533.2 440.8 L533.7 440.5 L534.2 440.3 L534.7 440.2 L535.2 440.1 L535.7 440.2 L536.2 440.4 L536.7 440.7 L537.2 441.0 L537.7 441.3 L538.2 441.6 L538.7 441.9 L539.2 442.3 L539.7 442.6 L540.2 442.9 L540.7 443.2 L541.2 443.4 L541.7 443.6 L542.2 443.7 L542.7 443.6 L543.2 443.4 L543.7 443.1 L544.2 442.7 L544.7 442.1 L545.2 441.6 L545.7 441.0 L546.2 440.4 L546.7 439.6 L547.2 438.8 L547.7 437.9 L548.2 436.9 L548.7 435.9 L549.2 435.0 L549.7 434.2 L550.2 433.4 L550.7 432.7 L551.2 432.0 L551.7 431.1 L552.2 430.0 L552.7 428.6 L553.2 426.5 L553.7 423.9 L554.2 421.1 L554.7 418.3 L555.2 415.5 L555.7 412.5 L556.2 409.6 L556.7 406.8 L557.2 404.5 L557.7 402.6 L558.2 401.0 L558.7 399.4 L559.2 398.0 L559.7 396.7 L560.2 395.6 L560.7 394.9 L561.2 394.5 L561.7 394.7 L562.2 395.7 L562.7 397.6 L563.2 399.9 L563.7 402.3 L564.2 405.1 L564.7 408.2 L565.2 411.5 L565.7 414.8 L566.2 417.8 L566.7 420.7 L567.2 423.5 L567.7 426.1 L568.2 428.3 L568.7 429.9 L569.2 431.1 L569.7 432.3 L570.2 433.3 L570.7 434.3 L571.2 435.0 L571.7 435.6 L572.2 435.9 L572.7 436.0 L573.2 436.0 L573.7 435.9 L574.2 435.8 L574.7 435.6 L575.2 435.4 L575.7 435.2 L576.2 434.9 L576.7 434.5 L577.2 434.1 L577.7 433.7 L578.2 433.4 L578.7 433.3 L579.2 433.4 L579.7 433.7 L580.2 434.2 L580.7 434.6 L581.2 435.0 L581.7 435.2 L582.2 435.4 L582.7 435.5 L583.2 435.6 L583.7 435.7 L584.2 435.7 L584.7 435.8 L585.2 435.9 L585.7 436.1 L586.2 436.3 L586.7 436.6 L587.2 436.9 L587.7 437.3 L588.2 437.5 L588.7 437.6 L589.2 437.4 L589.7 436.9 L590.2 436.2 L590.7 435.4 L591.2 434.6 L591.7 433.7 L592.2 432.7 L592.7 431.9 L593.2 431.4 L593.7 431.5 L594.2 432.0 L594.7 432.8 L595.2 433.6 L595.7 434.2 L596.2 434.5 L596.7 434.2 L597.2 433.5 L597.7 432.4 L598.2 431.2 L598.7 429.9 L599.2 428.7 L599.7 427.5 L600.2 426.2 L600.7 424.9 L601.2 423.7 L601.7 422.4 L602.2 421.1 L602.7 419.8 L603.2 418.8 L603.7 418.3 L604.2 418.6 L604.7 419.7 L605.2 421.3 L605.7 422.9 L606.2 424.3 L606.7 425.6 L607.2 426.9 L607.7 428.0 L608.2 428.9 L608.7 429.4 L609.2 429.5 L609.7 429.5 L610.2 429.3 L610.7 429.1 L611.2 428.9 L611.7 428.7 L612.2 428.5 L612.7 428.3 L613.2 428.0 L613.7 427.8 L614.2 427.5 L614.7 427.3 L615.2 427.1 L615.7 426.9 L616.2 426.7 L616.7 426.5 L617.2 426.3 L617.7 426.1 L618.2 425.9 L618.7 425.7 L619.2 425.5 L619.7 425.2 L620.2 424.8 L620.7 424.5 L621.2 424.2 L621.7 424.0 L622.2 424.0 L622.7 424.1 L623.2 424.4 L623.7 424.6 L624.2 424.8 L624.7 424.9 L625.2 424.8 L625.7 424.5 L626.2 424.2 L626.7 423.8 L627.2 423.5 L627.7 423.3 L628.2 423.3 L628.7 423.9 L629.2 425.0 L629.7 426.4 L630.2 427.8 L630.7 429.2 L631.2 430.6 L631.7 432.1 L632.1 433.3" fill="none" stroke="#0606fa" stroke-width="1.40" stroke-linejoin="round" stroke-linecap="round"/>
<path d="M389.7 428.0 L390.2 426.1 L390.7 423.7 L391.2 421.6 L391.7 419.6 L392.2 417.7 L392.7 415.8 L393.2 414.1 L393.7 413.0 L394.2 412.6 L394.7 412.5 L395.2 412.7 L395.7 412.8 L396.2 413.0 L396.7 412.8 L397.2 411.5 L397.7 408.6 L398.2 404.5 L398.7 399.9 L399.2 394.8 L399.7 389.0 L400.2 383.1 L400.7 378.2 L401.2 374.4 L401.7 371.3 L402.2 369.2 L402.7 368.8 L403.2 370.5 L403.7 373.6 L404.2 376.8 L404.7 379.6 L405.2 382.3 L405.7 384.7 L406.2 386.3 L406.7 387.0 L407.2 386.9 L407.7 386.3 L408.2 385.5 L408.7 384.5 L409.2 383.3 L409.7 381.7 L410.2 379.5 L410.7 376.8 L411.2 373.5 L411.7 369.5 L412.2 364.5 L412.7 359.2 L413.2 354.1 L413.7 349.5 L414.2 345.2 L414.7 341.4 L415.2 338.6 L415.7 336.6 L416.2 335.0 L416.7 333.7 L417.2 332.6 L417.7 331.8 L418.2 331.5 L418.7 331.8 L419.2 332.7 L419.7 334.3 L420.2 336.2 L420.7 338.5 L421.2 341.6 L421.7 344.9 L422.2 347.8 L422.7 350.0 L423.2 351.9 L423.7 353.5 L424.2 354.8 L424.7 355.6 L425.2 355.5 L425.7 354.4 L426.2 352.2 L426.7 349.0 L427.2 344.4 L427.7 337.0 L428.2 327.5 L428.7 316.8 L429.2 305.5 L429.7 295.7 L430.2 288.7 L430.7 283.7 L431.2 280.2 L431.7 278.9 L432.2 280.1 L432.7 283.3 L433.2 287.7 L433.7 293.5 L434.2 301.5 L434.7 310.8 L435.2 320.0 L435.7 328.6 L436.2 336.2 L436.7 342.7 L437.2 348.1 L437.7 351.5 L438.2 352.2 L438.7 350.9 L439.2 348.6 L439.7 345.5 L440.2 341.3 L440.7 336.6 L441.2 332.8 L441.7 330.0 L442.2 327.7 L442.7 326.1 L443.2 325.8 L443.7 327.1 L444.2 330.0 L444.7 334.3 L445.2 340.3 L445.7 346.9 L446.2 352.5 L446.7 357.0 L447.2 360.2 L447.7 361.4 L448.2 360.6 L448.7 358.5 L449.2 355.6 L449.7 352.1 L450.2 347.6 L450.7 342.1 L451.2 336.8 L451.7 332.8 L452.2 329.9 L452.7 327.7 L453.2 326.1 L453.7 325.7 L454.2 326.7 L454.7 329.1 L455.2 332.3 L455.7 336.4 L456.2 341.7 L456.7 347.7 L457.2 354.2 L457.7 361.2 L458.2 368.7 L458.7 376.2 L459.2 383.4 L459.7 390.1 L460.2 396.6 L460.7 402.8 L461.2 408.3 L461.7 412.9 L462.2 417.0 L462.7 420.7 L463.2 423.9 L463.7 426.0 L464.2 426.6 L464.7 425.1 L465.2 422.0 L465.7 418.1 L466.2 413.6 L466.7 408.4 L467.2 403.1 L467.7 398.4 L468.2 394.6 L468.7 391.4 L469.2 388.6 L469.7 385.9 L470.2 383.3 L470.7 380.8 L471.2 378.3 L471.7 375.9 L472.2 373.7 L472.7 371.6 L473.2 369.7 L473.7 367.8 L474.2 366.0 L474.7 364.6 L475.2 363.8 L475.7 363.8 L476.2 364.7 L476.7 366.3 L477.2 368.0 L477.7 369.8 L478.2 371.7 L478.7 373.6 L479.2 375.2 L479.7 376.4 L480.2 377.2 L480.7 377.8 L481.2 378.6 L481.7 379.9 L482.2 381.9 L482.7 384.5 L483.2 387.3 L483.7 390.0 L484.2 392.5 L484.7 395.0 L485.2 397.5 L485.7 400.0 L486.2 402.5 L486.7 404.9 L487.2 407.4 L487.7 409.9 L488.2 412.5 L488.7 415.3 L489.2 418.4 L489.7 421.7 L490.2 424.9 L490.7 427.8 L491.2 430.5 L491.7 433.1 L492.2 435.5 L492.7 437.6 L493.2 439.1 L493.7 440.0 L494.2 440.6 L494.7 441.1 L495.2 441.4 L495.7 441.6 L496.2 441.5 L496.7 440.9 L497.2 439.7 L497.7 438.3 L498.2 437.0 L498.7 436.1 L499.2 436.0 L499.7 436.8 L500.2 438.2 L500.7 439.7 L501.2 440.8 L501.7 441.5 L502.2 442.2 L502.7 442.7 L503.2 443.2 L503.7 443.5 L504.2 443.7 L504.7 443.9 L505.2 444.0 L505.7 444.2 L506.2 444.3 L506.7 444.4 L507.2 444.5 L507.7 444.6 L508.2 444.6 L508.7 444.7 L509.2 444.7 L509.7 444.7 L510.2 444.7 L510.7 444.7 L511.2 444.7 L511.7 444.7 L512.2 444.7 L512.7 444.7 L513.2 444.7 L513.7 444.7 L514.2 444.7 L514.7 444.7 L515.2 444.7 L515.7 444.7 L516.2 444.7 L516.7 444.7 L517.2 444.6 L517.7 443.9 L518.2 442.6 L518.7 441.1 L519.2 439.4 L519.7 437.4 L520.2 435.3 L520.7 433.2 L521.2 431.5 L521.7 430.1 L522.2 428.9 L522.7 428.0 L523.2 427.8 L523.7 428.5 L524.2 429.9 L524.7 431.4 L525.2 432.6 L525.7 433.4 L526.2 434.0 L526.7 434.4 L527.2 434.4 L527.7 433.5 L528.2 431.7 L528.7 429.6 L529.2 427.7 L529.7 426.1 L530.2 424.6 L530.7 423.3 L531.2 422.2 L531.7 421.8 L532.2 422.0 L532.7 423.1 L533.2 424.6 L533.7 426.1 L534.2 427.5 L534.7 428.9 L535.2 430.2 L535.7 431.5 L536.2 432.4 L536.7 433.2 L537.2 434.0 L537.7 434.6 L538.2 435.3 L538.7 435.8 L539.2 436.2 L539.7 436.5 L540.2 436.5 L540.7 436.1 L541.2 435.1 L541.7 433.6 L542.2 432.0 L542.7 430.4 L543.2 428.6 L543.7 426.8 L544.2 425.4 L544.7 424.8 L545.2 424.9 L545.7 425.6 L546.2 426.4 L546.7 427.2 L547.2 427.8 L547.7 428.3 L548.2 428.8 L548.7 429.2 L549.2 429.6 L549.7 429.8 L550.2 429.9 L550.7 429.9 L551.2 429.5 L551.7 428.8 L552.2 427.9 L552.7 426.3 L553.2 423.6 L553.7 419.9 L554.2 415.5 L554.7 410.6 L555.2 404.9 L555.7 398.6 L556.2 392.4 L556.7 386.5 L557.2 380.8 L557.7 375.4 L558.2 371.2 L558.7 368.1 L559.2 365.8 L559.7 364.4 L560.2 364.0 L560.7 365.0 L561.2 366.8 L561.7 368.7 L562.2 370.1 L562.7 371.0 L563.2 371.7 L563.7 372.4 L564.2 373.4 L564.7 374.7 L565.2 376.6 L565.7 378.9 L566.2 382.0 L566.7 386.5 L567.2 392.4 L567.7 398.3 L568.2 403.4 L568.7 407.8 L569.2 411.8 L569.7 415.4 L570.2 418.4 L570.7 420.4 L571.2 421.1 L571.7 420.4 L572.2 418.5 L572.7 416.0 L573.2 413.5 L573.7 410.9 L574.2 408.2 L574.7 405.6 L575.2 403.6 L575.7 402.0 L576.2 400.7 L576.7 399.6 L577.2 398.8 L577.7 398.4 L578.2 398.2 L578.7 398.0 L579.2 398.0 L579.7 397.9 L580.2 397.7 L580.7 397.4 L581.2 397.0 L581.7 396.6 L582.2 396.5 L582.7 396.9 L583.2 398.0 L583.7 399.8 L584.2 402.1 L584.7 405.3 L585.2 409.3 L585.7 413.3 L586.2 417.2 L586.7 421.0 L587.2 424.0 L587.7 425.2 L588.2 423.7 L588.7 419.9 L589.2 414.9 L589.7 409.3 L590.2 403.0 L590.7 396.7 L591.2 391.2 L591.7 386.6 L592.2 382.7 L592.7 379.8 L593.2 378.4 L593.7 378.2 L594.2 378.4 L594.7 378.6 L595.2 378.6 L595.7 377.6 L596.2 374.8 L596.7 370.4 L597.2 365.3 L597.7 359.6 L598.2 353.1 L598.7 346.0 L599.2 339.7 L599.7 334.6 L600.2 330.3 L600.7 326.7 L601.2 323.9 L601.7 321.9 L602.2 320.4 L602.7 319.3 L603.2 318.9 L603.7 319.3 L604.2 320.8 L604.7 322.9 L605.2 325.3 L605.7 328.2 L606.2 331.8 L606.7 335.3 L607.2 338.1 L607.7 339.9 L608.2 341.2 L608.7 342.4 L609.2 343.2 L609.7 343.6 L610.2 343.4 L610.7 342.3 L611.2 340.4 L611.7 338.1 L612.2 335.5 L612.7 332.4 L613.2 328.7 L613.7 324.9 L614.2 321.7 L614.7 319.5 L615.2 318.0 L615.7 317.0 L616.2 317.1 L616.7 318.3 L617.2 320.5 L617.7 323.7 L618.2 328.5 L618.7 334.5 L619.2 340.4 L619.7 345.8 L620.2 350.7 L620.7 354.7 L621.2 357.3 L621.7 359.1 L622.2 360.4 L622.7 361.4 L623.2 362.2 L623.7 362.8 L624.2 363.3 L624.7 363.7 L625.2 364.2 L625.7 364.6 L626.2 365.1 L626.7 365.6 L627.2 366.1 L627.7 366.7 L628.2 367.4 L628.7 368.2 L629.2 369.7 L629.7 372.3 L630.2 376.2 L630.7 381.1 L631.2 387.1 L631.7 394.0 L632.1 399.5" fill="none" stroke="#141414" stroke-width="1.20" stroke-linejoin="round" stroke-linecap="round"/>
<rect x="386.80" y="255.10" width="248.30" height="192.80" fill="none" stroke="#111" stroke-width="1.7"/>
<path d="M381.90 443.75h4.90M384.00 434.51h2.80M384.00 425.27h2.80M384.00 416.03h2.80M384.00 406.79h2.80M381.90 397.55h4.90M384.00 388.31h2.80M384.00 379.07h2.80M384.00 369.83h2.80M384.00 360.59h2.80M381.90 351.35h4.90M384.00 342.11h2.80M384.00 332.87h2.80M384.00 323.63h2.80M384.00 314.39h2.80M381.90 305.15h4.90M384.00 295.91h2.80M384.00 286.67h2.80M384.00 277.43h2.80M384.00 268.19h2.80M381.90 258.95h4.90M397.95 447.90v5.50M408.92 447.90v3.40M419.89 447.90v3.40M430.86 447.90v3.40M441.83 447.90v3.40M452.80 447.90v5.50M463.77 447.90v3.40M474.74 447.90v3.40M485.71 447.90v3.40M496.68 447.90v3.40M507.65 447.90v5.50M518.62 447.90v3.40M529.59 447.90v3.40M540.56 447.90v3.40M551.53 447.90v3.40M562.50 447.90v5.50M573.47 447.90v3.40M584.44 447.90v3.40M595.41 447.90v3.40M606.38 447.90v3.40M617.35 447.90v5.50M628.32 447.90v3.40" stroke="#222" stroke-width="0.95" fill="none"/>
<text x="379.60" y="446.85" text-anchor="end" class="t" font-size="9.20">0</text>
<text x="379.60" y="400.65" text-anchor="end" class="t" font-size="9.20">5</text>
<text x="379.60" y="354.45" text-anchor="end" class="t" font-size="9.20">10</text>
<text x="379.60" y="308.25" text-anchor="end" class="t" font-size="9.20">15</text>
<text x="379.60" y="262.05" text-anchor="end" class="t" font-size="9.20">20</text>
<text x="396.05" y="461.50" text-anchor="middle" class="t" font-size="9.20">-15</text>
<text x="450.90" y="461.50" text-anchor="middle" class="t" font-size="9.20">-10</text>
<text x="505.75" y="461.50" text-anchor="middle" class="t" font-size="9.20">-5</text>
<text x="562.50" y="461.50" text-anchor="middle" class="t" font-size="9.20">0</text>
<text x="617.35" y="461.50" text-anchor="middle" class="t" font-size="9.20">5</text>
<text x="480.30" y="471.30" class="a"><tspan textLength="33.00" lengthAdjust="spacingAndGlyphs">Energy</tspan><tspan dx="-0.11" textLength="21.73" lengthAdjust="spacingAndGlyphs">(ev)</tspan></text>
<text transform="translate(369.20 349.40) rotate(-90)" text-anchor="middle" class="a" textLength="83.8" lengthAdjust="spacingAndGlyphs">Relative Intensity</text>
<text transform="translate(514.90 290.00) scale(1.05 1.10)" text-anchor="middle" class="h">TPD3</text>
<path d="M637.00 262.00H640.80" stroke="#fa0606" stroke-width="1.3"/>
<text x="644.30" y="265.40" class="l" font-size="8.84">Accepter-2</text>
<path d="M637.00 276.80H640.80" stroke="#0a800a" stroke-width="1.3"/>
<text x="644.30" y="279.50" class="l" font-size="8.84">Accepter-1</text>
<path d="M637.00 292.20H640.80" stroke="#0606fa" stroke-width="1.3"/>
<text x="644.30" y="294.90" class="l" font-size="8.84">Donor</text>
<path d="M637.00 307.20H640.80" stroke="#141414" stroke-width="1.3"/>
<text x="644.30" y="308.90" class="l" font-size="8.84">Total</text></g>
<g id="p5"><path d="M31.1 696.9 L31.6 695.8 L32.1 694.3 L32.6 693.0 L33.1 691.7 L33.6 690.6 L34.1 689.4 L34.6 688.4 L35.1 687.5 L35.6 686.8 L36.1 686.3 L36.6 685.9 L37.1 685.6 L37.6 685.4 L38.1 685.3 L38.6 685.6 L39.1 686.3 L39.6 687.1 L40.1 687.5 L40.6 687.4 L41.1 686.9 L41.6 686.1 L42.1 685.2 L42.6 684.4 L43.1 683.8 L43.6 683.2 L44.1 682.8 L44.6 682.4 L45.1 682.0 L45.6 681.8 L46.1 681.7 L46.6 681.9 L47.1 682.7 L47.6 683.7 L48.1 684.9 L48.6 685.9 L49.1 686.4 L49.6 686.4 L50.1 685.8 L50.6 685.0 L51.1 683.9 L51.6 682.6 L52.1 680.8 L52.6 678.7 L53.1 676.5 L53.6 674.6 L54.1 673.0 L54.6 671.5 L55.1 670.1 L55.6 668.9 L56.1 668.0 L56.6 667.6 L57.1 667.8 L57.6 668.4 L58.1 669.3 L58.6 670.3 L59.1 671.1 L59.6 671.7 L60.1 672.1 L60.6 672.4 L61.1 672.7 L61.6 673.0 L62.1 673.3 L62.6 673.8 L63.1 674.4 L63.6 675.1 L64.1 676.0 L64.6 676.8 L65.1 677.5 L65.6 678.1 L66.1 678.4 L66.6 678.3 L67.1 677.5 L67.6 676.1 L68.1 674.3 L68.6 672.4 L69.1 670.6 L69.6 669.1 L70.1 667.6 L70.6 666.0 L71.1 664.5 L71.6 663.2 L72.1 662.1 L72.6 661.4 L73.1 661.2 L73.6 661.9 L74.1 663.5 L74.6 665.6 L75.1 667.8 L75.6 669.8 L76.1 671.9 L76.6 673.9 L77.1 676.0 L77.6 677.8 L78.1 679.5 L78.6 680.9 L79.1 682.4 L79.6 683.8 L80.1 685.0 L80.6 686.1 L81.1 686.9 L81.6 687.4 L82.1 687.3 L82.6 686.4 L83.1 684.5 L83.6 681.8 L84.1 677.3 L84.6 669.3 L85.1 658.5 L85.6 647.2 L86.1 636.0 L86.6 625.4 L87.1 617.0 L87.6 611.2 L88.1 606.8 L88.6 603.6 L89.1 602.1 L89.6 602.8 L90.1 605.6 L90.6 609.4 L91.1 613.6 L91.6 618.1 L92.1 622.6 L92.6 626.5 L93.1 629.4 L93.6 631.8 L94.1 633.6 L94.6 634.4 L95.1 633.9 L95.6 632.2 L96.1 629.8 L96.6 627.4 L97.1 625.4 L97.6 624.6 L98.1 625.8 L98.6 629.0 L99.1 633.3 L99.6 637.8 L100.1 642.7 L100.6 647.8 L101.1 653.0 L101.6 657.9 L102.1 662.6 L102.6 667.1 L103.1 671.4 L103.6 675.5 L104.1 679.5 L104.6 683.2 L105.1 686.2 L105.6 688.4 L106.1 690.2 L106.6 691.7 L107.1 693.0 L107.6 693.9 L108.1 694.5 L108.6 694.4 L109.1 693.6 L109.6 692.3 L110.1 690.7 L110.6 688.9 L111.1 686.9 L111.6 684.6 L112.1 682.4 L112.6 680.4 L113.1 678.9 L113.6 677.6 L114.1 676.4 L114.6 675.4 L115.1 674.7 L115.6 674.2 L116.1 673.9 L116.6 673.5 L117.1 673.3 L117.6 673.2 L118.1 673.3 L118.6 673.7 L119.1 674.5 L119.6 675.5 L120.1 676.6 L120.6 677.8 L121.1 679.3 L121.6 681.0 L122.1 682.8 L122.6 684.5 L123.1 686.1 L123.6 687.6 L124.1 689.1 L124.6 690.4 L125.1 691.7 L125.6 692.8 L126.1 693.7 L126.6 694.7 L127.1 695.5 L127.6 696.2 L128.1 696.8 L128.6 697.3 L129.1 697.7 L129.6 698.0 L130.1 698.3 L130.6 698.5 L131.1 698.7 L131.6 698.9 L132.1 699.1 L132.6 699.2 L133.1 699.4 L133.6 699.5 L134.1 699.5 L134.6 699.6 L135.1 699.7 L135.6 699.7 L136.1 699.8 L136.6 699.9 L137.1 699.9 L137.6 700.0 L138.1 700.0 L138.6 700.1 L139.1 700.2 L139.6 700.2 L140.1 700.3 L140.6 700.4 L141.1 700.5 L141.6 700.5 L142.1 700.6 L142.6 700.7 L143.1 700.8 L143.6 700.9 L144.1 700.9 L144.6 701.0 L145.1 701.1 L145.6 701.2 L146.1 701.2 L146.6 701.3 L147.1 701.4 L147.6 701.4 L148.1 701.5 L148.6 701.5 L149.1 701.6 L149.6 701.6 L150.1 701.7 L150.6 701.7 L151.1 701.7 L151.6 701.8 L152.1 701.8 L152.6 701.9 L153.1 701.9 L153.6 701.9 L154.1 702.0 L154.6 702.0 L155.1 702.0 L155.6 702.1 L156.1 702.1 L156.6 702.1 L157.1 702.1 L157.6 702.2 L158.1 702.2 L158.6 702.2 L159.1 702.2 L159.6 702.2 L160.1 702.2 L160.6 702.2 L161.1 702.1 L161.6 701.9 L162.1 701.3 L162.6 700.6 L163.1 699.7 L163.6 698.7 L164.1 697.7 L164.6 696.5 L165.1 695.2 L165.6 693.8 L166.1 692.3 L166.6 690.9 L167.1 689.7 L167.6 688.7 L168.1 687.7 L168.6 686.8 L169.1 685.9 L169.6 685.2 L170.1 684.7 L170.6 684.2 L171.1 683.8 L171.6 683.5 L172.1 683.3 L172.6 683.3 L173.1 683.8 L173.6 684.8 L174.1 686.2 L174.6 687.8 L175.1 689.7 L175.6 691.9 L176.1 694.0 L176.6 695.6 L177.1 696.7 L177.6 697.6 L178.1 698.3 L178.6 698.9 L179.1 699.2 L179.6 699.4 L180.1 699.5 L180.6 699.6 L181.1 699.7 L181.6 699.7 L182.1 699.7 L182.6 699.6 L183.1 699.3 L183.6 698.9 L184.1 698.3 L184.6 697.6 L185.1 697.0 L185.6 696.2 L186.1 695.3 L186.6 694.2 L187.1 693.2 L187.6 692.2 L188.1 691.4 L188.6 690.5 L189.1 689.8 L189.6 689.1 L190.1 688.8 L190.6 688.8 L191.1 689.0 L191.6 689.3 L192.1 689.5 L192.6 689.3 L193.1 688.5 L193.6 687.4 L194.1 686.2 L194.6 685.3 L195.1 684.5 L195.6 683.8 L196.1 683.4 L196.6 683.6 L197.1 684.7 L197.6 686.5 L198.1 688.5 L198.6 690.4 L199.1 692.2 L199.6 694.0 L200.1 695.2 L200.6 695.5 L201.1 694.9 L201.6 693.9 L202.1 692.6 L202.6 691.3 L203.1 690.0 L203.6 688.7 L204.1 687.3 L204.6 685.9 L205.1 684.5 L205.6 683.2 L206.1 681.9 L206.6 680.6 L207.1 679.5 L207.6 678.9 L208.1 678.9 L208.6 679.8 L209.1 681.3 L209.6 683.0 L210.1 684.6 L210.6 686.0 L211.1 687.4 L211.6 688.7 L212.1 689.6 L212.6 689.9 L213.1 689.7 L213.6 689.1 L214.1 688.4 L214.6 687.5 L215.1 686.7 L215.6 686.0 L216.1 685.2 L216.6 684.4 L217.1 683.5 L217.6 682.5 L218.1 681.5 L218.6 680.3 L219.1 679.0 L219.6 677.4 L220.1 675.2 L220.6 672.6 L221.1 669.9 L221.6 667.6 L222.1 665.5 L222.6 663.7 L223.1 662.8 L223.6 663.0 L224.1 664.1 L224.6 665.5 L225.1 667.0 L225.6 668.3 L226.1 669.5 L226.6 670.7 L227.1 671.7 L227.6 672.4 L228.1 672.9 L228.6 673.2 L229.1 673.5 L229.6 673.8 L230.1 673.9 L230.6 673.8 L231.1 673.7 L231.6 673.5 L232.1 673.3 L232.6 673.2 L233.1 673.2 L233.6 673.4 L234.1 673.7 L234.6 674.1 L235.1 674.5 L235.6 675.1 L236.1 675.9 L236.6 676.9 L237.1 677.7 L237.6 678.4 L238.1 678.8 L238.6 679.1 L239.1 679.4 L239.6 679.5 L240.1 679.1 L240.6 678.1 L241.1 676.7 L241.6 675.3 L242.1 674.3 L242.6 674.3 L243.1 675.2 L243.6 676.8 L244.1 678.5 L244.6 680.1 L245.1 681.7 L245.6 683.2 L246.1 684.6 L246.6 685.3 L247.1 685.4 L247.6 685.0 L248.1 684.1 L248.6 683.1 L249.1 681.9 L249.6 680.5 L250.1 678.6 L250.6 676.5 L251.1 674.4 L251.6 672.5 L252.1 670.9 L252.6 669.5 L253.1 668.2 L253.6 667.1 L254.1 666.4 L254.6 666.3 L255.1 667.0 L255.6 668.5 L256.1 670.3 L256.6 672.3 L257.1 674.2 L257.6 676.2 L258.1 678.4 L258.6 680.6 L259.1 682.4 L259.6 683.5 L260.1 683.8 L260.6 683.3 L261.1 682.2 L261.6 680.8 L262.1 679.2 L262.6 677.3 L263.1 675.1 L263.6 672.4 L264.1 669.5 L264.6 667.1 L265.1 665.3 L265.6 664.1 L266.1 663.1 L266.6 662.3 L267.1 661.6 L267.6 660.9 L268.1 660.3 L268.6 659.6 L269.1 659.0 L269.6 658.4 L270.1 657.9 L270.6 657.5 L271.1 657.6 L271.6 658.6 L272.1 660.5 L272.6 663.0 L273.1 665.7 L273.6 668.7 L274.1 672.0 L274.6 675.0 L275.1 677.4 L275.6 679.1 L276.1 680.5 L276.6 681.4 L277.1 681.8 L277.6 681.6 L278.1 681.1 L278.6 680.4 L279.1 679.9 L279.6 679.8 L280.1 680.6 L280.6 682.1 L281.1 684.0 L281.6 685.7 L282.1 687.3 L282.6 688.9 L283.1 690.1 L283.1 690.6" fill="none" stroke="#fa0606" stroke-width="1.40" stroke-linejoin="round" stroke-linecap="round"/>
<path d="M31.1 697.6 L31.6 697.4 L32.1 697.1 L32.6 696.8 L33.1 696.6 L33.6 696.4 L34.1 696.3 L34.6 696.2 L35.1 696.1 L35.6 696.1 L36.1 696.2 L36.6 696.3 L37.1 696.4 L37.6 696.5 L38.1 696.6 L38.6 696.7 L39.1 696.7 L39.6 696.6 L40.1 696.4 L40.6 696.1 L41.1 695.6 L41.6 695.1 L42.1 694.4 L42.6 693.5 L43.1 692.1 L43.6 690.0 L44.1 687.4 L44.6 684.8 L45.1 682.1 L45.6 679.4 L46.1 676.6 L46.6 674.1 L47.1 672.1 L47.6 670.5 L48.1 669.2 L48.6 668.0 L49.1 667.0 L49.6 666.3 L50.1 666.0 L50.6 666.2 L51.1 667.0 L51.6 668.3 L52.1 669.7 L52.6 671.2 L53.1 672.8 L53.6 674.4 L54.1 676.2 L54.6 677.8 L55.1 679.0 L55.6 680.0 L56.1 680.8 L56.6 681.5 L57.1 682.1 L57.6 682.6 L58.1 683.0 L58.6 683.1 L59.1 683.1 L59.6 682.8 L60.1 682.3 L60.6 681.7 L61.1 681.0 L61.6 680.2 L62.1 679.2 L62.6 677.8 L63.1 676.0 L63.6 674.1 L64.1 672.4 L64.6 671.0 L65.1 669.8 L65.6 668.6 L66.1 667.7 L66.6 667.3 L67.1 667.6 L67.6 668.7 L68.1 670.3 L68.6 671.8 L69.1 672.9 L69.6 673.7 L70.1 674.4 L70.6 674.9 L71.1 675.0 L71.6 674.5 L72.1 673.6 L72.6 672.2 L73.1 670.7 L73.6 669.0 L74.1 667.1 L74.6 664.9 L75.1 662.7 L75.6 660.6 L76.1 658.7 L76.6 656.9 L77.1 655.2 L77.6 653.8 L78.1 652.8 L78.6 652.7 L79.1 653.8 L79.6 656.0 L80.1 658.8 L80.6 661.8 L81.1 665.2 L81.6 668.9 L82.1 672.5 L82.6 675.6 L83.1 678.2 L83.6 680.4 L84.1 682.3 L84.6 683.5 L85.1 684.4 L85.6 685.1 L86.1 685.6 L86.6 686.1 L87.1 686.4 L87.6 686.6 L88.1 686.7 L88.6 686.8 L89.1 686.9 L89.6 687.0 L90.1 687.0 L90.6 687.1 L91.1 687.1 L91.6 687.2 L92.1 687.3 L92.6 687.5 L93.1 687.6 L93.6 687.8 L94.1 687.9 L94.6 688.1 L95.1 688.4 L95.6 688.6 L96.1 688.9 L96.6 689.4 L97.1 689.9 L97.6 690.4 L98.1 691.0 L98.6 691.6 L99.1 692.1 L99.6 692.6 L100.1 693.0 L100.6 693.4 L101.1 693.9 L101.6 694.3 L102.1 694.6 L102.6 694.9 L103.1 695.2 L103.6 695.3 L104.1 695.3 L104.6 695.3 L105.1 695.2 L105.6 695.1 L106.1 695.0 L106.6 694.9 L107.1 694.6 L107.6 693.8 L108.1 692.2 L108.6 689.8 L109.1 687.2 L109.6 684.3 L110.1 680.9 L110.6 677.1 L111.1 673.5 L111.6 670.7 L112.1 668.7 L112.6 667.2 L113.1 665.9 L113.6 665.0 L114.1 664.6 L114.6 664.7 L115.1 665.1 L115.6 665.8 L116.1 666.4 L116.6 666.9 L117.1 666.9 L117.6 666.7 L118.1 666.2 L118.6 665.8 L119.1 665.6 L119.6 665.9 L120.1 666.9 L120.6 668.6 L121.1 670.7 L121.6 673.2 L122.1 676.6 L122.6 680.4 L123.1 684.0 L123.6 687.1 L124.1 689.9 L124.6 692.5 L125.1 694.4 L125.6 695.7 L126.1 696.4 L126.6 697.0 L127.1 697.5 L127.6 697.8 L128.1 698.0 L128.6 698.1 L129.1 698.1 L129.6 697.9 L130.1 697.7 L130.6 697.5 L131.1 697.2 L131.6 696.9 L132.1 696.7 L132.6 696.4 L133.1 696.0 L133.6 695.7 L134.1 695.5 L134.6 695.4 L135.1 695.5 L135.6 695.7 L136.1 696.1 L136.6 696.6 L137.1 697.0 L137.6 697.4 L138.1 697.9 L138.6 698.4 L139.1 698.9 L139.6 699.4 L140.1 699.7 L140.6 700.0 L141.1 700.1 L141.6 700.1 L142.1 700.1 L142.6 700.0 L143.1 699.9 L143.6 699.9 L144.1 699.8 L144.6 699.8 L145.1 699.8 L145.6 699.8 L146.1 700.0 L146.6 700.2 L147.1 700.4 L147.6 700.7 L148.1 701.0 L148.6 701.2 L149.1 701.3 L149.6 701.4 L150.1 701.5 L150.6 701.6 L151.1 701.7 L151.6 701.7 L152.1 701.8 L152.6 701.8 L153.1 701.9 L153.6 701.9 L154.1 702.0 L154.6 702.0 L155.1 702.0 L155.6 702.1 L156.1 702.1 L156.6 702.1 L157.1 702.1 L157.6 702.2 L158.1 702.2 L158.6 702.2 L159.1 702.2 L159.6 702.2 L160.1 702.2 L160.6 702.2 L161.1 702.1 L161.6 702.0 L162.1 701.8 L162.6 701.4 L163.1 701.0 L163.6 700.6 L164.1 700.1 L164.6 699.6 L165.1 699.0 L165.6 698.4 L166.1 697.8 L166.6 697.2 L167.1 696.7 L167.6 696.3 L168.1 695.9 L168.6 695.6 L169.1 695.3 L169.6 695.2 L170.1 695.3 L170.6 695.6 L171.1 696.1 L171.6 696.7 L172.1 697.3 L172.6 697.7 L173.1 698.2 L173.6 698.6 L174.1 699.0 L174.6 699.3 L175.1 699.6 L175.6 699.7 L176.1 699.7 L176.6 699.5 L177.1 699.3 L177.6 698.9 L178.1 698.6 L178.6 698.2 L179.1 697.8 L179.6 697.5 L180.1 697.1 L180.6 696.7 L181.1 696.3 L181.6 696.0 L182.1 695.6 L182.6 695.2 L183.1 694.8 L183.6 694.5 L184.1 694.1 L184.6 693.8 L185.1 693.5 L185.6 693.2 L186.1 692.8 L186.6 692.4 L187.1 691.9 L187.6 691.3 L188.1 690.8 L188.6 690.4 L189.1 690.2 L189.6 690.3 L190.1 691.0 L190.6 692.0 L191.1 693.2 L191.6 694.3 L192.1 695.5 L192.6 696.8 L193.1 698.0 L193.6 699.0 L194.1 699.5 L194.6 699.7 L195.1 699.6 L195.6 699.5 L196.1 699.3 L196.6 699.1 L197.1 698.9 L197.6 698.7 L198.1 698.4 L198.6 698.2 L199.1 698.0 L199.6 697.8 L200.1 697.5 L200.6 697.2 L201.1 696.9 L201.6 696.6 L202.1 696.1 L202.6 695.6 L203.1 695.0 L203.6 694.4 L204.1 693.9 L204.6 693.3 L205.1 692.9 L205.6 692.6 L206.1 692.4 L206.6 692.2 L207.1 692.1 L207.6 692.0 L208.1 691.8 L208.6 691.6 L209.1 691.5 L209.6 691.3 L210.1 691.1 L210.6 690.8 L211.1 690.3 L211.6 689.2 L212.1 687.7 L212.6 686.1 L213.1 684.8 L213.6 683.7 L214.1 682.8 L214.6 682.0 L215.1 681.5 L215.6 681.4 L216.1 681.8 L216.6 682.9 L217.1 684.3 L217.6 685.8 L218.1 687.5 L218.6 689.4 L219.1 691.2 L219.6 692.6 L220.1 693.7 L220.6 694.6 L221.1 695.4 L221.6 696.1 L222.1 696.5 L222.6 696.6 L223.1 696.5 L223.6 696.2 L224.1 695.7 L224.6 695.1 L225.1 694.4 L225.6 693.7 L226.1 693.0 L226.6 692.3 L227.1 691.4 L227.6 690.6 L228.1 689.9 L228.6 689.2 L229.1 688.6 L229.6 688.1 L230.1 687.8 L230.6 687.9 L231.1 688.5 L231.6 689.4 L232.1 690.5 L232.6 691.5 L233.1 692.3 L233.6 693.2 L234.1 694.0 L234.6 694.8 L235.1 695.3 L235.6 695.6 L236.1 695.6 L236.6 695.4 L237.1 695.1 L237.6 694.7 L238.1 694.3 L238.6 693.8 L239.1 693.3 L239.6 692.7 L240.1 692.0 L240.6 691.3 L241.1 690.6 L241.6 689.9 L242.1 689.3 L242.6 688.9 L243.1 688.4 L243.6 688.0 L244.1 687.5 L244.6 686.9 L245.1 686.1 L245.6 685.0 L246.1 683.6 L246.6 682.1 L247.1 680.6 L247.6 679.0 L248.1 677.1 L248.6 675.0 L249.1 672.8 L249.6 670.9 L250.1 669.3 L250.6 668.4 L251.1 668.4 L251.6 669.3 L252.1 670.8 L252.6 672.5 L253.1 674.2 L253.6 676.1 L254.1 678.0 L254.6 679.6 L255.1 681.0 L255.6 682.1 L256.1 683.1 L256.6 683.7 L257.1 683.9 L257.6 683.6 L258.1 683.2 L258.6 682.6 L259.1 681.9 L259.6 681.2 L260.1 680.3 L260.6 679.3 L261.1 678.4 L261.6 677.8 L262.1 677.6 L262.6 677.5 L263.1 677.5 L263.6 677.5 L264.1 677.5 L264.6 677.5 L265.1 677.4 L265.6 677.0 L266.1 676.1 L266.6 675.0 L267.1 673.8 L267.6 672.8 L268.1 672.0 L268.6 671.7 L269.1 672.3 L269.6 673.6 L270.1 675.5 L270.6 677.4 L271.1 679.3 L271.6 681.4 L272.1 683.5 L272.6 685.3 L273.1 686.6 L273.6 687.5 L274.1 688.2 L274.6 688.7 L275.1 689.1 L275.6 689.1 L276.1 688.8 L276.6 688.0 L277.1 687.0 L277.6 685.9 L278.1 684.8 L278.6 683.9 L279.1 683.3 L279.6 683.2 L280.1 683.6 L280.6 684.4 L281.1 685.5 L281.6 686.8 L282.1 688.1 L282.6 689.7 L283.1 691.1 L283.1 691.6" fill="none" stroke="#0a800a" stroke-width="1.40" stroke-linejoin="round" stroke-linecap="round"/>
<path d="M31.1 686.6 L31.6 686.7 L32.1 686.8 L32.6 687.0 L33.1 687.2 L33.6 687.4 L34.1 687.7 L34.6 688.0 L35.1 688.6 L35.6 689.2 L36.1 689.9 L36.6 690.5 L37.1 690.9 L37.6 691.2 L38.1 691.1 L38.6 690.6 L39.1 689.9 L39.6 688.9 L40.1 687.8 L40.6 686.5 L41.1 684.8 L41.6 682.7 L42.1 680.3 L42.6 678.0 L43.1 676.0 L43.6 674.2 L44.1 672.7 L44.6 671.4 L45.1 670.8 L45.6 671.3 L46.1 672.8 L46.6 674.9 L47.1 676.9 L47.6 678.8 L48.1 680.6 L48.6 682.4 L49.1 684.0 L49.6 685.2 L50.1 685.8 L50.6 686.0 L51.1 685.9 L51.6 685.7 L52.1 685.5 L52.6 685.1 L53.1 684.7 L53.6 683.9 L54.1 682.5 L54.6 680.4 L55.1 677.9 L55.6 675.2 L56.1 672.4 L56.6 669.0 L57.1 665.4 L57.6 661.8 L58.1 658.7 L58.6 656.4 L59.1 654.4 L59.6 652.5 L60.1 651.0 L60.6 649.8 L61.1 649.1 L61.6 649.0 L62.1 649.2 L62.6 649.7 L63.1 650.4 L63.6 651.1 L64.1 651.9 L64.6 652.7 L65.1 653.6 L65.6 654.7 L66.1 655.8 L66.6 656.9 L67.1 657.8 L67.6 658.6 L68.1 659.3 L68.6 659.9 L69.1 660.5 L69.6 660.8 L70.1 660.7 L70.6 659.6 L71.1 657.4 L71.6 654.4 L72.1 650.8 L72.6 646.1 L73.1 640.4 L73.6 634.5 L74.1 629.1 L74.6 624.3 L75.1 619.8 L75.6 615.9 L76.1 613.3 L76.6 613.0 L77.1 615.9 L77.6 621.0 L78.1 626.7 L78.6 632.1 L79.1 637.4 L79.6 642.3 L80.1 646.3 L80.6 649.8 L81.1 652.9 L81.6 654.8 L82.1 655.6 L82.6 655.6 L83.1 655.4 L83.6 655.1 L84.1 654.9 L84.6 654.5 L85.1 654.2 L85.6 653.9 L86.1 653.8 L86.6 654.0 L87.1 654.5 L87.6 655.3 L88.1 656.1 L88.6 656.9 L89.1 657.7 L89.6 658.6 L90.1 659.4 L90.6 660.1 L91.1 660.7 L91.6 660.9 L92.1 660.6 L92.6 659.8 L93.1 658.6 L93.6 657.2 L94.1 655.8 L94.6 654.3 L95.1 652.7 L95.6 650.9 L96.1 649.1 L96.6 647.4 L97.1 645.8 L97.6 644.5 L98.1 643.1 L98.6 641.8 L99.1 640.7 L99.6 639.8 L100.1 639.4 L100.6 639.6 L101.1 640.5 L101.6 642.2 L102.1 644.3 L102.6 646.7 L103.1 649.6 L103.6 653.3 L104.1 657.6 L104.6 662.0 L105.1 666.3 L105.6 670.7 L106.1 675.1 L106.6 679.3 L107.1 682.9 L107.6 686.2 L108.1 689.3 L108.6 692.0 L109.1 693.8 L109.6 694.8 L110.1 695.4 L110.6 695.8 L111.1 696.2 L111.6 696.4 L112.1 696.6 L112.6 696.7 L113.1 696.7 L113.6 696.5 L114.1 696.3 L114.6 695.9 L115.1 695.5 L115.6 695.0 L116.1 694.2 L116.6 693.0 L117.1 691.2 L117.6 689.3 L118.1 687.2 L118.6 685.1 L119.1 682.8 L119.6 680.4 L120.1 678.1 L120.6 676.4 L121.1 675.4 L121.6 674.8 L122.1 674.4 L122.6 674.1 L123.1 673.7 L123.6 673.2 L124.1 672.6 L124.6 671.8 L125.1 671.0 L125.6 670.1 L126.1 669.0 L126.6 667.6 L127.1 665.8 L127.6 663.9 L128.1 662.1 L128.6 660.6 L129.1 659.7 L129.6 659.6 L130.1 660.2 L130.6 661.3 L131.1 662.7 L131.6 664.2 L132.1 665.7 L132.6 667.4 L133.1 669.2 L133.6 671.2 L134.1 673.2 L134.6 675.4 L135.1 677.8 L135.6 680.3 L136.1 682.9 L136.6 685.5 L137.1 687.8 L137.6 690.1 L138.1 692.4 L138.6 694.4 L139.1 695.9 L139.6 696.7 L140.1 697.2 L140.6 697.5 L141.1 697.8 L141.6 698.0 L142.1 698.1 L142.6 698.1 L143.1 697.8 L143.6 697.3 L144.1 696.7 L144.6 696.1 L145.1 695.6 L145.6 695.4 L146.1 695.6 L146.6 696.2 L147.1 697.0 L147.6 697.9 L148.1 698.6 L148.6 699.2 L149.1 699.8 L149.6 700.3 L150.1 700.7 L150.6 701.1 L151.1 701.3 L151.6 701.4 L152.1 701.5 L152.6 701.6 L153.1 701.7 L153.6 701.7 L154.1 701.8 L154.6 701.8 L155.1 701.8 L155.6 701.9 L156.1 701.9 L156.6 701.9 L157.1 701.9 L157.6 702.0 L158.1 702.0 L158.6 702.0 L159.1 701.9 L159.6 701.9 L160.1 701.9 L160.6 701.9 L161.1 701.8 L161.6 701.8 L162.1 701.7 L162.6 701.7 L163.1 701.5 L163.6 701.3 L164.1 701.1 L164.6 700.9 L165.1 700.6 L165.6 700.4 L166.1 700.2 L166.6 699.9 L167.1 699.7 L167.6 699.4 L168.1 699.2 L168.6 699.0 L169.1 698.8 L169.6 698.8 L170.1 698.8 L170.6 698.9 L171.1 699.2 L171.6 699.4 L172.1 699.7 L172.6 699.9 L173.1 700.1 L173.6 700.3 L174.1 700.4 L174.6 700.5 L175.1 700.6 L175.6 700.7 L176.1 700.7 L176.6 700.7 L177.1 700.5 L177.6 700.1 L178.1 699.6 L178.6 699.0 L179.1 698.4 L179.6 697.9 L180.1 697.6 L180.6 697.3 L181.1 697.1 L181.6 696.9 L182.1 696.8 L182.6 696.7 L183.1 696.8 L183.6 697.0 L184.1 697.3 L184.6 697.6 L185.1 698.0 L185.6 698.3 L186.1 698.6 L186.6 698.9 L187.1 699.1 L187.6 699.4 L188.1 699.7 L188.6 699.9 L189.1 700.2 L189.6 700.4 L190.1 700.5 L190.6 700.7 L191.1 700.7 L191.6 700.7 L192.1 700.5 L192.6 700.3 L193.1 699.9 L193.6 699.4 L194.1 698.9 L194.6 698.5 L195.1 698.0 L195.6 697.5 L196.1 697.1 L196.6 696.6 L197.1 696.1 L197.6 695.6 L198.1 695.1 L198.6 694.6 L199.1 694.0 L199.6 693.5 L200.1 693.0 L200.6 692.5 L201.1 691.9 L201.6 691.4 L202.1 690.8 L202.6 690.1 L203.1 689.2 L203.6 688.2 L204.1 686.9 L204.6 685.2 L205.1 683.1 L205.6 680.8 L206.1 678.0 L206.6 674.6 L207.1 670.7 L207.6 666.9 L208.1 663.4 L208.6 660.3 L209.1 657.5 L209.6 655.1 L210.1 653.5 L210.6 652.4 L211.1 651.6 L211.6 650.9 L212.1 650.5 L212.6 650.5 L213.1 651.0 L213.6 652.2 L214.1 653.8 L214.6 655.7 L215.1 658.1 L215.6 661.1 L216.1 664.4 L216.6 667.7 L217.1 671.0 L217.6 674.3 L218.1 677.6 L218.6 680.6 L219.1 683.1 L219.6 685.2 L220.1 686.9 L220.6 688.5 L221.1 689.7 L221.6 690.6 L222.1 691.2 L222.6 691.8 L223.1 692.2 L223.6 692.5 L224.1 692.6 L224.6 692.5 L225.1 692.2 L225.6 691.8 L226.1 691.2 L226.6 690.7 L227.1 690.1 L227.6 689.5 L228.1 689.0 L228.6 688.8 L229.1 688.8 L229.6 689.2 L230.1 689.8 L230.6 690.5 L231.1 691.1 L231.6 691.6 L232.1 691.9 L232.6 692.3 L233.1 692.6 L233.6 692.9 L234.1 693.2 L234.6 693.4 L235.1 693.6 L235.6 693.7 L236.1 693.7 L236.6 693.6 L237.1 693.5 L237.6 693.3 L238.1 693.0 L238.6 692.7 L239.1 692.1 L239.6 690.8 L240.1 688.9 L240.6 686.6 L241.1 683.9 L241.6 680.5 L242.1 676.3 L242.6 671.8 L243.1 667.7 L243.6 664.4 L244.1 661.7 L244.6 659.4 L245.1 658.0 L245.6 657.6 L246.1 658.0 L246.6 658.8 L247.1 659.6 L247.6 660.2 L248.1 660.2 L248.6 659.6 L249.1 658.6 L249.6 657.3 L250.1 655.8 L250.6 653.9 L251.1 651.5 L251.6 648.6 L252.1 645.6 L252.6 642.5 L253.1 639.3 L253.6 636.0 L254.1 633.1 L254.6 630.9 L255.1 629.1 L255.6 627.8 L256.1 627.0 L256.6 627.3 L257.1 628.8 L257.6 631.1 L258.1 633.9 L258.6 636.9 L259.1 640.5 L259.6 644.3 L260.1 647.7 L260.6 650.3 L261.1 652.5 L261.6 654.4 L262.1 655.7 L262.6 656.1 L263.1 655.5 L263.6 654.1 L264.1 652.3 L264.6 650.6 L265.1 649.1 L265.6 647.9 L266.1 646.8 L266.6 645.8 L267.1 644.8 L267.6 643.9 L268.1 643.1 L268.6 642.4 L269.1 641.7 L269.6 641.1 L270.1 640.5 L270.6 640.0 L271.1 639.6 L271.6 639.2 L272.1 638.8 L272.6 638.5 L273.1 638.3 L273.6 638.3 L274.1 638.7 L274.6 639.4 L275.1 640.4 L275.6 641.6 L276.1 643.3 L276.6 645.5 L277.1 648.1 L277.6 650.7 L278.1 653.2 L278.6 655.6 L279.1 658.0 L279.6 660.3 L280.1 662.6 L280.6 664.8 L281.1 666.9 L281.6 668.9 L282.1 670.8 L282.6 672.6 L283.1 673.9 L283.1 674.5" fill="none" stroke="#0606fa" stroke-width="1.40" stroke-linejoin="round" stroke-linecap="round"/>
<path d="M31.1 679.2 L31.6 678.1 L32.1 676.7 L32.6 675.5 L33.1 674.6 L33.6 673.9 L34.1 673.3 L34.6 672.9 L35.1 672.4 L35.6 672.0 L36.1 671.6 L36.6 671.1 L37.1 670.8 L37.6 670.6 L38.1 670.7 L38.6 671.0 L39.1 671.5 L39.6 671.7 L40.1 671.2 L40.6 669.8 L41.1 667.4 L41.6 664.5 L42.1 660.7 L42.6 655.7 L43.1 650.2 L43.6 645.3 L44.1 641.5 L44.6 638.3 L45.1 635.6 L45.6 633.5 L46.1 632.5 L46.6 632.5 L47.1 633.1 L47.6 634.0 L48.1 634.9 L48.6 635.6 L49.1 636.2 L49.6 636.6 L50.1 636.7 L50.6 636.4 L51.1 635.9 L51.6 635.2 L52.1 634.4 L52.6 633.5 L53.1 632.4 L53.6 631.0 L54.1 629.4 L54.6 627.4 L55.1 624.9 L55.6 621.8 L56.1 618.3 L56.6 615.0 L57.1 612.3 L57.6 609.9 L58.1 607.8 L58.6 606.0 L59.1 604.6 L59.6 603.5 L60.1 602.6 L60.6 601.9 L61.1 601.3 L61.6 600.7 L62.1 600.2 L62.6 599.6 L63.1 598.9 L63.6 598.3 L64.1 597.8 L64.6 597.4 L65.1 597.4 L65.6 597.9 L66.1 598.8 L66.6 599.8 L67.1 600.5 L67.6 600.7 L68.1 600.2 L68.6 599.2 L69.1 597.9 L69.6 596.3 L70.1 594.4 L70.6 591.9 L71.1 588.6 L71.6 584.7 L72.1 580.1 L72.6 574.6 L73.1 568.2 L73.6 562.0 L74.1 556.5 L74.6 551.8 L75.1 547.4 L75.6 543.6 L76.1 540.7 L76.6 539.6 L77.1 540.7 L77.6 544.3 L78.1 549.5 L78.6 555.8 L79.1 563.6 L79.6 572.7 L80.1 581.9 L80.6 590.7 L81.1 598.7 L81.6 604.8 L82.1 609.1 L82.6 612.0 L83.1 613.2 L83.6 611.8 L84.1 607.9 L84.6 602.1 L85.1 594.2 L85.6 584.5 L86.1 574.6 L86.6 565.3 L87.1 557.1 L87.6 551.1 L88.1 547.3 L88.6 545.1 L89.1 544.7 L89.6 546.5 L90.1 550.0 L90.6 554.2 L91.1 558.6 L91.6 563.2 L92.1 567.3 L92.6 570.6 L93.1 573.2 L93.6 574.8 L94.1 574.6 L94.6 572.2 L95.1 568.6 L95.6 565.2 L96.1 562.4 L96.6 559.8 L97.1 557.6 L97.6 556.0 L98.1 555.5 L98.6 556.8 L99.1 559.8 L99.6 563.7 L100.1 568.3 L100.6 573.9 L101.1 580.2 L101.6 587.0 L102.1 594.0 L102.6 601.4 L103.1 609.1 L103.6 616.7 L104.1 623.9 L104.6 631.0 L105.1 638.0 L105.6 645.0 L106.1 652.2 L106.6 659.6 L107.1 666.1 L107.6 671.0 L108.1 674.6 L108.6 676.6 L109.1 676.3 L109.6 673.8 L110.1 670.0 L110.6 665.7 L111.1 660.7 L111.6 655.3 L112.1 650.3 L112.6 646.2 L113.1 642.8 L113.6 639.9 L114.1 637.6 L114.6 635.9 L115.1 634.7 L115.6 633.8 L116.1 632.9 L116.6 631.7 L117.1 630.2 L117.6 628.4 L118.1 626.5 L118.6 624.5 L119.1 622.3 L119.6 620.0 L120.1 618.3 L120.6 617.9 L121.1 619.3 L121.6 622.1 L122.1 625.6 L122.6 629.9 L123.1 635.1 L123.6 640.2 L124.1 643.9 L124.6 646.5 L125.1 648.5 L125.6 649.7 L126.1 650.2 L126.6 650.1 L127.1 649.9 L127.6 649.6 L128.1 649.4 L128.6 649.4 L129.1 650.0 L129.6 651.1 L130.1 652.6 L130.6 654.1 L131.1 655.6 L131.6 656.8 L132.1 658.1 L132.6 659.3 L133.1 660.6 L133.6 662.1 L134.1 663.7 L134.6 665.6 L135.1 667.7 L135.6 670.0 L136.1 672.6 L136.6 675.4 L137.1 678.6 L137.6 682.4 L138.1 686.0 L138.6 689.1 L139.1 691.6 L139.6 693.7 L140.1 695.4 L140.6 696.5 L141.1 697.0 L141.6 697.4 L142.1 697.6 L142.6 697.6 L143.1 697.3 L143.6 696.6 L144.1 695.5 L144.6 694.3 L145.1 693.4 L145.6 692.9 L146.1 693.0 L146.6 693.6 L147.1 694.6 L147.6 695.7 L148.1 696.6 L148.6 697.4 L149.1 698.2 L149.6 699.0 L150.1 699.7 L150.6 700.2 L151.1 700.7 L151.6 701.0 L152.1 701.2 L152.6 701.4 L153.1 701.6 L153.6 701.7 L154.1 701.8 L154.6 701.8 L155.1 701.8 L155.6 701.8 L156.1 701.8 L156.6 701.8 L157.1 701.8 L157.6 701.8 L158.1 701.8 L158.6 701.8 L159.1 701.7 L159.6 701.7 L160.1 701.7 L160.6 701.6 L161.1 701.5 L161.6 701.4 L162.1 701.3 L162.6 700.7 L163.1 699.8 L163.6 698.4 L164.1 696.9 L164.6 695.3 L165.1 693.2 L165.6 690.9 L166.1 688.5 L166.6 686.3 L167.1 684.8 L167.6 683.7 L168.1 682.9 L168.6 682.1 L169.1 681.5 L169.6 681.0 L170.1 680.6 L170.6 680.3 L171.1 680.0 L171.6 679.8 L172.1 679.6 L172.6 679.7 L173.1 680.1 L173.6 681.0 L174.1 682.3 L174.6 683.8 L175.1 685.6 L175.6 687.8 L176.1 689.9 L176.6 691.5 L177.1 692.6 L177.6 693.5 L178.1 694.2 L178.6 694.6 L179.1 694.5 L179.6 694.1 L180.1 693.5 L180.6 692.8 L181.1 692.3 L181.6 691.9 L182.1 691.6 L182.6 691.3 L183.1 691.1 L183.6 690.7 L184.1 690.0 L184.6 688.9 L185.1 687.7 L185.6 686.3 L186.1 685.1 L186.6 683.9 L187.1 682.6 L187.6 681.3 L188.1 680.1 L188.6 679.2 L189.1 678.8 L189.6 678.9 L190.1 679.7 L190.6 680.8 L191.1 682.0 L191.6 683.1 L192.1 684.1 L192.6 684.8 L193.1 684.9 L193.6 684.0 L194.1 682.4 L194.6 680.7 L195.1 679.3 L195.6 678.0 L196.1 677.0 L196.6 676.4 L197.1 676.5 L197.6 677.2 L198.1 678.2 L198.6 679.2 L199.1 679.9 L199.6 680.5 L200.1 681.0 L200.6 681.4 L201.1 681.5 L201.6 681.2 L202.1 680.5 L202.6 679.6 L203.1 678.4 L203.6 676.9 L204.1 674.7 L204.6 671.7 L205.1 668.1 L205.6 664.0 L206.1 658.8 L206.6 653.0 L207.1 647.3 L207.6 642.3 L208.1 638.0 L208.6 634.2 L209.1 631.1 L209.6 629.0 L210.1 627.6 L210.6 626.5 L211.1 625.6 L211.6 624.8 L212.1 624.1 L212.6 623.3 L213.1 622.5 L213.6 621.8 L214.1 621.2 L214.6 620.8 L215.1 621.0 L215.6 622.3 L216.1 624.6 L216.6 627.7 L217.1 632.0 L217.6 637.3 L218.1 642.3 L218.6 646.7 L219.1 650.8 L219.6 654.4 L220.1 656.9 L220.6 658.0 L221.1 657.5 L221.6 656.2 L222.1 654.6 L222.6 653.2 L223.1 652.4 L223.6 652.0 L224.1 651.7 L224.6 651.5 L225.1 651.4 L225.6 651.3 L226.1 651.4 L226.6 651.5 L227.1 651.6 L227.6 651.7 L228.1 651.5 L228.6 651.1 L229.1 650.6 L229.6 650.1 L230.1 649.8 L230.6 650.0 L231.1 650.6 L231.6 651.7 L232.1 652.9 L232.6 654.1 L233.1 655.7 L233.6 657.3 L234.1 658.8 L234.6 660.1 L235.1 661.0 L235.6 661.8 L236.1 662.5 L236.6 663.1 L237.1 663.5 L237.6 663.7 L238.1 663.5 L238.6 662.7 L239.1 661.5 L239.6 659.8 L240.1 657.6 L240.6 654.5 L241.1 650.8 L241.6 646.7 L242.1 642.6 L242.6 638.2 L243.1 633.9 L243.6 630.5 L244.1 628.1 L244.6 626.4 L245.1 625.0 L245.6 624.1 L246.1 623.5 L246.6 623.1 L247.1 622.9 L247.6 622.6 L248.1 622.0 L248.6 620.5 L249.1 617.4 L249.6 613.2 L250.1 608.4 L250.6 603.2 L251.1 597.3 L251.6 591.3 L252.1 586.5 L252.6 583.0 L253.1 580.2 L253.6 577.9 L254.1 576.1 L254.6 575.1 L255.1 575.1 L255.6 576.2 L256.1 578.3 L256.6 580.9 L257.1 584.2 L257.6 588.4 L258.1 593.4 L258.6 598.0 L259.1 601.7 L259.6 604.7 L260.1 607.4 L260.6 609.7 L261.1 611.2 L261.6 611.6 L262.1 610.6 L262.6 608.5 L263.1 605.8 L263.6 602.7 L264.1 599.4 L264.6 595.7 L265.1 591.7 L265.6 587.7 L266.1 584.1 L266.6 580.6 L267.1 577.2 L267.6 574.5 L268.1 572.5 L268.6 571.2 L269.1 570.1 L269.6 569.3 L270.1 568.8 L270.6 568.8 L271.1 569.6 L271.6 571.1 L272.1 573.0 L272.6 575.8 L273.1 579.9 L273.6 585.2 L274.1 590.7 L274.6 595.8 L275.1 600.5 L275.6 604.9 L276.1 608.5 L276.6 611.0 L277.1 612.6 L277.6 613.7 L278.1 614.6 L278.6 615.6 L279.1 617.1 L279.6 619.1 L280.1 621.8 L280.6 625.1 L281.1 628.9 L281.6 633.6 L282.1 639.4 L282.6 646.0 L283.1 651.7 L283.1 654.1" fill="none" stroke="#141414" stroke-width="1.20" stroke-linejoin="round" stroke-linecap="round"/>
<rect x="28.50" y="503.90" width="258.00" height="200.80" fill="none" stroke="#111" stroke-width="1.7"/>
<path d="M23.60 701.50h4.90M25.70 691.82h2.80M25.70 682.14h2.80M25.70 672.46h2.80M25.70 662.78h2.80M23.60 653.10h4.90M25.70 643.42h2.80M25.70 633.74h2.80M25.70 624.06h2.80M25.70 614.38h2.80M23.60 604.70h4.90M25.70 595.02h2.80M25.70 585.34h2.80M25.70 575.66h2.80M25.70 565.98h2.80M23.60 556.30h4.90M25.70 546.62h2.80M25.70 536.94h2.80M25.70 527.26h2.80M25.70 517.58h2.80M23.60 507.90h4.90M31.25 704.70v3.40M42.75 704.70v5.50M54.25 704.70v3.40M65.75 704.70v3.40M77.25 704.70v3.40M88.75 704.70v3.40M100.25 704.70v5.50M111.75 704.70v3.40M123.25 704.70v3.40M134.75 704.70v3.40M146.25 704.70v3.40M157.75 704.70v5.50M169.25 704.70v3.40M180.75 704.70v3.40M192.25 704.70v3.40M203.75 704.70v3.40M215.25 704.70v5.50M226.75 704.70v3.40M238.25 704.70v3.40M249.75 704.70v3.40M261.25 704.70v3.40M272.75 704.70v5.50M284.25 704.70v3.40" stroke="#222" stroke-width="0.95" fill="none"/>
<text x="21.30" y="704.60" text-anchor="end" class="t" font-size="9.20">0</text>
<text x="21.30" y="656.20" text-anchor="end" class="t" font-size="9.20">5</text>
<text x="21.30" y="607.80" text-anchor="end" class="t" font-size="9.20">10</text>
<text x="21.30" y="559.40" text-anchor="end" class="t" font-size="9.20">15</text>
<text x="21.30" y="511.00" text-anchor="end" class="t" font-size="9.20">20</text>
<text x="40.85" y="718.50" text-anchor="middle" class="t" font-size="9.20">-15</text>
<text x="98.35" y="718.50" text-anchor="middle" class="t" font-size="9.20">-10</text>
<text x="155.85" y="718.50" text-anchor="middle" class="t" font-size="9.20">-5</text>
<text x="215.25" y="718.50" text-anchor="middle" class="t" font-size="9.20">0</text>
<text x="272.75" y="718.50" text-anchor="middle" class="t" font-size="9.20">5</text>
<text x="129.30" y="728.80" class="a"><tspan textLength="34.20" lengthAdjust="spacingAndGlyphs">Energy</tspan><tspan dx="-0.11" textLength="22.52" lengthAdjust="spacingAndGlyphs">(ev)</tspan></text>
<text transform="translate(9.50 603.20) rotate(-90)" text-anchor="middle" class="a" textLength="87.0" lengthAdjust="spacingAndGlyphs">Relative Intensity</text>
<text transform="translate(168.70 535.80) scale(1.05 1.10)" text-anchor="middle" class="h">TPD4</text>
<path d="M288.40 511.50H292.30" stroke="#fa0606" stroke-width="1.3"/>
<text x="295.40" y="514.30" class="l" font-size="9.30">Accepter-2</text>
<path d="M288.40 527.10H292.30" stroke="#0a800a" stroke-width="1.3"/>
<text x="295.40" y="529.00" class="l" font-size="9.30">Accepter-1</text>
<path d="M288.40 543.10H292.30" stroke="#0606fa" stroke-width="1.3"/>
<text x="295.40" y="545.30" class="l" font-size="9.30">Donor</text>
<path d="M288.40 558.80H292.30" stroke="#141414" stroke-width="1.3"/>
<text x="295.40" y="559.90" class="l" font-size="9.30">Total</text></g>
<g id="p6"><path d="M373.7 695.2 L374.2 693.7 L374.7 691.7 L375.2 689.7 L375.7 687.7 L376.2 685.5 L376.7 683.4 L377.2 681.4 L377.7 679.7 L378.2 678.4 L378.7 677.3 L379.2 676.4 L379.7 676.2 L380.2 676.9 L380.7 678.6 L381.2 680.9 L381.7 683.2 L382.2 685.5 L382.7 687.7 L383.2 689.7 L383.7 691.3 L384.2 692.4 L384.7 693.2 L385.2 693.8 L385.7 693.8 L386.2 693.2 L386.7 691.8 L387.2 690.0 L387.7 688.1 L388.2 685.8 L388.7 683.2 L389.2 680.4 L389.7 677.8 L390.2 675.8 L390.7 674.3 L391.2 673.0 L391.7 672.1 L392.2 671.6 L392.7 671.7 L393.2 672.0 L393.7 672.5 L394.2 672.9 L394.7 672.8 L395.2 671.8 L395.7 669.6 L396.2 666.7 L396.7 663.3 L397.2 659.2 L397.7 654.5 L398.2 649.7 L398.7 645.6 L399.2 642.1 L399.7 638.8 L400.2 635.8 L400.7 633.2 L401.2 631.2 L401.7 630.2 L402.2 630.5 L402.7 632.4 L403.2 635.6 L403.7 639.2 L404.2 642.9 L404.7 646.8 L405.2 650.9 L405.7 654.8 L406.2 658.1 L406.7 660.7 L407.2 662.7 L407.7 664.6 L408.2 666.2 L408.7 667.6 L409.2 668.9 L409.7 670.1 L410.2 671.2 L410.7 672.3 L411.2 673.1 L411.7 673.6 L412.2 673.5 L412.7 672.4 L413.2 670.3 L413.7 667.6 L414.2 664.9 L414.7 662.1 L415.2 659.1 L415.7 656.0 L416.2 652.9 L416.7 650.2 L417.2 647.9 L417.7 645.9 L418.2 644.0 L418.7 642.8 L419.2 642.6 L419.7 643.5 L420.2 645.3 L420.7 647.4 L421.2 649.5 L421.7 651.6 L422.2 653.7 L422.7 655.7 L423.2 657.4 L423.7 658.6 L424.2 659.5 L424.7 660.3 L425.2 660.7 L425.7 660.4 L426.2 658.6 L426.7 655.5 L427.2 652.0 L427.7 648.6 L428.2 645.5 L428.7 642.4 L429.2 639.9 L429.7 638.0 L430.2 636.7 L430.7 635.7 L431.2 635.1 L431.7 634.9 L432.2 635.2 L432.7 635.8 L433.2 636.6 L433.7 637.3 L434.2 637.9 L434.7 638.0 L435.2 637.3 L435.7 636.0 L436.2 634.2 L436.7 632.4 L437.2 630.7 L437.7 628.8 L438.2 626.8 L438.7 624.8 L439.2 623.1 L439.7 621.8 L440.2 621.3 L440.7 621.8 L441.2 623.3 L441.7 625.7 L442.2 628.6 L442.7 632.2 L443.2 636.9 L443.7 642.3 L444.2 647.8 L444.7 653.0 L445.2 658.1 L445.7 663.2 L446.2 668.0 L446.7 672.6 L447.2 677.0 L447.7 681.0 L448.2 684.5 L448.7 687.3 L449.2 689.8 L449.7 692.0 L450.2 693.7 L450.7 694.4 L451.2 694.0 L451.7 692.7 L452.2 690.6 L452.7 688.0 L453.2 684.3 L453.7 679.1 L454.2 673.0 L454.7 667.0 L455.2 661.3 L455.7 655.9 L456.2 650.8 L456.7 646.5 L457.2 643.1 L457.7 640.1 L458.2 637.8 L458.7 636.6 L459.2 636.8 L459.7 638.1 L460.2 640.1 L460.7 642.4 L461.2 644.8 L461.7 647.6 L462.2 650.6 L462.7 653.7 L463.2 656.7 L463.7 659.5 L464.2 662.2 L464.7 664.9 L465.2 667.6 L465.7 670.2 L466.2 673.0 L466.7 675.7 L467.2 678.5 L467.7 681.2 L468.2 683.8 L468.7 686.3 L469.2 688.8 L469.7 691.2 L470.2 693.3 L470.7 694.9 L471.2 696.0 L471.7 696.8 L472.2 697.5 L472.7 698.1 L473.2 698.6 L473.7 699.0 L474.2 699.2 L474.7 699.3 L475.2 699.2 L475.7 699.0 L476.2 698.6 L476.7 698.2 L477.2 697.7 L477.7 697.1 L478.2 696.3 L478.7 695.1 L479.2 693.6 L479.7 691.8 L480.2 690.1 L480.7 688.6 L481.2 687.2 L481.7 685.8 L482.2 684.7 L482.7 684.0 L483.2 683.9 L483.7 684.7 L484.2 686.2 L484.7 688.1 L485.2 690.1 L485.7 692.2 L486.2 694.4 L486.7 696.3 L487.2 697.7 L487.7 698.7 L488.2 699.4 L488.7 700.1 L489.2 700.6 L489.7 701.0 L490.2 701.4 L490.7 701.7 L491.2 702.0 L491.7 702.2 L492.2 702.5 L492.7 702.7 L493.2 702.9 L493.7 703.1 L494.2 703.2 L494.7 703.3 L495.2 703.4 L495.7 703.4 L496.2 703.4 L496.7 703.5 L497.2 703.5 L497.7 703.5 L498.2 703.5 L498.7 703.5 L499.2 703.6 L499.7 703.6 L500.2 703.6 L500.7 703.5 L501.2 703.5 L501.7 703.4 L502.2 703.3 L502.7 703.1 L503.2 702.8 L503.7 702.4 L504.2 701.8 L504.7 701.2 L505.2 700.4 L505.7 699.0 L506.2 697.2 L506.7 695.1 L507.2 693.2 L507.7 691.7 L508.2 690.6 L508.7 689.5 L509.2 688.6 L509.7 687.8 L510.2 687.4 L510.7 687.4 L511.2 687.7 L511.7 688.4 L512.2 689.3 L512.7 690.0 L513.2 690.6 L513.7 691.0 L514.2 691.4 L514.7 691.7 L515.2 692.1 L515.7 692.8 L516.2 693.7 L516.7 694.7 L517.2 695.8 L517.7 697.0 L518.2 698.4 L518.7 699.7 L519.2 700.6 L519.7 701.2 L520.2 701.7 L520.7 702.0 L521.2 702.1 L521.7 701.8 L522.2 701.2 L522.7 700.3 L523.2 699.2 L523.7 698.0 L524.2 696.5 L524.7 694.7 L525.2 692.6 L525.7 690.5 L526.2 688.9 L526.7 687.6 L527.2 686.4 L527.7 685.3 L528.2 684.3 L528.7 683.5 L529.2 683.0 L529.7 682.7 L530.2 682.9 L530.7 683.5 L531.2 684.5 L531.7 685.5 L532.2 686.4 L532.7 687.0 L533.2 687.4 L533.7 687.8 L534.2 688.2 L534.7 688.6 L535.2 689.0 L535.7 689.4 L536.2 689.9 L536.7 690.7 L537.2 691.9 L537.7 693.7 L538.2 695.7 L538.7 697.4 L539.2 698.7 L539.7 699.8 L540.2 700.8 L540.7 701.6 L541.2 702.0 L541.7 702.1 L542.2 702.0 L542.7 701.9 L543.2 701.7 L543.7 701.4 L544.2 701.1 L544.7 700.8 L545.2 700.3 L545.7 699.6 L546.2 698.7 L546.7 697.6 L547.2 696.3 L547.7 694.7 L548.2 692.6 L548.7 690.0 L549.2 687.4 L549.7 685.1 L550.2 683.3 L550.7 681.8 L551.2 680.5 L551.7 679.4 L552.2 678.8 L552.7 679.0 L553.2 680.3 L553.7 682.3 L554.2 684.4 L554.7 686.0 L555.2 687.4 L555.7 688.5 L556.2 689.3 L556.7 689.2 L557.2 688.0 L557.7 685.9 L558.2 683.3 L558.7 680.8 L559.2 678.6 L559.7 676.4 L560.2 674.1 L560.7 672.0 L561.2 670.3 L561.7 669.1 L562.2 668.8 L562.7 669.5 L563.2 671.3 L563.7 673.4 L564.2 675.4 L564.7 677.4 L565.2 679.2 L565.7 680.6 L566.2 681.2 L566.7 680.3 L567.2 678.0 L567.7 675.0 L568.2 671.9 L568.7 669.3 L569.2 667.1 L569.7 664.9 L570.2 663.0 L570.7 661.6 L571.2 661.0 L571.7 661.3 L572.2 662.3 L572.7 663.8 L573.2 665.6 L573.7 667.5 L574.2 669.8 L574.7 672.5 L575.2 675.4 L575.7 678.3 L576.2 680.9 L576.7 683.3 L577.2 685.5 L577.7 687.5 L578.2 689.2 L578.7 690.5 L579.2 691.3 L579.7 692.1 L580.2 692.7 L580.7 693.2 L581.2 693.5 L581.7 693.6 L582.2 693.6 L582.7 693.5 L583.2 693.4 L583.7 693.2 L584.2 692.9 L584.7 692.7 L585.2 692.5 L585.7 692.2 L586.2 691.9 L586.7 691.6 L587.2 691.2 L587.7 690.7 L588.2 690.0 L588.7 688.9 L589.2 687.5 L589.7 685.9 L590.2 684.4 L590.7 682.8 L591.2 681.2 L591.7 679.5 L592.2 677.8 L592.7 676.1 L593.2 674.4 L593.7 672.7 L594.2 670.9 L594.7 669.2 L595.2 667.6 L595.7 666.0 L596.2 664.5 L596.7 663.1 L597.2 661.8 L597.7 660.4 L598.2 659.2 L598.7 657.9 L599.2 656.6 L599.7 655.3 L600.2 654.0 L600.7 652.8 L601.2 651.9 L601.7 651.1 L602.2 650.5 L602.7 650.0 L603.2 649.6 L603.7 649.4 L604.2 649.7 L604.7 650.8 L605.2 652.6 L605.7 654.4 L606.2 655.9 L606.7 657.3 L607.2 658.5 L607.7 659.6 L608.2 660.1 L608.7 659.9 L609.2 658.7 L609.7 656.9 L610.2 654.9 L610.7 653.1 L611.2 651.5 L611.7 649.9 L612.2 648.4 L612.7 647.2 L613.2 646.0 L613.7 645.1 L614.2 644.6 L614.7 645.1 L615.2 647.3 L615.7 650.6 L616.2 654.2 L616.7 657.9 L617.2 661.7 L617.7 665.1 L618.2 667.7 L618.7 669.5 L619.2 670.9 L619.7 672.2 L620.2 673.3 L620.7 674.5 L621.2 675.7 L621.7 677.0 L622.2 678.3 L622.7 679.5 L623.2 680.7 L623.7 681.9 L624.2 683.1 L624.7 684.3 L625.2 685.4 L625.7 686.6 L626.1 687.4" fill="none" stroke="#fa0606" stroke-width="1.40" stroke-linejoin="round" stroke-linecap="round"/>
<path d="M373.7 701.1 L374.2 700.9 L374.7 700.6 L375.2 700.3 L375.7 700.1 L376.2 699.8 L376.7 699.6 L377.2 699.3 L377.7 699.0 L378.2 698.6 L378.7 698.3 L379.2 698.0 L379.7 697.8 L380.2 697.7 L380.7 697.7 L381.2 697.8 L381.7 697.9 L382.2 697.9 L382.7 698.0 L383.2 698.1 L383.7 698.1 L384.2 697.9 L384.7 697.4 L385.2 696.7 L385.7 695.7 L386.2 694.6 L386.7 693.0 L387.2 690.8 L387.7 688.2 L388.2 685.6 L388.7 683.3 L389.2 681.1 L389.7 678.9 L390.2 676.7 L390.7 674.8 L391.2 673.4 L391.7 672.7 L392.2 672.8 L392.7 673.3 L393.2 674.2 L393.7 675.3 L394.2 676.3 L394.7 677.3 L395.2 678.3 L395.7 679.3 L396.2 680.4 L396.7 681.4 L397.2 682.4 L397.7 683.3 L398.2 684.2 L398.7 685.1 L399.2 686.0 L399.7 686.7 L400.2 687.4 L400.7 688.1 L401.2 688.7 L401.7 689.3 L402.2 689.8 L402.7 690.3 L403.2 690.8 L403.7 691.1 L404.2 691.2 L404.7 690.9 L405.2 690.1 L405.7 688.7 L406.2 687.2 L406.7 685.6 L407.2 684.1 L407.7 682.9 L408.2 681.8 L408.7 680.6 L409.2 679.5 L409.7 678.6 L410.2 678.0 L410.7 677.7 L411.2 677.8 L411.7 678.4 L412.2 679.2 L412.7 680.1 L413.2 680.8 L413.7 681.3 L414.2 681.7 L414.7 682.1 L415.2 682.3 L415.7 682.5 L416.2 682.3 L416.7 681.2 L417.2 679.3 L417.7 677.0 L418.2 674.7 L418.7 672.9 L419.2 671.2 L419.7 669.6 L420.2 668.0 L420.7 666.6 L421.2 665.5 L421.7 664.8 L422.2 664.6 L422.7 665.1 L423.2 666.3 L423.7 667.9 L424.2 669.8 L424.7 672.4 L425.2 675.5 L425.7 678.7 L426.2 681.6 L426.7 684.1 L427.2 686.4 L427.7 688.4 L428.2 689.8 L428.7 690.7 L429.2 691.1 L429.7 691.4 L430.2 691.7 L430.7 691.9 L431.2 692.0 L431.7 692.0 L432.2 692.0 L432.7 692.0 L433.2 691.9 L433.7 691.8 L434.2 691.7 L434.7 691.6 L435.2 691.4 L435.7 691.2 L436.2 690.9 L436.7 690.7 L437.2 690.7 L437.7 691.0 L438.2 691.5 L438.7 692.1 L439.2 692.7 L439.7 693.3 L440.2 693.8 L440.7 694.3 L441.2 694.8 L441.7 695.2 L442.2 695.5 L442.7 695.7 L443.2 695.7 L443.7 695.7 L444.2 695.7 L444.7 695.7 L445.2 695.7 L445.7 695.7 L446.2 695.9 L446.7 696.2 L447.2 696.6 L447.7 697.1 L448.2 697.6 L448.7 698.0 L449.2 698.4 L449.7 698.8 L450.2 699.1 L450.7 699.4 L451.2 699.6 L451.7 699.7 L452.2 699.4 L452.7 698.8 L453.2 697.8 L453.7 696.6 L454.2 695.3 L454.7 694.0 L455.2 692.6 L455.7 691.0 L456.2 689.3 L456.7 687.9 L457.2 686.8 L457.7 686.0 L458.2 685.4 L458.7 685.0 L459.2 684.7 L459.7 684.6 L460.2 684.7 L460.7 684.9 L461.2 685.1 L461.7 685.1 L462.2 684.9 L462.7 684.3 L463.2 683.3 L463.7 682.2 L464.2 681.3 L464.7 680.8 L465.2 680.9 L465.7 681.8 L466.2 683.2 L466.7 684.8 L467.2 686.7 L467.7 689.1 L468.2 691.5 L468.7 693.7 L469.2 695.2 L469.7 696.5 L470.2 697.6 L470.7 698.5 L471.2 699.2 L471.7 699.6 L472.2 699.7 L472.7 699.6 L473.2 699.4 L473.7 699.1 L474.2 698.8 L474.7 698.5 L475.2 698.2 L475.7 697.9 L476.2 697.6 L476.7 697.3 L477.2 696.9 L477.7 696.6 L478.2 696.3 L478.7 696.2 L479.2 696.2 L479.7 696.5 L480.2 697.1 L480.7 697.9 L481.2 698.7 L481.7 699.3 L482.2 699.8 L482.7 700.1 L483.2 700.3 L483.7 700.6 L484.2 700.8 L484.7 701.0 L485.2 701.1 L485.7 701.3 L486.2 701.3 L486.7 701.4 L487.2 701.5 L487.7 701.5 L488.2 701.6 L488.7 701.6 L489.2 701.6 L489.7 701.7 L490.2 701.8 L490.7 701.9 L491.2 702.0 L491.7 702.2 L492.2 702.4 L492.7 702.6 L493.2 702.8 L493.7 703.0 L494.2 703.2 L494.7 703.3 L495.2 703.4 L495.7 703.4 L496.2 703.4 L496.7 703.5 L497.2 703.5 L497.7 703.5 L498.2 703.5 L498.7 703.5 L499.2 703.6 L499.7 703.6 L500.2 703.6 L500.7 703.5 L501.2 703.5 L501.7 703.4 L502.2 703.3 L502.7 703.2 L503.2 703.0 L503.7 702.9 L504.2 702.6 L504.7 702.4 L505.2 702.2 L505.7 701.9 L506.2 701.7 L506.7 701.5 L507.2 701.2 L507.7 700.9 L508.2 700.7 L508.7 700.4 L509.2 700.2 L509.7 699.9 L510.2 699.7 L510.7 699.4 L511.2 699.2 L511.7 698.9 L512.2 698.7 L512.7 698.4 L513.2 698.2 L513.7 698.0 L514.2 697.8 L514.7 697.8 L515.2 697.7 L515.7 697.9 L516.2 698.1 L516.7 698.5 L517.2 698.9 L517.7 699.4 L518.2 699.7 L518.7 700.1 L519.2 700.4 L519.7 700.8 L520.2 701.1 L520.7 701.4 L521.2 701.6 L521.7 701.7 L522.2 701.6 L522.7 701.3 L523.2 700.8 L523.7 700.2 L524.2 699.6 L524.7 699.1 L525.2 698.8 L525.7 698.6 L526.2 698.5 L526.7 698.4 L527.2 698.3 L527.7 698.2 L528.2 698.1 L528.7 698.0 L529.2 697.9 L529.7 697.8 L530.2 697.7 L530.7 697.6 L531.2 697.3 L531.7 697.1 L532.2 696.8 L532.7 696.6 L533.2 696.4 L533.7 696.2 L534.2 696.1 L534.7 696.2 L535.2 696.5 L535.7 697.0 L536.2 697.6 L536.7 698.1 L537.2 698.6 L537.7 698.9 L538.2 699.3 L538.7 699.6 L539.2 699.9 L539.7 700.2 L540.2 700.4 L540.7 700.6 L541.2 700.7 L541.7 700.7 L542.2 700.6 L542.7 700.4 L543.2 700.1 L543.7 699.8 L544.2 699.5 L544.7 699.2 L545.2 698.9 L545.7 698.5 L546.2 698.2 L546.7 697.8 L547.2 697.3 L547.7 696.9 L548.2 696.5 L548.7 696.1 L549.2 695.8 L549.7 695.6 L550.2 695.5 L550.7 695.4 L551.2 695.3 L551.7 695.2 L552.2 695.1 L552.7 695.0 L553.2 694.8 L553.7 694.5 L554.2 694.0 L554.7 693.2 L555.2 692.2 L555.7 691.2 L556.2 690.3 L556.7 689.3 L557.2 688.3 L557.7 687.3 L558.2 686.2 L558.7 685.3 L559.2 684.6 L559.7 684.2 L560.2 684.3 L560.7 685.1 L561.2 686.5 L561.7 688.1 L562.2 689.7 L562.7 691.2 L563.2 692.8 L563.7 694.4 L564.2 695.8 L564.7 696.8 L565.2 697.6 L565.7 698.2 L566.2 698.8 L566.7 699.3 L567.2 699.6 L567.7 699.7 L568.2 699.5 L568.7 699.1 L569.2 698.6 L569.7 697.9 L570.2 697.3 L570.7 696.7 L571.2 696.0 L571.7 695.3 L572.2 694.6 L572.7 693.9 L573.2 693.2 L573.7 692.7 L574.2 692.1 L574.7 691.6 L575.2 691.2 L575.7 690.9 L576.2 690.7 L576.7 691.0 L577.2 691.7 L577.7 692.6 L578.2 693.7 L578.7 694.6 L579.2 695.4 L579.7 696.1 L580.2 696.8 L580.7 697.4 L581.2 697.8 L581.7 698.0 L582.2 698.0 L582.7 697.9 L583.2 697.7 L583.7 697.4 L584.2 697.1 L584.7 696.7 L585.2 696.3 L585.7 695.8 L586.2 695.1 L586.7 694.4 L587.2 693.6 L587.7 692.9 L588.2 692.1 L588.7 691.4 L589.2 690.6 L589.7 689.8 L590.2 688.9 L590.7 687.9 L591.2 686.7 L591.7 685.3 L592.2 683.7 L592.7 682.0 L593.2 680.4 L593.7 678.8 L594.2 677.1 L594.7 675.2 L595.2 673.6 L595.7 672.2 L596.2 671.4 L596.7 671.3 L597.2 672.0 L597.7 673.1 L598.2 674.5 L598.7 675.9 L599.2 677.3 L599.7 678.6 L600.2 680.0 L600.7 681.1 L601.2 681.9 L601.7 682.6 L602.2 683.1 L602.7 683.6 L603.2 683.9 L603.7 683.8 L604.2 683.3 L604.7 682.4 L605.2 681.3 L605.7 680.2 L606.2 679.1 L606.7 677.9 L607.2 676.8 L607.7 675.9 L608.2 675.3 L608.7 675.4 L609.2 676.2 L609.7 677.3 L610.2 678.4 L610.7 679.2 L611.2 679.3 L611.7 678.7 L612.2 677.6 L612.7 676.3 L613.2 675.2 L613.7 674.1 L614.2 673.0 L614.7 672.3 L615.2 672.3 L615.7 673.4 L616.2 675.4 L616.7 677.7 L617.2 680.0 L617.7 682.4 L618.2 684.7 L618.7 686.9 L619.2 688.7 L619.7 689.9 L620.2 690.8 L620.7 691.4 L621.2 691.5 L621.7 691.2 L622.2 690.4 L622.7 689.4 L623.2 688.4 L623.7 687.5 L624.2 686.9 L624.7 686.8 L625.2 687.4 L625.7 688.4 L626.1 689.3" fill="none" stroke="#0a800a" stroke-width="1.40" stroke-linejoin="round" stroke-linecap="round"/>
<path d="M373.7 691.3 L374.2 691.3 L374.7 691.4 L375.2 691.5 L375.7 691.6 L376.2 691.6 L376.7 691.6 L377.2 691.7 L377.7 691.7 L378.2 691.7 L378.7 691.7 L379.2 691.7 L379.7 691.7 L380.2 691.7 L380.7 691.7 L381.2 691.6 L381.7 691.1 L382.2 690.2 L382.7 688.9 L383.2 687.4 L383.7 685.8 L384.2 684.2 L384.7 682.2 L385.2 680.2 L385.7 678.2 L386.2 676.6 L386.7 675.2 L387.2 674.0 L387.7 673.0 L388.2 672.9 L388.7 673.9 L389.2 676.2 L389.7 678.8 L390.2 681.1 L390.7 683.3 L391.2 685.4 L391.7 687.3 L392.2 688.6 L392.7 689.1 L393.2 689.2 L393.7 689.2 L394.2 689.1 L394.7 689.0 L395.2 688.9 L395.7 688.6 L396.2 688.1 L396.7 686.8 L397.2 684.9 L397.7 682.6 L398.2 680.1 L398.7 677.3 L399.2 674.0 L399.7 670.3 L400.2 666.8 L400.7 663.7 L401.2 660.9 L401.7 658.2 L402.2 655.6 L402.7 653.4 L403.2 651.6 L403.7 650.7 L404.2 650.6 L404.7 651.2 L405.2 652.3 L405.7 653.6 L406.2 654.8 L406.7 656.0 L407.2 657.1 L407.7 658.2 L408.2 659.2 L408.7 660.2 L409.2 661.0 L409.7 661.8 L410.2 662.4 L410.7 663.1 L411.2 663.7 L411.7 664.1 L412.2 664.3 L412.7 663.9 L413.2 662.6 L413.7 660.4 L414.2 657.6 L414.7 654.3 L415.2 650.5 L415.7 645.8 L416.2 640.4 L416.7 635.1 L417.2 629.8 L417.7 624.3 L418.2 618.9 L418.7 614.8 L419.2 612.9 L419.7 613.9 L420.2 617.6 L420.7 622.7 L421.2 628.5 L421.7 635.1 L422.2 641.3 L422.7 646.3 L423.2 650.2 L423.7 653.6 L424.2 656.3 L424.7 657.8 L425.2 658.1 L425.7 657.7 L426.2 656.9 L426.7 656.1 L427.2 655.3 L427.7 654.7 L428.2 654.0 L428.7 653.5 L429.2 653.1 L429.7 653.1 L430.2 653.5 L430.7 654.4 L431.2 655.5 L431.7 656.6 L432.2 657.7 L432.7 658.7 L433.2 659.8 L433.7 660.8 L434.2 661.4 L434.7 661.6 L435.2 661.3 L435.7 660.5 L436.2 659.4 L436.7 658.1 L437.2 656.7 L437.7 655.2 L438.2 653.7 L438.7 652.0 L439.2 650.2 L439.7 648.4 L440.2 646.7 L440.7 645.3 L441.2 644.0 L441.7 642.7 L442.2 641.6 L442.7 640.6 L443.2 640.0 L443.7 639.9 L444.2 640.7 L444.7 642.8 L445.2 645.7 L445.7 649.1 L446.2 652.9 L446.7 657.3 L447.2 662.1 L447.7 666.8 L448.2 671.1 L448.7 675.4 L449.2 679.5 L449.7 683.2 L450.2 686.4 L450.7 689.1 L451.2 691.5 L451.7 693.5 L452.2 695.2 L452.7 696.4 L453.2 697.2 L453.7 697.9 L454.2 698.5 L454.7 699.0 L455.2 699.4 L455.7 699.6 L456.2 699.7 L456.7 699.5 L457.2 699.1 L457.7 698.5 L458.2 697.7 L458.7 696.8 L459.2 695.8 L459.7 694.7 L460.2 693.3 L460.7 691.7 L461.2 690.0 L461.7 688.3 L462.2 686.4 L462.7 684.4 L463.2 682.2 L463.7 680.2 L464.2 678.5 L464.7 677.2 L465.2 676.4 L465.7 675.7 L466.2 675.1 L466.7 674.4 L467.2 673.7 L467.7 672.8 L468.2 671.7 L468.7 670.5 L469.2 669.3 L469.7 668.1 L470.2 666.8 L470.7 665.5 L471.2 664.1 L471.7 662.7 L472.2 661.7 L472.7 661.0 L473.2 660.9 L473.7 661.2 L474.2 661.8 L474.7 662.6 L475.2 663.6 L475.7 664.7 L476.2 665.9 L476.7 667.4 L477.2 669.3 L477.7 671.4 L478.2 673.5 L478.7 675.8 L479.2 678.2 L479.7 680.7 L480.2 683.3 L480.7 685.8 L481.2 688.3 L481.7 690.7 L482.2 693.1 L482.7 695.3 L483.2 696.9 L483.7 698.0 L484.2 698.7 L484.7 699.3 L485.2 699.7 L485.7 700.0 L486.2 700.0 L486.7 699.8 L487.2 699.3 L487.7 698.6 L488.2 698.0 L488.7 697.5 L489.2 697.4 L489.7 697.6 L490.2 698.1 L490.7 698.7 L491.2 699.3 L491.7 699.9 L492.2 700.5 L492.7 701.1 L493.2 701.7 L493.7 702.3 L494.2 702.8 L494.7 703.2 L495.2 703.3 L495.7 703.4 L496.2 703.4 L496.7 703.5 L497.2 703.5 L497.7 703.5 L498.2 703.5 L498.7 703.5 L499.2 703.6 L499.7 703.6 L500.2 703.6 L500.7 703.5 L501.2 703.5 L501.7 703.4 L502.2 703.3 L502.7 703.2 L503.2 703.1 L503.7 702.9 L504.2 702.8 L504.7 702.6 L505.2 702.4 L505.7 702.3 L506.2 702.1 L506.7 702.0 L507.2 701.9 L507.7 701.7 L508.2 701.6 L508.7 701.5 L509.2 701.4 L509.7 701.4 L510.2 701.3 L510.7 701.4 L511.2 701.4 L511.7 701.4 L512.2 701.5 L512.7 701.5 L513.2 701.5 L513.7 701.6 L514.2 701.7 L514.7 701.7 L515.2 701.7 L515.7 701.8 L516.2 701.8 L516.7 701.9 L517.2 701.9 L517.7 702.0 L518.2 702.0 L518.7 702.1 L519.2 702.1 L519.7 702.1 L520.2 702.1 L520.7 702.0 L521.2 701.8 L521.7 701.5 L522.2 701.1 L522.7 700.7 L523.2 700.3 L523.7 700.0 L524.2 699.8 L524.7 699.6 L525.2 699.4 L525.7 699.2 L526.2 699.1 L526.7 698.9 L527.2 698.8 L527.7 698.8 L528.2 698.7 L528.7 698.8 L529.2 698.9 L529.7 699.1 L530.2 699.4 L530.7 699.7 L531.2 700.1 L531.7 700.4 L532.2 700.7 L532.7 701.0 L533.2 701.3 L533.7 701.6 L534.2 701.9 L534.7 702.2 L535.2 702.5 L535.7 702.6 L536.2 702.7 L536.7 702.6 L537.2 702.3 L537.7 701.8 L538.2 701.2 L538.7 700.6 L539.2 700.0 L539.7 699.3 L540.2 698.7 L540.7 698.0 L541.2 697.3 L541.7 696.6 L542.2 696.0 L542.7 695.4 L543.2 694.8 L543.7 694.3 L544.2 693.8 L544.7 693.3 L545.2 692.9 L545.7 692.5 L546.2 692.1 L546.7 691.8 L547.2 691.5 L547.7 691.0 L548.2 690.1 L548.7 688.2 L549.2 685.4 L549.7 682.1 L550.2 678.7 L550.7 675.2 L551.2 671.5 L551.7 668.0 L552.2 665.0 L552.7 662.4 L553.2 660.0 L553.7 658.0 L554.2 656.3 L554.7 655.0 L555.2 653.8 L555.7 652.9 L556.2 652.1 L556.7 651.6 L557.2 651.5 L557.7 652.1 L558.2 653.5 L558.7 655.5 L559.2 657.7 L559.7 660.2 L560.2 663.1 L560.7 666.6 L561.2 670.2 L561.7 673.6 L562.2 676.6 L562.7 679.4 L563.2 682.0 L563.7 684.3 L564.2 686.3 L564.7 687.8 L565.2 689.0 L565.7 690.2 L566.2 691.2 L566.7 692.2 L567.2 692.9 L567.7 693.5 L568.2 693.9 L568.7 694.0 L569.2 694.0 L569.7 693.8 L570.2 693.5 L570.7 693.3 L571.2 692.9 L571.7 692.6 L572.2 692.3 L572.7 691.9 L573.2 691.4 L573.7 691.1 L574.2 690.8 L574.7 690.7 L575.2 690.9 L575.7 691.3 L576.2 691.9 L576.7 692.6 L577.2 693.2 L577.7 693.6 L578.2 694.0 L578.7 694.3 L579.2 694.6 L579.7 694.9 L580.2 695.1 L580.7 695.2 L581.2 695.3 L581.7 695.2 L582.2 695.0 L582.7 694.8 L583.2 694.4 L583.7 693.9 L584.2 693.4 L584.7 692.7 L585.2 691.4 L585.7 689.2 L586.2 686.3 L586.7 683.0 L587.2 679.5 L587.7 675.6 L588.2 671.2 L588.7 667.1 L589.2 663.8 L589.7 661.4 L590.2 659.7 L590.7 658.7 L591.2 658.9 L591.7 660.0 L592.2 661.5 L592.7 662.9 L593.2 663.5 L593.7 663.1 L594.2 661.7 L594.7 659.8 L595.2 657.7 L595.7 655.4 L596.2 652.7 L596.7 649.8 L597.2 647.0 L597.7 644.2 L598.2 641.4 L598.7 638.6 L599.2 636.1 L599.7 634.0 L600.2 632.4 L600.7 631.0 L601.2 630.0 L601.7 629.4 L602.2 630.1 L602.7 632.6 L603.2 636.3 L603.7 640.3 L604.2 644.6 L604.7 648.9 L605.2 652.8 L605.7 655.7 L606.2 657.9 L606.7 659.8 L607.2 661.2 L607.7 662.0 L608.2 662.1 L608.7 661.2 L609.2 659.7 L609.7 657.9 L610.2 656.1 L610.7 654.4 L611.2 652.8 L611.7 651.1 L612.2 649.5 L612.7 648.1 L613.2 647.0 L613.7 646.0 L614.2 645.1 L614.7 644.3 L615.2 643.6 L615.7 643.1 L616.2 642.8 L616.7 642.5 L617.2 642.3 L617.7 642.1 L618.2 641.9 L618.7 641.8 L619.2 642.0 L619.7 642.6 L620.2 643.9 L620.7 645.7 L621.2 647.8 L621.7 650.6 L622.2 654.1 L622.7 658.0 L623.2 661.8 L623.7 665.7 L624.2 669.5 L624.7 673.0 L625.2 676.2 L625.7 679.0 L626.1 681.0" fill="none" stroke="#0606fa" stroke-width="1.40" stroke-linejoin="round" stroke-linecap="round"/>
<path d="M373.7 681.0 L374.2 679.2 L374.7 676.9 L375.2 674.7 L375.7 672.6 L376.2 670.5 L376.7 668.4 L377.2 666.4 L377.7 664.7 L378.2 663.3 L378.7 662.0 L379.2 660.9 L379.7 660.2 L380.2 660.0 L380.7 660.8 L381.2 662.3 L381.7 664.0 L382.2 665.4 L382.7 666.5 L383.2 667.4 L383.7 668.1 L384.2 668.2 L384.7 667.5 L385.2 666.0 L385.7 663.9 L386.2 661.3 L386.7 658.1 L387.2 654.1 L387.7 649.7 L388.2 645.5 L388.7 641.5 L389.2 637.6 L389.7 634.1 L390.2 631.5 L390.7 629.7 L391.2 628.3 L391.7 627.3 L392.2 626.9 L392.7 627.4 L393.2 628.8 L393.7 630.4 L394.2 631.8 L394.7 632.8 L395.2 633.5 L395.7 633.9 L396.2 633.2 L396.7 631.0 L397.2 627.4 L397.7 622.9 L398.2 617.2 L398.7 609.7 L399.2 601.3 L399.7 593.5 L400.2 586.6 L400.7 580.6 L401.2 576.0 L401.7 573.1 L402.2 571.1 L402.7 570.1 L403.2 570.7 L403.7 573.3 L404.2 577.2 L404.7 581.7 L405.2 586.5 L405.7 590.6 L406.2 593.1 L406.7 594.5 L407.2 595.4 L407.7 596.2 L408.2 597.3 L408.7 598.5 L409.2 599.7 L409.7 601.0 L410.2 602.4 L410.7 603.9 L411.2 605.5 L411.7 607.0 L412.2 608.1 L412.7 608.5 L413.2 607.4 L413.7 604.2 L414.2 599.5 L414.7 593.3 L415.2 585.2 L415.7 575.9 L416.2 566.2 L416.7 556.3 L417.2 546.7 L417.7 538.6 L418.2 531.7 L418.7 525.9 L419.2 522.2 L419.7 522.1 L420.2 525.9 L420.7 532.2 L421.2 539.5 L421.7 547.6 L422.2 556.3 L422.7 564.6 L423.2 571.9 L423.7 578.3 L424.2 583.5 L424.7 587.4 L425.2 590.2 L425.7 592.1 L426.2 592.8 L426.7 592.0 L427.2 590.2 L427.7 588.0 L428.2 585.7 L428.7 583.4 L429.2 581.2 L429.7 579.5 L430.2 578.2 L430.7 577.2 L431.2 576.6 L431.7 576.5 L432.2 577.2 L432.7 578.6 L433.2 580.3 L433.7 581.8 L434.2 583.2 L434.7 584.3 L435.2 584.7 L435.7 583.6 L436.2 580.9 L436.7 577.3 L437.2 573.6 L437.7 569.6 L438.2 565.4 L438.7 561.8 L439.2 559.2 L439.7 557.3 L440.2 555.8 L440.7 554.7 L441.2 554.3 L441.7 554.7 L442.2 556.1 L442.7 558.3 L443.2 561.3 L443.7 565.7 L444.2 571.5 L444.7 578.2 L445.2 585.6 L445.7 593.7 L446.2 602.2 L446.7 610.9 L447.2 619.8 L447.7 628.7 L448.2 637.9 L448.7 647.3 L449.2 656.5 L449.7 663.9 L450.2 669.4 L450.7 673.8 L451.2 677.0 L451.7 678.5 L452.2 677.7 L452.7 675.0 L453.2 671.1 L453.7 666.3 L454.2 660.1 L454.7 653.0 L455.2 645.7 L455.7 638.3 L456.2 631.1 L456.7 624.9 L457.2 620.0 L457.7 616.0 L458.2 613.5 L458.7 612.7 L459.2 612.9 L459.7 613.3 L460.2 613.7 L460.7 614.1 L461.2 614.6 L461.7 614.8 L462.2 614.8 L462.7 614.4 L463.2 613.8 L463.7 613.3 L464.2 613.2 L464.7 614.1 L465.2 616.3 L465.7 619.5 L466.2 623.6 L466.7 628.6 L467.2 633.8 L467.7 638.1 L468.2 641.6 L468.7 644.5 L469.2 646.6 L469.7 647.9 L470.2 648.7 L470.7 649.4 L471.2 650.0 L471.7 650.9 L472.2 651.8 L472.7 652.8 L473.2 653.8 L473.7 654.8 L474.2 655.7 L474.7 656.5 L475.2 657.4 L475.7 658.2 L476.2 659.0 L476.7 659.8 L477.2 660.6 L477.7 661.4 L478.2 662.2 L478.7 663.0 L479.2 663.8 L479.7 664.7 L480.2 665.8 L480.7 667.0 L481.2 668.5 L481.7 670.2 L482.2 672.1 L482.7 674.3 L483.2 676.9 L483.7 679.5 L484.2 682.1 L484.7 684.7 L485.2 687.2 L485.7 689.3 L486.2 690.6 L486.7 691.4 L487.2 692.0 L487.7 692.4 L488.2 692.8 L488.7 693.2 L489.2 693.8 L489.7 694.5 L490.2 695.3 L490.7 696.2 L491.2 697.0 L491.7 697.9 L492.2 698.8 L492.7 699.7 L493.2 700.7 L493.7 701.6 L494.2 702.5 L494.7 703.0 L495.2 703.3 L495.7 703.4 L496.2 703.4 L496.7 703.4 L497.2 703.4 L497.7 703.4 L498.2 703.4 L498.7 703.4 L499.2 703.4 L499.7 703.4 L500.2 703.3 L500.7 703.3 L501.2 703.3 L501.7 703.2 L502.2 703.0 L502.7 702.9 L503.2 702.6 L503.7 701.9 L504.2 700.9 L504.7 699.6 L505.2 698.1 L505.7 696.6 L506.2 694.8 L506.7 692.7 L507.2 690.6 L507.7 688.8 L508.2 687.5 L508.7 686.6 L509.2 685.8 L509.7 685.2 L510.2 684.8 L510.7 684.7 L511.2 684.9 L511.7 685.3 L512.2 685.7 L512.7 685.9 L513.2 685.8 L513.7 685.4 L514.2 685.1 L514.7 684.9 L515.2 685.2 L515.7 685.9 L516.2 687.0 L516.7 688.3 L517.2 689.8 L517.7 691.7 L518.2 693.9 L518.7 696.0 L519.2 697.5 L519.7 698.6 L520.2 699.3 L520.7 699.8 L521.2 700.0 L521.7 699.6 L522.2 698.7 L522.7 697.3 L523.2 695.7 L523.7 693.7 L524.2 691.3 L524.7 688.5 L525.2 685.8 L525.7 683.5 L526.2 681.5 L526.7 679.7 L527.2 678.1 L527.7 676.9 L528.2 676.1 L528.7 675.4 L529.2 674.8 L529.7 674.4 L530.2 674.2 L530.7 674.7 L531.2 675.7 L531.7 677.0 L532.2 678.2 L532.7 679.0 L533.2 679.6 L533.7 680.1 L534.2 680.6 L534.7 681.1 L535.2 681.6 L535.7 682.1 L536.2 682.7 L536.7 683.7 L537.2 685.3 L537.7 687.6 L538.2 689.8 L538.7 691.5 L539.2 692.9 L539.7 693.9 L540.2 694.5 L540.7 694.5 L541.2 694.3 L541.7 693.8 L542.2 693.2 L542.7 692.5 L543.2 691.8 L543.7 691.1 L544.2 690.2 L544.7 689.3 L545.2 688.2 L545.7 686.8 L546.2 685.2 L546.7 683.2 L547.2 680.8 L547.7 677.7 L548.2 673.8 L548.7 669.1 L549.2 664.1 L549.7 659.0 L550.2 653.6 L550.7 648.2 L551.2 643.6 L551.7 640.2 L552.2 637.7 L552.7 635.6 L553.2 634.0 L553.7 632.8 L554.2 631.9 L554.7 631.2 L555.2 630.6 L555.7 629.8 L556.2 628.9 L556.7 627.6 L557.2 626.1 L557.7 624.3 L558.2 622.4 L558.7 620.1 L559.2 617.2 L559.7 614.1 L560.2 611.7 L560.7 611.2 L561.2 612.6 L561.7 615.5 L562.2 619.6 L562.7 625.6 L563.2 633.0 L563.7 640.2 L564.2 646.7 L564.7 652.4 L565.2 657.0 L565.7 660.6 L566.2 663.6 L566.7 665.5 L567.2 665.8 L567.7 664.5 L568.2 662.1 L568.7 659.3 L569.2 656.6 L569.7 653.9 L570.2 651.2 L570.7 648.8 L571.2 646.9 L571.7 645.4 L572.2 644.1 L572.7 643.2 L573.2 643.1 L573.7 643.9 L574.2 645.4 L574.7 647.5 L575.2 649.9 L575.7 653.0 L576.2 656.8 L576.7 660.8 L577.2 664.5 L577.7 667.6 L578.2 670.5 L578.7 673.1 L579.2 675.4 L579.7 677.3 L580.2 678.8 L580.7 680.2 L581.2 681.4 L581.7 682.2 L582.2 682.4 L582.7 682.0 L583.2 681.1 L583.7 679.7 L584.2 678.1 L584.7 676.1 L585.2 673.6 L585.7 670.5 L586.2 666.9 L586.7 662.7 L587.2 657.9 L587.7 652.7 L588.2 647.6 L588.7 642.6 L589.2 637.8 L589.7 633.3 L590.2 629.6 L590.7 626.7 L591.2 624.3 L591.7 622.2 L592.2 620.1 L592.7 617.7 L593.2 615.0 L593.7 612.0 L594.2 608.7 L594.7 605.2 L595.2 601.4 L595.7 597.3 L596.2 592.7 L596.7 588.0 L597.2 583.4 L597.7 579.0 L598.2 574.6 L598.7 570.4 L599.2 566.6 L599.7 563.7 L600.2 561.7 L600.7 560.2 L601.2 558.9 L601.7 557.9 L602.2 557.3 L602.7 557.4 L603.2 558.6 L603.7 560.8 L604.2 563.7 L604.7 567.2 L605.2 571.8 L605.7 576.7 L606.2 581.1 L606.7 584.4 L607.2 587.2 L607.7 589.4 L608.2 590.6 L608.7 590.5 L609.2 589.1 L609.7 586.8 L610.2 583.9 L610.7 580.4 L611.2 575.8 L611.7 570.8 L612.2 566.5 L612.7 563.3 L613.2 560.7 L613.7 558.6 L614.2 557.2 L614.7 556.9 L615.2 558.1 L615.7 560.8 L616.2 564.5 L616.7 569.2 L617.2 575.4 L617.7 581.9 L618.2 587.2 L618.7 591.0 L619.2 594.1 L619.7 596.8 L620.2 599.1 L620.7 601.2 L621.2 603.0 L621.7 605.0 L622.2 607.5 L622.7 610.6 L623.2 614.4 L623.7 618.7 L624.2 623.7 L624.7 629.4 L625.2 636.1 L625.7 643.9 L626.1 650.1" fill="none" stroke="#141414" stroke-width="1.20" stroke-linejoin="round" stroke-linecap="round"/>
<rect x="370.60" y="505.90" width="258.60" height="200.20" fill="none" stroke="#111" stroke-width="1.7"/>
<path d="M365.70 703.10h4.90M367.80 693.45h2.80M367.80 683.80h2.80M367.80 674.15h2.80M367.80 664.50h2.80M365.70 654.85h4.90M367.80 645.20h2.80M367.80 635.55h2.80M367.80 625.90h2.80M367.80 616.25h2.80M365.70 606.60h4.90M367.80 596.95h2.80M367.80 587.30h2.80M367.80 577.65h2.80M367.80 568.00h2.80M365.70 558.35h4.90M367.80 548.70h2.80M367.80 539.05h2.80M367.80 529.40h2.80M367.80 519.75h2.80M365.70 510.10h4.90M384.80 706.10v5.50M396.40 706.10v3.40M408.00 706.10v3.40M419.60 706.10v3.40M431.20 706.10v3.40M442.80 706.10v5.50M454.40 706.10v3.40M466.00 706.10v3.40M477.60 706.10v3.40M489.20 706.10v3.40M500.80 706.10v5.50M512.40 706.10v3.40M524.00 706.10v3.40M535.60 706.10v3.40M547.20 706.10v3.40M558.80 706.10v5.50M570.40 706.10v3.40M582.00 706.10v3.40M593.60 706.10v3.40M605.20 706.10v3.40M616.80 706.10v5.50M628.40 706.10v3.40" stroke="#222" stroke-width="0.95" fill="none"/>
<text x="363.40" y="706.20" text-anchor="end" class="t" font-size="9.20">0</text>
<text x="363.40" y="657.95" text-anchor="end" class="t" font-size="9.20">5</text>
<text x="363.40" y="609.70" text-anchor="end" class="t" font-size="9.20">10</text>
<text x="363.40" y="561.45" text-anchor="end" class="t" font-size="9.20">15</text>
<text x="363.40" y="513.20" text-anchor="end" class="t" font-size="9.20">20</text>
<text x="382.90" y="721.00" text-anchor="middle" class="t" font-size="9.20">-15</text>
<text x="440.90" y="721.00" text-anchor="middle" class="t" font-size="9.20">-10</text>
<text x="498.90" y="721.00" text-anchor="middle" class="t" font-size="9.20">-5</text>
<text x="558.80" y="721.00" text-anchor="middle" class="t" font-size="9.20">0</text>
<text x="616.80" y="721.00" text-anchor="middle" class="t" font-size="9.20">5</text>
<text x="472.00" y="730.80" class="a"><tspan textLength="34.20" lengthAdjust="spacingAndGlyphs">Energy</tspan><tspan dx="-0.11" textLength="22.52" lengthAdjust="spacingAndGlyphs">(ev)</tspan></text>
<text transform="translate(351.30 605.10) rotate(-90)" text-anchor="middle" class="a" textLength="86.5" lengthAdjust="spacingAndGlyphs">Relative Intensity</text>
<text transform="translate(517.20 535.90) scale(1.05 1.10)" text-anchor="middle" class="h">TPD5</text>
<path d="M631.30 513.00H635.10" stroke="#fa0606" stroke-width="1.3"/>
<text x="637.00" y="516.70" class="l" font-size="9.34">Accepter-2</text>
<path d="M631.30 529.10H635.10" stroke="#0a800a" stroke-width="1.3"/>
<text x="637.00" y="531.40" class="l" font-size="9.34">Accepter-1</text>
<path d="M631.30 544.90H635.10" stroke="#0606fa" stroke-width="1.3"/>
<text x="637.00" y="547.80" class="l" font-size="9.34">Donor</text>
<path d="M631.30 560.80H635.10" stroke="#141414" stroke-width="1.3"/>
<text x="637.00" y="562.40" class="l" font-size="9.34">Total</text></g>
<g id="p7"><path d="M195.1 949.4 L195.6 948.6 L196.1 947.5 L196.6 946.6 L197.1 945.7 L197.6 944.8 L198.1 944.1 L198.6 943.4 L199.1 942.8 L199.6 942.2 L200.1 941.6 L200.6 941.0 L201.1 940.4 L201.6 939.8 L202.1 939.2 L202.6 938.8 L203.1 938.7 L203.6 939.3 L204.1 940.7 L204.6 942.5 L205.1 944.3 L205.6 945.8 L206.1 947.3 L206.6 948.8 L207.1 950.1 L207.6 951.1 L208.1 951.5 L208.6 951.5 L209.1 951.2 L209.6 950.7 L210.1 950.1 L210.6 949.5 L211.1 948.9 L211.6 948.3 L212.1 947.7 L212.6 947.1 L213.1 946.5 L213.6 945.8 L214.1 944.9 L214.6 943.8 L215.1 942.5 L215.6 940.9 L216.1 939.0 L216.6 936.8 L217.1 934.3 L217.6 931.1 L218.1 927.4 L218.6 923.3 L219.1 919.2 L219.6 915.0 L220.1 910.6 L220.6 906.2 L221.1 902.0 L221.6 898.2 L222.1 894.9 L222.6 891.6 L223.1 888.5 L223.6 885.8 L224.1 883.6 L224.6 882.3 L225.1 882.2 L225.6 883.7 L226.1 886.5 L226.6 890.2 L227.1 894.4 L227.6 899.5 L228.1 905.4 L228.6 911.2 L229.1 916.0 L229.6 920.1 L230.1 923.6 L230.6 925.6 L231.1 925.8 L231.6 924.3 L232.1 921.8 L232.6 918.8 L233.1 915.5 L233.6 911.6 L234.1 907.3 L234.6 903.2 L235.1 899.5 L235.6 896.0 L236.1 892.8 L236.6 890.4 L237.1 889.6 L237.6 890.6 L238.1 893.1 L238.6 896.1 L239.1 899.2 L239.6 902.2 L240.1 905.2 L240.6 908.3 L241.1 911.1 L241.6 913.7 L242.1 915.9 L242.6 918.0 L243.1 919.9 L243.6 921.7 L244.1 923.3 L244.6 924.9 L245.1 926.5 L245.6 927.7 L246.1 927.9 L246.6 926.3 L247.1 922.4 L247.6 917.3 L248.1 912.1 L248.6 906.8 L249.1 901.4 L249.6 896.5 L250.1 892.6 L250.6 889.4 L251.1 886.8 L251.6 885.0 L252.1 884.8 L252.6 886.7 L253.1 890.4 L253.6 895.2 L254.1 901.0 L254.6 907.6 L255.1 913.6 L255.6 918.2 L256.1 922.0 L256.6 924.9 L257.1 926.3 L257.6 925.3 L258.1 921.8 L258.6 917.3 L259.1 913.5 L259.6 910.7 L260.1 908.3 L260.6 906.2 L261.1 904.4 L261.6 903.3 L262.1 903.0 L262.6 903.8 L263.1 905.7 L263.6 908.3 L264.1 911.3 L264.6 914.8 L265.1 918.8 L265.6 923.2 L266.1 927.5 L266.6 931.4 L267.1 935.2 L267.6 938.9 L268.1 942.1 L268.6 944.8 L269.1 946.9 L269.6 948.8 L270.1 950.5 L270.6 951.9 L271.1 953.0 L271.6 953.5 L272.1 953.7 L272.6 953.6 L273.1 953.5 L273.6 953.3 L274.1 953.1 L274.6 952.8 L275.1 952.4 L275.6 951.6 L276.1 950.5 L276.6 949.2 L277.1 947.8 L277.6 946.3 L278.1 944.8 L278.6 943.2 L279.1 941.4 L279.6 939.6 L280.1 937.8 L280.6 936.3 L281.1 935.0 L281.6 933.8 L282.1 932.6 L282.6 931.5 L283.1 930.6 L283.6 930.0 L284.1 929.6 L284.6 929.6 L285.1 929.8 L285.6 930.2 L286.1 930.6 L286.6 931.2 L287.1 931.7 L287.6 932.3 L288.1 933.0 L288.6 933.8 L289.1 934.7 L289.6 935.7 L290.1 937.1 L290.6 938.7 L291.1 940.5 L291.6 942.3 L292.1 944.1 L292.6 945.9 L293.1 947.8 L293.6 949.5 L294.1 951.0 L294.6 952.0 L295.1 952.8 L295.6 953.5 L296.1 954.2 L296.6 954.7 L297.1 955.2 L297.6 955.5 L298.1 955.7 L298.6 955.9 L299.1 956.0 L299.6 956.2 L300.1 956.3 L300.6 956.4 L301.1 956.5 L301.6 956.5 L302.1 956.6 L302.6 956.7 L303.1 956.7 L303.6 956.8 L304.1 956.9 L304.6 956.9 L305.1 957.0 L305.6 957.0 L306.1 957.1 L306.6 957.1 L307.1 957.2 L307.6 957.2 L308.1 957.2 L308.6 957.3 L309.1 957.3 L309.6 957.4 L310.1 957.4 L310.6 957.5 L311.1 957.5 L311.6 957.6 L312.1 957.7 L312.6 957.7 L313.1 957.8 L313.6 957.8 L314.1 957.9 L314.6 957.9 L315.1 958.0 L315.6 958.0 L316.1 958.0 L316.6 958.1 L317.1 958.1 L317.6 958.1 L318.1 958.1 L318.6 958.2 L319.1 958.2 L319.6 958.2 L320.1 958.2 L320.6 958.2 L321.1 958.2 L321.6 958.3 L322.1 958.3 L322.6 958.3 L323.1 958.3 L323.6 958.3 L324.1 958.3 L324.6 958.3 L325.1 958.3 L325.6 958.3 L326.1 958.3 L326.6 958.3 L327.1 958.3 L327.6 958.3 L328.1 958.3 L328.6 958.3 L329.1 958.3 L329.6 958.2 L330.1 958.1 L330.6 957.6 L331.1 956.8 L331.6 955.8 L332.1 954.6 L332.6 953.4 L333.1 952.0 L333.6 950.5 L334.1 949.0 L334.6 947.9 L335.1 947.1 L335.6 946.4 L336.1 946.0 L336.6 945.8 L337.1 946.1 L337.6 947.1 L338.1 948.3 L338.6 949.4 L339.1 950.2 L339.6 950.8 L340.1 951.3 L340.6 951.5 L341.1 950.9 L341.6 949.3 L342.1 947.2 L342.6 945.3 L343.1 943.9 L343.6 942.9 L344.1 942.0 L344.6 941.4 L345.1 941.2 L345.6 941.5 L346.1 942.5 L346.6 943.8 L347.1 945.3 L347.6 946.9 L348.1 948.8 L348.6 950.6 L349.1 952.3 L349.6 953.5 L350.1 954.4 L350.6 955.2 L351.1 955.8 L351.6 956.4 L352.1 956.8 L352.6 957.1 L353.1 957.3 L353.6 957.2 L354.1 957.0 L354.6 956.6 L355.1 956.1 L355.6 955.5 L356.1 954.9 L356.6 954.3 L357.1 953.7 L357.6 952.9 L358.1 952.2 L358.6 951.5 L359.1 950.9 L359.6 950.4 L360.1 950.0 L360.6 949.6 L361.1 949.4 L361.6 949.6 L362.1 950.2 L362.6 951.4 L363.1 952.6 L363.6 953.7 L364.1 954.4 L364.6 954.6 L365.1 954.4 L365.6 954.0 L366.1 953.5 L366.6 952.8 L367.1 952.1 L367.6 951.3 L368.1 950.3 L368.6 949.2 L369.1 947.8 L369.6 946.3 L370.1 944.7 L370.6 942.8 L371.1 940.6 L371.6 938.1 L372.1 935.5 L372.6 933.3 L373.1 931.4 L373.6 929.8 L374.1 928.4 L374.6 927.1 L375.1 926.1 L375.6 925.4 L376.1 925.2 L376.6 925.7 L377.1 926.8 L377.6 928.3 L378.1 930.1 L378.6 932.1 L379.1 934.6 L379.6 937.6 L380.1 940.8 L380.6 943.9 L381.1 946.5 L381.6 948.9 L382.1 951.1 L382.6 952.8 L383.1 953.9 L383.6 954.6 L384.1 955.1 L384.6 955.5 L385.1 955.6 L385.6 955.0 L386.1 953.7 L386.6 951.8 L387.1 949.6 L387.6 947.5 L388.1 945.4 L388.6 943.1 L389.1 940.8 L389.6 938.9 L390.1 937.4 L390.6 936.1 L391.1 934.9 L391.6 933.9 L392.1 933.0 L392.6 932.2 L393.1 931.8 L393.6 931.6 L394.1 931.8 L394.6 932.3 L395.1 933.2 L395.6 934.2 L396.1 935.3 L396.6 936.5 L397.1 938.1 L397.6 939.9 L398.1 941.7 L398.6 943.4 L399.1 944.8 L399.6 946.3 L400.1 947.6 L400.6 948.7 L401.1 949.4 L401.6 949.8 L402.1 950.1 L402.6 950.2 L403.1 950.4 L403.6 950.5 L404.1 950.6 L404.6 950.8 L405.1 950.9 L405.6 951.0 L406.1 951.2 L406.6 951.2 L407.1 951.1 L407.6 950.4 L408.1 948.9 L408.6 946.8 L409.1 944.7 L409.6 942.7 L410.1 940.8 L410.6 938.8 L411.1 937.2 L411.6 936.3 L412.1 936.3 L412.6 937.1 L413.1 938.2 L413.6 939.5 L414.1 940.7 L414.6 941.3 L415.1 941.2 L415.6 940.3 L416.1 938.7 L416.6 936.7 L417.1 934.6 L417.6 932.5 L418.1 930.5 L418.6 928.5 L419.1 926.5 L419.6 924.5 L420.1 922.7 L420.6 921.0 L421.1 919.5 L421.6 917.9 L422.1 916.5 L422.6 915.4 L423.1 914.7 L423.6 914.6 L424.1 915.3 L424.6 916.6 L425.1 918.1 L425.6 919.6 L426.1 921.2 L426.6 922.7 L427.1 924.1 L427.6 925.0 L428.1 925.3 L428.6 924.9 L429.1 924.1 L429.6 923.1 L430.1 922.1 L430.6 920.8 L431.1 919.3 L431.6 917.7 L432.1 916.2 L432.6 914.7 L433.1 913.1 L433.6 911.6 L434.1 910.2 L434.6 909.3 L435.1 909.1 L435.6 909.7 L436.1 911.0 L436.6 912.8 L437.1 915.0 L437.6 918.0 L438.1 921.8 L438.6 926.0 L439.1 929.9 L439.6 933.8 L440.1 937.7 L440.6 941.2 L441.1 944.0 L441.6 945.9 L442.1 947.3 L442.6 948.4 L443.1 949.2 L443.6 949.8 L444.1 949.8 L444.6 948.9 L445.1 947.0 L445.6 944.4 L446.1 941.4 L446.6 937.7 L447.1 933.4 L447.6 929.2 L448.1 925.8 L448.6 923.3 L449.1 921.3 L449.6 919.9 L450.1 919.4 L450.6 920.5 L451.1 922.8 L451.6 925.8 L452.1 929.1 L452.6 932.9 L453.1 936.1 L453.1 937.4" fill="none" stroke="#fa0606" stroke-width="1.40" stroke-linejoin="round" stroke-linecap="round"/>
<path d="M195.1 953.6 L195.6 953.3 L196.1 952.9 L196.6 952.6 L197.1 952.3 L197.6 952.0 L198.1 951.7 L198.6 951.4 L199.1 951.2 L199.6 950.9 L200.1 950.8 L200.6 950.7 L201.1 950.8 L201.6 950.9 L202.1 951.1 L202.6 951.3 L203.1 951.5 L203.6 951.8 L204.1 952.1 L204.6 952.3 L205.1 952.7 L205.6 953.0 L206.1 953.4 L206.6 953.7 L207.1 953.9 L207.6 954.0 L208.1 953.7 L208.6 952.6 L209.1 950.9 L209.6 948.7 L210.1 946.2 L210.6 943.2 L211.1 939.6 L211.6 935.7 L212.1 932.5 L212.6 930.2 L213.1 928.3 L213.6 926.7 L214.1 925.5 L214.6 925.0 L215.1 925.2 L215.6 925.9 L216.1 926.9 L216.6 927.9 L217.1 928.9 L217.6 929.8 L218.1 930.8 L218.6 931.6 L219.1 932.3 L219.6 932.6 L220.1 932.9 L220.6 933.0 L221.1 933.2 L221.6 933.4 L222.1 933.8 L222.6 934.5 L223.1 935.6 L223.6 936.8 L224.1 938.0 L224.6 939.1 L225.1 940.1 L225.6 941.2 L226.1 942.0 L226.6 942.4 L227.1 942.1 L227.6 940.8 L228.1 938.9 L228.6 936.7 L229.1 934.7 L229.6 933.0 L230.1 931.5 L230.6 930.1 L231.1 928.7 L231.6 927.6 L232.1 926.7 L232.6 926.3 L233.1 926.3 L233.6 927.0 L234.1 928.1 L234.6 929.4 L235.1 930.7 L235.6 931.8 L236.1 932.8 L236.6 933.9 L237.1 934.8 L237.6 935.3 L238.1 935.1 L238.6 934.0 L239.1 932.1 L239.6 929.8 L240.1 927.5 L240.6 925.0 L241.1 922.4 L241.6 919.7 L242.1 917.2 L242.6 915.1 L243.1 913.3 L243.6 911.5 L244.1 910.0 L244.6 908.9 L245.1 908.7 L245.6 910.1 L246.1 913.2 L246.6 917.1 L247.1 920.8 L247.6 923.8 L248.1 926.4 L248.6 928.9 L249.1 931.1 L249.6 933.1 L250.1 934.9 L250.6 936.6 L251.1 938.1 L251.6 939.5 L252.1 940.9 L252.6 942.1 L253.1 943.3 L253.6 944.3 L254.1 945.4 L254.6 946.3 L255.1 947.3 L255.6 948.2 L256.1 949.0 L256.6 949.8 L257.1 950.5 L257.6 951.1 L258.1 951.6 L258.6 952.1 L259.1 952.5 L259.6 953.0 L260.1 953.3 L260.6 953.6 L261.1 953.9 L261.6 954.2 L262.1 954.5 L262.6 954.8 L263.1 955.0 L263.6 955.2 L264.1 955.4 L264.6 955.6 L265.1 955.7 L265.6 955.7 L266.1 955.7 L266.6 955.6 L267.1 955.4 L267.6 955.2 L268.1 955.0 L268.6 954.7 L269.1 954.4 L269.6 954.2 L270.1 954.0 L270.6 953.8 L271.1 953.6 L271.6 953.4 L272.1 953.2 L272.6 952.8 L273.1 952.1 L273.6 950.8 L274.1 948.9 L274.6 946.6 L275.1 943.5 L275.6 939.5 L276.1 935.0 L276.6 931.2 L277.1 928.5 L277.6 926.5 L278.1 924.7 L278.6 923.3 L279.1 922.2 L279.6 921.6 L280.1 921.5 L280.6 921.6 L281.1 921.9 L281.6 922.1 L282.1 922.3 L282.6 922.4 L283.1 922.2 L283.6 921.9 L284.1 921.6 L284.6 921.3 L285.1 921.1 L285.6 921.3 L286.1 922.0 L286.6 923.2 L287.1 924.8 L287.6 927.0 L288.1 930.2 L288.6 934.0 L289.1 937.8 L289.6 941.0 L290.1 944.0 L290.6 946.8 L291.1 949.0 L291.6 950.6 L292.1 951.8 L292.6 952.7 L293.1 953.5 L293.6 954.1 L294.1 954.5 L294.6 954.8 L295.1 954.9 L295.6 955.0 L296.1 955.1 L296.6 955.2 L297.1 955.3 L297.6 955.3 L298.1 955.3 L298.6 955.2 L299.1 955.1 L299.6 955.0 L300.1 954.8 L300.6 954.6 L301.1 954.5 L301.6 954.4 L302.1 954.4 L302.6 954.5 L303.1 954.8 L303.6 955.1 L304.1 955.5 L304.6 955.9 L305.1 956.1 L305.6 956.3 L306.1 956.4 L306.6 956.5 L307.1 956.7 L307.6 956.8 L308.1 956.9 L308.6 956.9 L309.1 957.0 L309.6 957.1 L310.1 957.2 L310.6 957.3 L311.1 957.3 L311.6 957.4 L312.1 957.5 L312.6 957.6 L313.1 957.6 L313.6 957.7 L314.1 957.8 L314.6 957.8 L315.1 957.9 L315.6 958.0 L316.1 958.0 L316.6 958.1 L317.1 958.1 L317.6 958.1 L318.1 958.1 L318.6 958.2 L319.1 958.2 L319.6 958.2 L320.1 958.2 L320.6 958.2 L321.1 958.2 L321.6 958.3 L322.1 958.3 L322.6 958.3 L323.1 958.3 L323.6 958.3 L324.1 958.3 L324.6 958.3 L325.1 958.3 L325.6 958.3 L326.1 958.3 L326.6 958.3 L327.1 958.3 L327.6 958.3 L328.1 958.3 L328.6 958.3 L329.1 958.3 L329.6 958.2 L330.1 958.1 L330.6 957.9 L331.1 957.6 L331.6 957.1 L332.1 956.6 L332.6 956.1 L333.1 955.7 L333.6 955.3 L334.1 954.9 L334.6 954.5 L335.1 954.1 L335.6 953.8 L336.1 953.8 L336.6 953.8 L337.1 954.1 L337.6 954.4 L338.1 954.7 L338.6 955.0 L339.1 955.3 L339.6 955.5 L340.1 955.7 L340.6 955.8 L341.1 956.0 L341.6 956.1 L342.1 956.1 L342.6 956.0 L343.1 955.9 L343.6 955.6 L344.1 955.2 L344.6 954.9 L345.1 954.5 L345.6 954.1 L346.1 953.8 L346.6 953.5 L347.1 953.2 L347.6 952.9 L348.1 952.6 L348.6 952.3 L349.1 952.1 L349.6 951.9 L350.1 951.7 L350.6 951.6 L351.1 951.5 L351.6 951.4 L352.1 951.4 L352.6 951.3 L353.1 951.3 L353.6 951.4 L354.1 951.6 L354.6 951.9 L355.1 952.2 L355.6 952.5 L356.1 952.6 L356.6 952.6 L357.1 952.4 L357.6 952.1 L358.1 951.7 L358.6 951.3 L359.1 950.8 L359.6 950.4 L360.1 950.0 L360.6 949.6 L361.1 949.4 L361.6 949.4 L362.1 949.7 L362.6 950.2 L363.1 950.8 L363.6 951.4 L364.1 951.8 L364.6 952.1 L365.1 952.3 L365.6 952.5 L366.1 952.6 L366.6 952.6 L367.1 952.3 L367.6 951.9 L368.1 951.3 L368.6 950.6 L369.1 950.0 L369.6 949.5 L370.1 948.9 L370.6 948.3 L371.1 947.8 L371.6 947.3 L372.1 946.9 L372.6 946.6 L373.1 946.3 L373.6 946.1 L374.1 945.9 L374.6 945.8 L375.1 945.7 L375.6 945.7 L376.1 945.8 L376.6 946.0 L377.1 946.4 L377.6 946.8 L378.1 947.3 L378.6 947.8 L379.1 948.5 L379.6 949.4 L380.1 950.3 L380.6 951.3 L381.1 952.1 L381.6 952.8 L382.1 953.3 L382.6 953.8 L383.1 954.3 L383.6 954.8 L384.1 955.2 L384.6 955.5 L385.1 955.6 L385.6 955.7 L386.1 955.6 L386.6 955.3 L387.1 955.0 L387.6 954.6 L388.1 954.1 L388.6 953.6 L389.1 953.1 L389.6 952.7 L390.1 952.3 L390.6 951.9 L391.1 951.5 L391.6 951.2 L392.1 950.8 L392.6 950.4 L393.1 950.1 L393.6 949.7 L394.1 949.3 L394.6 949.0 L395.1 948.6 L395.6 948.3 L396.1 948.0 L396.6 947.7 L397.1 947.4 L397.6 947.1 L398.1 946.9 L398.6 946.7 L399.1 946.7 L399.6 946.9 L400.1 947.3 L400.6 947.9 L401.1 948.6 L401.6 949.2 L402.1 949.7 L402.6 950.3 L403.1 950.9 L403.6 951.4 L404.1 951.8 L404.6 952.0 L405.1 951.8 L405.6 951.2 L406.1 950.3 L406.6 949.4 L407.1 948.5 L407.6 947.9 L408.1 947.5 L408.6 947.3 L409.1 947.1 L409.6 947.0 L410.1 946.8 L410.6 946.7 L411.1 946.6 L411.6 946.4 L412.1 946.3 L412.6 946.2 L413.1 946.0 L413.6 945.7 L414.1 944.7 L414.6 942.7 L415.1 939.9 L415.6 936.9 L416.1 934.0 L416.6 931.0 L417.1 928.1 L417.6 925.7 L418.1 924.6 L418.6 925.2 L419.1 927.3 L419.6 930.0 L420.1 932.6 L420.6 934.9 L421.1 937.1 L421.6 938.8 L422.1 939.9 L422.6 940.6 L423.1 941.1 L423.6 941.5 L424.1 941.4 L424.6 940.9 L425.1 940.1 L425.6 939.1 L426.1 938.0 L426.6 937.0 L427.1 935.9 L427.6 934.7 L428.1 933.5 L428.6 932.5 L429.1 931.9 L429.6 931.7 L430.1 932.0 L430.6 932.8 L431.1 933.8 L431.6 934.7 L432.1 935.3 L432.6 935.2 L433.1 934.5 L433.6 933.4 L434.1 932.2 L434.6 931.1 L435.1 930.1 L435.6 929.2 L436.1 928.3 L436.6 927.8 L437.1 927.8 L437.6 928.9 L438.1 931.0 L438.6 933.4 L439.1 935.8 L439.6 938.1 L440.1 940.4 L440.6 942.3 L441.1 943.6 L441.6 944.4 L442.1 945.0 L442.6 945.4 L443.1 945.5 L443.6 945.2 L444.1 944.5 L444.6 943.5 L445.1 942.6 L445.6 941.8 L446.1 941.2 L446.6 940.6 L447.1 940.1 L447.6 939.7 L448.1 939.4 L448.6 939.3 L449.1 939.6 L449.6 940.6 L450.1 941.9 L450.6 943.2 L451.1 944.5 L451.6 945.7 L452.1 946.9 L452.6 948.2 L453.1 949.2 L453.1 949.6" fill="none" stroke="#0a800a" stroke-width="1.40" stroke-linejoin="round" stroke-linecap="round"/>
<path d="M195.1 950.4 L195.6 949.6 L196.1 948.5 L196.6 947.5 L197.1 946.7 L197.6 946.1 L198.1 945.7 L198.6 945.4 L199.1 945.2 L199.6 945.1 L200.1 945.0 L200.6 944.8 L201.1 944.6 L201.6 944.4 L202.1 944.2 L202.6 943.9 L203.1 943.6 L203.6 943.2 L204.1 942.5 L204.6 941.3 L205.1 939.1 L205.6 936.5 L206.1 934.0 L206.6 931.8 L207.1 929.7 L207.6 927.7 L208.1 926.3 L208.6 925.8 L209.1 926.6 L209.6 928.5 L210.1 931.0 L210.6 933.3 L211.1 935.3 L211.6 937.4 L212.1 939.3 L212.6 940.9 L213.1 942.2 L213.6 943.1 L214.1 943.8 L214.6 944.5 L215.1 945.0 L215.6 945.4 L216.1 945.5 L216.6 945.1 L217.1 943.7 L217.6 941.5 L218.1 938.9 L218.6 936.1 L219.1 933.1 L219.6 929.6 L220.1 925.9 L220.6 922.2 L221.1 918.9 L221.6 916.0 L222.1 913.3 L222.6 910.7 L223.1 908.2 L223.6 906.0 L224.1 904.1 L224.6 902.7 L225.1 901.9 L225.6 901.9 L226.1 902.6 L226.6 903.9 L227.1 905.3 L227.6 906.7 L228.1 908.0 L228.6 909.3 L229.1 910.5 L229.6 911.7 L230.1 912.7 L230.6 913.7 L231.1 914.6 L231.6 915.4 L232.1 916.2 L232.6 916.8 L233.1 917.2 L233.6 916.8 L234.1 915.2 L234.6 912.1 L235.1 908.2 L235.6 903.7 L236.1 898.2 L236.6 891.8 L237.1 885.5 L237.6 879.9 L238.1 874.8 L238.6 869.9 L239.1 865.8 L239.6 863.4 L240.1 863.3 L240.6 865.5 L241.1 869.4 L241.6 873.9 L242.1 879.2 L242.6 885.1 L243.1 890.7 L243.6 895.5 L244.1 899.6 L244.6 903.4 L245.1 906.6 L245.6 908.9 L246.1 909.9 L246.6 909.5 L247.1 908.0 L247.6 906.2 L248.1 904.6 L248.6 903.3 L249.1 902.1 L249.6 901.2 L250.1 900.8 L250.6 901.0 L251.1 901.8 L251.6 902.9 L252.1 904.1 L252.6 905.2 L253.1 906.2 L253.6 907.1 L254.1 908.1 L254.6 909.1 L255.1 909.9 L255.6 910.6 L256.1 911.1 L256.6 911.2 L257.1 910.8 L257.6 909.8 L258.1 908.3 L258.6 906.8 L259.1 905.2 L259.6 903.7 L260.1 902.2 L260.6 900.6 L261.1 899.0 L261.6 897.5 L262.1 896.2 L262.6 894.9 L263.1 893.7 L263.6 892.6 L264.1 891.7 L264.6 891.4 L265.1 891.9 L265.6 893.5 L266.1 895.8 L266.6 898.5 L267.1 901.4 L267.6 904.6 L268.1 908.3 L268.6 912.1 L269.1 916.1 L269.6 920.3 L270.1 924.7 L270.6 928.9 L271.1 932.8 L271.6 936.6 L272.1 940.3 L272.6 943.7 L273.1 946.7 L273.6 948.8 L274.1 950.3 L274.6 951.4 L275.1 952.4 L275.6 953.2 L276.1 953.7 L276.6 954.0 L277.1 954.1 L277.6 954.0 L278.1 953.8 L278.6 953.6 L279.1 953.3 L279.6 952.9 L280.1 952.3 L280.6 951.4 L281.1 950.1 L281.6 948.6 L282.1 946.9 L282.6 945.2 L283.1 943.3 L283.6 941.1 L284.1 938.9 L284.6 936.8 L285.1 934.9 L285.6 933.0 L286.1 931.3 L286.6 929.6 L287.1 927.9 L287.6 926.4 L288.1 925.0 L288.6 923.7 L289.1 922.5 L289.6 921.3 L290.1 920.2 L290.6 919.1 L291.1 918.1 L291.6 917.1 L292.1 916.0 L292.6 915.0 L293.1 914.2 L293.6 913.5 L294.1 913.1 L294.6 913.1 L295.1 913.6 L295.6 914.6 L296.1 915.8 L296.6 917.2 L297.1 918.7 L297.6 920.4 L298.1 922.3 L298.6 924.5 L299.1 926.9 L299.6 929.3 L300.1 932.1 L300.6 935.1 L301.1 938.2 L301.6 941.1 L302.1 943.7 L302.6 946.2 L303.1 948.5 L303.6 950.6 L304.1 952.3 L304.6 953.5 L305.1 954.2 L305.6 954.7 L306.1 955.1 L306.6 955.4 L307.1 955.6 L307.6 955.6 L308.1 955.4 L308.6 954.9 L309.1 954.3 L309.6 953.6 L310.1 953.0 L310.6 952.6 L311.1 952.4 L311.6 952.7 L312.1 953.3 L312.6 954.2 L313.1 955.0 L313.6 955.7 L314.1 956.2 L314.6 956.7 L315.1 957.1 L315.6 957.5 L316.1 957.8 L316.6 958.0 L317.1 958.1 L317.6 958.2 L318.1 958.2 L318.6 958.2 L319.1 958.2 L319.6 958.2 L320.1 958.2 L320.6 958.3 L321.1 958.3 L321.6 958.3 L322.1 958.3 L322.6 958.3 L323.1 958.3 L323.6 958.3 L324.1 958.3 L324.6 958.3 L325.1 958.3 L325.6 958.3 L326.1 958.3 L326.6 958.3 L327.1 958.3 L327.6 958.3 L328.1 958.3 L328.6 958.3 L329.1 958.3 L329.6 958.2 L330.1 958.1 L330.6 958.0 L331.1 957.9 L331.6 957.7 L332.1 957.5 L332.6 957.3 L333.1 957.1 L333.6 956.9 L334.1 956.7 L334.6 956.6 L335.1 956.4 L335.6 956.3 L336.1 956.2 L336.6 956.0 L337.1 955.9 L337.6 955.8 L338.1 955.7 L338.6 955.7 L339.1 955.6 L339.6 955.6 L340.1 955.5 L340.6 955.5 L341.1 955.5 L341.6 955.4 L342.1 955.3 L342.6 955.2 L343.1 955.0 L343.6 954.8 L344.1 954.5 L344.6 954.2 L345.1 954.0 L345.6 953.8 L346.1 953.7 L346.6 953.7 L347.1 953.8 L347.6 953.9 L348.1 954.1 L348.6 954.2 L349.1 954.4 L349.6 954.5 L350.1 954.7 L350.6 954.8 L351.1 954.9 L351.6 955.0 L352.1 955.2 L352.6 955.3 L353.1 955.4 L353.6 955.5 L354.1 955.7 L354.6 955.9 L355.1 956.1 L355.6 956.3 L356.1 956.6 L356.6 956.8 L357.1 957.1 L357.6 957.2 L358.1 957.3 L358.6 957.2 L359.1 956.9 L359.6 956.3 L360.1 955.6 L360.6 954.8 L361.1 954.1 L361.6 953.4 L362.1 952.7 L362.6 952.1 L363.1 951.4 L363.6 950.8 L364.1 950.0 L364.6 949.3 L365.1 948.6 L365.6 947.8 L366.1 946.9 L366.6 946.1 L367.1 945.2 L367.6 944.2 L368.1 943.3 L368.6 942.3 L369.1 941.2 L369.6 939.9 L370.1 938.5 L370.6 936.7 L371.1 934.3 L371.6 931.3 L372.1 928.1 L372.6 924.9 L373.1 921.9 L373.6 918.9 L374.1 916.0 L374.6 913.2 L375.1 910.9 L375.6 908.9 L376.1 907.1 L376.6 905.6 L377.1 904.3 L377.6 903.6 L378.1 903.7 L378.6 905.0 L379.1 907.1 L379.6 909.7 L380.1 912.6 L380.6 916.0 L381.1 919.9 L381.6 923.7 L382.1 927.2 L382.6 930.3 L383.1 933.2 L383.6 935.8 L384.1 938.0 L384.6 939.6 L385.1 940.9 L385.6 942.1 L386.1 943.1 L386.6 943.9 L387.1 944.4 L387.6 944.6 L388.1 944.5 L388.6 944.3 L389.1 944.0 L389.6 943.6 L390.1 943.4 L390.6 943.2 L391.1 943.2 L391.6 943.1 L392.1 943.1 L392.6 943.0 L393.1 943.0 L393.6 943.0 L394.1 943.2 L394.6 943.5 L395.1 944.0 L395.6 944.6 L396.1 945.1 L396.6 945.6 L397.1 946.0 L397.6 946.4 L398.1 946.9 L398.6 947.2 L399.1 947.5 L399.6 947.6 L400.1 947.7 L400.6 947.7 L401.1 947.7 L401.6 947.7 L402.1 947.7 L402.6 947.7 L403.1 947.7 L403.6 947.7 L404.1 947.8 L404.6 947.9 L405.1 948.0 L405.6 948.0 L406.1 947.7 L406.6 946.9 L407.1 945.7 L407.6 944.0 L408.1 941.5 L408.6 937.8 L409.1 933.7 L409.6 929.8 L410.1 926.1 L410.6 922.7 L411.1 919.9 L411.6 917.9 L412.1 916.3 L412.6 915.1 L413.1 914.6 L413.6 914.9 L414.1 915.9 L414.6 917.1 L415.1 917.9 L415.6 917.9 L416.1 916.7 L416.6 914.4 L417.1 911.4 L417.6 907.9 L418.1 903.4 L418.6 898.1 L419.1 892.8 L419.6 887.9 L420.1 883.3 L420.6 879.1 L421.1 876.1 L421.6 874.2 L422.1 872.9 L422.6 872.0 L423.1 871.6 L423.6 872.2 L424.1 874.2 L424.6 877.1 L425.1 880.5 L425.6 884.7 L426.1 889.4 L426.6 894.1 L427.1 898.8 L427.6 903.4 L428.1 907.8 L428.6 911.3 L429.1 913.7 L429.6 915.2 L430.1 916.4 L430.6 917.0 L431.1 916.9 L431.6 915.5 L432.1 912.9 L432.6 909.7 L433.1 906.5 L433.6 902.9 L434.1 899.1 L434.6 895.7 L435.1 892.8 L435.6 890.3 L436.1 888.3 L436.6 886.8 L437.1 886.3 L437.6 886.7 L438.1 887.6 L438.6 888.7 L439.1 889.6 L439.6 890.2 L440.1 890.5 L440.6 890.8 L441.1 891.0 L441.6 891.2 L442.1 891.6 L442.6 892.2 L443.1 893.0 L443.6 894.0 L444.1 895.4 L444.6 897.4 L445.1 900.0 L445.6 902.7 L446.1 905.1 L446.6 907.1 L447.1 908.9 L447.6 910.5 L448.1 912.0 L448.6 913.6 L449.1 915.0 L449.6 916.4 L450.1 917.9 L450.6 919.7 L451.1 921.8 L451.6 924.2 L452.1 927.0 L452.6 929.9 L453.1 932.4 L453.1 933.4" fill="none" stroke="#0606fa" stroke-width="1.40" stroke-linejoin="round" stroke-linecap="round"/>
<path d="M195.1 937.9 L195.6 936.0 L196.1 933.5 L196.6 931.4 L197.1 929.6 L197.6 928.2 L198.1 926.9 L198.6 925.8 L199.1 924.7 L199.6 923.7 L200.1 922.6 L200.6 921.5 L201.1 920.4 L201.6 919.6 L202.1 919.1 L202.6 918.9 L203.1 918.8 L203.6 918.7 L204.1 918.7 L204.6 918.7 L205.1 918.6 L205.6 918.5 L206.1 918.3 L206.6 917.8 L207.1 916.7 L207.6 915.2 L208.1 913.7 L208.6 912.3 L209.1 911.0 L209.6 909.7 L210.1 908.3 L210.6 907.0 L211.1 905.7 L211.6 904.3 L212.1 902.9 L212.6 901.5 L213.1 900.2 L213.6 898.9 L214.1 897.6 L214.6 896.6 L215.1 895.7 L215.6 894.9 L216.1 894.0 L216.6 893.0 L217.1 891.6 L217.6 889.3 L218.1 885.7 L218.6 880.9 L219.1 875.4 L219.6 868.9 L220.1 861.3 L220.6 852.8 L221.1 844.5 L221.6 836.8 L222.1 829.5 L222.6 822.7 L223.1 817.1 L223.6 812.7 L224.1 809.4 L224.6 807.1 L225.1 806.9 L225.6 809.4 L226.1 813.8 L226.6 819.5 L227.1 826.5 L227.6 833.6 L228.1 839.2 L228.6 843.5 L229.1 847.1 L229.6 850.0 L230.1 851.7 L230.6 852.0 L231.1 851.0 L231.6 849.0 L232.1 846.5 L232.6 843.4 L233.1 839.4 L233.6 834.3 L234.1 828.7 L234.6 822.4 L235.1 815.3 L235.6 807.7 L236.1 800.8 L236.6 795.4 L237.1 791.0 L237.6 787.1 L238.1 783.6 L238.6 781.0 L239.1 779.3 L239.6 779.1 L240.1 780.5 L240.6 783.3 L241.1 787.0 L241.6 791.1 L242.1 796.0 L242.6 801.7 L243.1 807.5 L243.6 813.0 L244.1 818.1 L244.6 822.9 L245.1 827.1 L245.6 830.8 L246.1 834.0 L246.6 836.5 L247.1 837.6 L247.6 836.2 L248.1 832.8 L248.6 828.3 L249.1 823.2 L249.6 818.1 L250.1 814.1 L250.6 811.3 L251.1 810.1 L251.6 811.1 L252.1 814.1 L252.6 818.7 L253.1 824.8 L253.6 832.5 L254.1 840.6 L254.6 848.5 L255.1 855.9 L255.6 862.0 L256.1 866.8 L256.6 870.0 L257.1 871.1 L257.6 869.5 L258.1 865.9 L258.6 861.4 L259.1 856.4 L259.6 851.0 L260.1 846.4 L260.6 843.3 L261.1 841.0 L261.6 839.2 L262.1 837.9 L262.6 837.4 L263.1 838.1 L263.6 840.3 L264.1 843.3 L264.6 847.3 L265.1 852.3 L265.6 858.2 L266.1 864.4 L266.6 870.8 L267.1 877.3 L267.6 883.9 L268.1 890.4 L268.6 896.7 L269.1 902.9 L269.6 908.9 L270.1 914.4 L270.6 919.5 L271.1 924.1 L271.6 928.3 L272.1 931.7 L272.6 934.3 L273.1 936.4 L273.6 938.1 L274.1 939.1 L274.6 938.9 L275.1 937.1 L275.6 934.1 L276.1 930.4 L276.6 926.1 L277.1 921.1 L277.6 915.8 L278.1 910.8 L278.6 906.6 L279.1 902.8 L279.6 899.4 L280.1 896.2 L280.6 893.4 L281.1 890.9 L281.6 888.4 L282.1 886.0 L282.6 883.2 L283.1 880.2 L283.6 877.3 L284.1 874.9 L284.6 873.1 L285.1 871.6 L285.6 870.5 L286.1 869.8 L286.6 870.1 L287.1 871.5 L287.6 873.5 L288.1 876.0 L288.6 879.0 L289.1 882.3 L289.6 885.2 L290.1 887.6 L290.6 889.7 L291.1 891.6 L291.6 893.2 L292.1 894.6 L292.6 895.8 L293.1 896.9 L293.6 898.2 L294.1 899.7 L294.6 901.5 L295.1 903.6 L295.6 905.8 L296.1 908.0 L296.6 910.0 L297.1 911.9 L297.6 913.8 L298.1 915.7 L298.6 917.6 L299.1 919.7 L299.6 922.0 L300.1 924.3 L300.6 926.8 L301.1 929.5 L301.6 932.5 L302.1 936.0 L302.6 939.7 L303.1 943.2 L303.6 946.2 L304.1 948.8 L304.6 951.0 L305.1 952.7 L305.6 953.7 L306.1 954.3 L306.6 954.7 L307.1 955.0 L307.6 955.2 L308.1 955.2 L308.6 954.9 L309.1 954.1 L309.6 953.0 L310.1 951.9 L310.6 950.8 L311.1 950.1 L311.6 949.9 L312.1 950.4 L312.6 951.4 L313.1 952.6 L313.6 953.7 L314.1 954.7 L314.6 955.6 L315.1 956.5 L315.6 957.2 L316.1 957.6 L316.6 957.9 L317.1 958.0 L317.6 958.1 L318.1 958.1 L318.6 958.1 L319.1 958.1 L319.6 958.1 L320.1 958.1 L320.6 958.1 L321.1 958.1 L321.6 958.1 L322.1 958.1 L322.6 958.1 L323.1 958.1 L323.6 958.1 L324.1 958.1 L324.6 958.1 L325.1 958.1 L325.6 958.1 L326.1 958.1 L326.6 958.1 L327.1 958.1 L327.6 958.1 L328.1 958.1 L328.6 958.1 L329.1 958.0 L329.6 957.9 L330.1 957.6 L330.6 957.0 L331.1 955.9 L331.6 954.4 L332.1 952.9 L332.6 951.2 L333.1 949.4 L333.6 947.4 L334.1 945.5 L334.6 944.0 L335.1 942.7 L335.6 941.6 L336.1 940.8 L336.6 940.4 L337.1 940.7 L337.6 941.6 L338.1 943.0 L338.6 944.3 L339.1 945.5 L339.6 946.8 L340.1 947.8 L340.6 948.4 L341.1 948.1 L341.6 946.8 L342.1 945.1 L342.6 943.2 L343.1 941.5 L343.6 939.9 L344.1 938.4 L344.6 937.0 L345.1 936.0 L345.6 935.1 L346.1 934.8 L346.6 935.1 L347.1 936.2 L347.6 937.7 L348.1 939.2 L348.6 940.5 L349.1 941.6 L349.6 942.7 L350.1 943.7 L350.6 944.5 L351.1 945.2 L351.6 945.7 L352.1 946.2 L352.6 946.7 L353.1 947.1 L353.6 947.6 L354.1 948.1 L354.6 948.6 L355.1 949.1 L355.6 949.4 L356.1 949.6 L356.6 949.2 L357.1 948.3 L357.6 946.8 L358.1 945.3 L358.6 943.7 L359.1 942.0 L359.6 940.2 L360.1 938.6 L360.6 937.6 L361.1 937.4 L361.6 937.7 L362.1 938.4 L362.6 939.0 L363.1 939.5 L363.6 939.9 L364.1 940.2 L364.6 940.5 L365.1 940.5 L365.6 940.1 L366.1 939.4 L366.6 938.4 L367.1 937.2 L367.6 935.9 L368.1 934.2 L368.6 932.1 L369.1 929.6 L369.6 926.6 L370.1 923.1 L370.6 918.6 L371.1 913.4 L371.6 907.8 L372.1 902.1 L372.6 896.0 L373.1 889.8 L373.6 883.9 L374.1 878.5 L374.6 873.6 L375.1 869.5 L375.6 866.5 L376.1 864.5 L376.6 863.1 L377.1 862.6 L377.6 863.3 L378.1 865.0 L378.6 867.5 L379.1 870.9 L379.6 875.9 L380.1 881.9 L380.6 888.2 L381.1 894.3 L381.6 900.5 L382.1 906.5 L382.6 912.0 L383.1 917.2 L383.6 922.1 L384.1 926.3 L384.6 929.7 L385.1 932.4 L385.6 934.7 L386.1 936.3 L386.6 936.7 L387.1 935.7 L387.6 933.3 L388.1 930.4 L388.6 927.4 L389.1 924.3 L389.6 921.1 L390.1 918.0 L390.6 915.5 L391.1 913.5 L391.6 911.8 L392.1 910.4 L392.6 909.4 L393.1 908.7 L393.6 908.2 L394.1 907.9 L394.6 907.8 L395.1 908.4 L395.6 909.6 L396.1 911.3 L396.6 913.2 L397.1 915.5 L397.6 918.2 L398.1 921.1 L398.6 923.6 L399.1 925.3 L399.6 926.5 L400.1 927.3 L400.6 928.0 L401.1 928.7 L401.6 929.4 L402.1 930.1 L402.6 930.9 L403.1 931.7 L403.6 932.4 L404.1 933.2 L404.6 934.0 L405.1 935.0 L405.6 935.8 L406.1 936.3 L406.6 935.7 L407.1 933.5 L407.6 930.0 L408.1 925.7 L408.6 920.5 L409.1 914.2 L409.6 907.5 L410.1 901.1 L410.6 895.0 L411.1 889.8 L411.6 886.0 L412.1 883.1 L412.6 881.0 L413.1 880.0 L413.6 880.0 L414.1 880.4 L414.6 880.8 L415.1 880.2 L415.6 878.2 L416.1 874.8 L416.6 870.8 L417.1 866.3 L417.6 860.8 L418.1 854.6 L418.6 848.0 L419.1 841.2 L419.6 834.0 L420.1 827.0 L420.6 821.2 L421.1 817.3 L421.6 814.4 L422.1 812.2 L422.6 811.0 L423.1 810.9 L423.6 812.2 L424.1 814.4 L424.6 817.4 L425.1 821.5 L425.6 826.7 L426.1 832.2 L426.6 837.8 L427.1 843.4 L427.6 848.1 L428.1 851.2 L428.6 853.1 L429.1 854.2 L429.6 854.6 L430.1 854.0 L430.6 852.7 L431.1 850.8 L431.6 848.2 L432.1 844.5 L432.6 839.4 L433.1 833.8 L433.6 828.2 L434.1 822.5 L434.6 817.7 L435.1 814.4 L435.6 812.4 L436.1 811.1 L436.6 810.9 L437.1 812.3 L437.6 815.4 L438.1 819.6 L438.6 824.9 L439.1 831.4 L439.6 838.5 L440.1 845.4 L440.6 851.9 L441.1 857.7 L441.6 862.1 L442.1 865.0 L442.6 867.2 L443.1 868.9 L443.6 870.0 L444.1 870.4 L444.6 870.1 L445.1 869.3 L445.6 868.2 L446.1 866.7 L446.6 864.5 L447.1 861.8 L447.6 859.5 L448.1 858.0 L448.6 857.0 L449.1 856.8 L449.6 857.8 L450.1 860.3 L450.6 864.2 L451.1 870.2 L451.6 878.5 L452.1 887.6 L452.6 896.8 L453.1 904.0 L453.1 907.0" fill="none" stroke="#141414" stroke-width="1.20" stroke-linejoin="round" stroke-linecap="round"/>
<rect x="191.90" y="756.90" width="264.90" height="204.60" fill="none" stroke="#111" stroke-width="1.7"/>
<path d="M187.00 958.00h4.90M189.10 948.09h2.80M189.10 938.18h2.80M189.10 928.27h2.80M189.10 918.36h2.80M187.00 908.45h4.90M189.10 898.54h2.80M189.10 888.63h2.80M189.10 878.72h2.80M189.10 868.81h2.80M187.00 858.90h4.90M189.10 848.99h2.80M189.10 839.08h2.80M189.10 829.17h2.80M189.10 819.26h2.80M187.00 809.35h4.90M189.10 799.44h2.80M189.10 789.53h2.80M189.10 779.62h2.80M189.10 769.71h2.80M187.00 759.80h4.90M204.05 961.50v5.50M215.77 961.50v3.40M227.49 961.50v3.40M239.21 961.50v3.40M250.93 961.50v3.40M262.65 961.50v5.50M274.37 961.50v3.40M286.09 961.50v3.40M297.81 961.50v3.40M309.53 961.50v3.40M321.25 961.50v5.50M332.97 961.50v3.40M344.69 961.50v3.40M356.41 961.50v3.40M368.13 961.50v3.40M379.85 961.50v5.50M391.57 961.50v3.40M403.29 961.50v3.40M415.01 961.50v3.40M426.73 961.50v3.40M438.45 961.50v5.50M450.17 961.50v3.40" stroke="#222" stroke-width="0.95" fill="none"/>
<text x="184.70" y="961.10" text-anchor="end" class="t" font-size="9.20">0</text>
<text x="184.70" y="911.55" text-anchor="end" class="t" font-size="9.20">5</text>
<text x="184.70" y="862.00" text-anchor="end" class="t" font-size="9.20">10</text>
<text x="184.70" y="812.45" text-anchor="end" class="t" font-size="9.20">15</text>
<text x="184.70" y="762.90" text-anchor="end" class="t" font-size="9.20">20</text>
<text x="202.15" y="976.60" text-anchor="middle" class="t" font-size="9.20">-15</text>
<text x="260.75" y="976.60" text-anchor="middle" class="t" font-size="9.20">-10</text>
<text x="319.35" y="976.60" text-anchor="middle" class="t" font-size="9.20">-5</text>
<text x="379.85" y="976.60" text-anchor="middle" class="t" font-size="9.20">0</text>
<text x="438.45" y="976.60" text-anchor="middle" class="t" font-size="9.20">5</text>
<text x="291.00" y="986.30" class="a"><tspan textLength="35.40" lengthAdjust="spacingAndGlyphs">Energy</tspan><tspan dx="-0.12" textLength="23.30" lengthAdjust="spacingAndGlyphs">(ev)</tspan></text>
<text transform="translate(171.30 857.20) rotate(-90)" text-anchor="middle" class="a" textLength="89.4" lengthAdjust="spacingAndGlyphs">Relative Intensity</text>
<text transform="translate(335.90 793.50) scale(1.05 1.10)" text-anchor="middle" class="h">TPD6</text>
<path d="M458.40 763.50H462.30" stroke="#fa0606" stroke-width="1.3"/>
<text x="464.90" y="767.50" class="l" font-size="9.66">Accepter-2</text>
<path d="M458.40 779.80H462.30" stroke="#0a800a" stroke-width="1.3"/>
<text x="464.90" y="782.30" class="l" font-size="9.66">Accepter-1</text>
<path d="M458.40 796.30H462.30" stroke="#0606fa" stroke-width="1.3"/>
<text x="464.90" y="798.80" class="l" font-size="9.66">Donor</text>
<path d="M458.40 812.30H462.30" stroke="#141414" stroke-width="1.3"/>
<text x="464.90" y="813.80" class="l" font-size="9.66">Total</text></g>
</svg>
</body></html>
